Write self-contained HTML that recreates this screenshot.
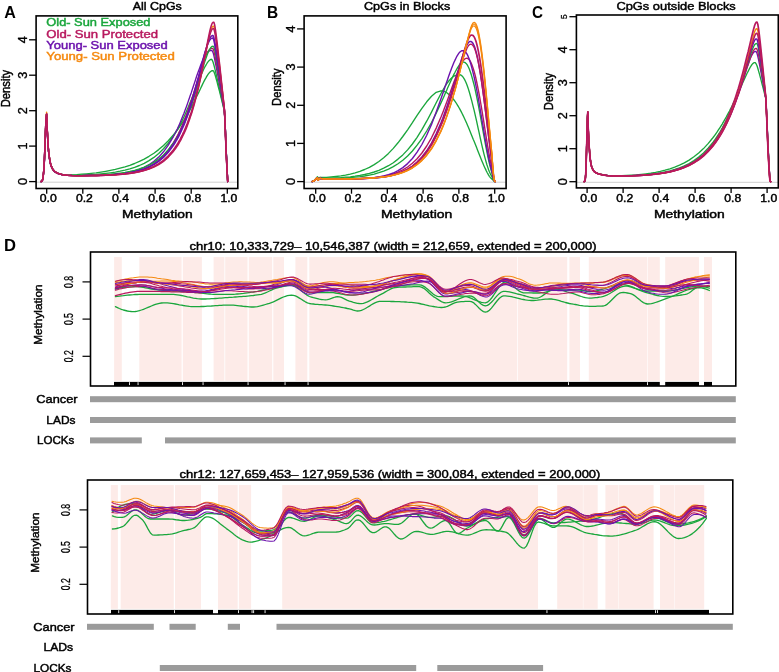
<!DOCTYPE html>
<html><head><meta charset="utf-8"><style>
html,body{margin:0;padding:0;background:#fff;width:779px;height:672px;overflow:hidden;}
svg{display:block;will-change:transform;font-family:"Liberation Sans", sans-serif;}
</style></head><body>
<svg width="779" height="672" viewBox="0 0 779 672" font-family='"Liberation Sans", sans-serif'>
<rect width="779" height="672" fill="#fff"/>
<line x1="36.1" y1="182.2" x2="237.8" y2="182.2" stroke="#cfcfcf" stroke-width="1"/>
<g stroke-linejoin="round" stroke-linecap="round">
<path d="M41.1 181.5 L41.6 181.4 L42 181 L42.4 180.3 L42.8 178.9 L43.2 176.4 L43.6 172.3 L44.1 166.2 L44.5 158 L44.9 147.8 L45.3 136.8 L45.7 126.4 L46.1 118.4 L46.6 114.4 L47 125.2 L47.4 132.8 L47.8 140.5 L48.2 146.7 L48.6 151.6 L49.1 155.4 L49.5 158.5 L49.9 161 L50.3 162.9 L50.7 164.6 L51.1 165.9 L51.6 167 L52 167.9 L52.4 168.7 L52.8 169.4 L53.2 169.9 L53.6 170.4 L54.1 170.9 L54.5 171.3 L54.9 171.6 L55.3 171.9 L55.7 172.2 L57.5 173.1 L62.4 174.4 L67.2 174.8 L72 174.8 L76.8 174.6 L81.6 174.2 L86.4 173.8 L91.2 173.3 L96.1 172.8 L100.9 172.1 L105.7 171.3 L110.5 170.4 L115.3 169.4 L120.1 168.2 L125 166.9 L129.8 165.3 L134.6 163.5 L139.4 161.4 L144.2 159.1 L149 156.3 L153.9 153.2 L158.7 149.6 L163.5 145.5 L168.3 140.7 L173.1 135.3 L174.9 133.1 L175.7 132 L176.5 131 L177.4 129.9 L178.2 128.8 L179 127.7 L179.8 126.5 L180.6 125.3 L181.4 124.1 L182.2 122.9 L183 121.6 L183.9 120.4 L184.7 119 L185.5 117.7 L186.3 116.3 L187.1 115 L187.9 113.5 L188.7 112.1 L189.5 110.6 L190.3 109.1 L191.2 107.6 L192 106.1 L192.8 104.5 L193.6 102.9 L194.4 101.3 L195.2 99.6 L196 98 L196.8 96.3 L197.6 94.6 L198.5 92.9 L199.3 91.2 L200.1 89.5 L200.9 87.8 L201.7 86.1 L202.5 84.4 L203.3 82.7 L204.1 81.1 L204.9 79.6 L205.8 78.1 L206.6 76.6 L207.4 75.3 L208.2 74.1 L209 73.1 L209.8 72.2 L210.6 71.5 L211.4 71 L212.2 70.7 L213.1 70.7 L213.9 71.7 L214.7 73.8 L215.5 76.3 L216.3 79.2 L217.1 82.2 L217.9 85.3 L218.7 88.4 L219.6 91.6 L220.4 94.8 L221.2 98 L222 101.3 L222.8 104.5 L223.6 107.8 L224.4 111.1 L225.2 125.1 L226 145.8 L226.9 164.7 L227.7 181.6" stroke="#1aa63c" stroke-width="1.35" fill="none"/>
<path d="M41.1 181.5 L41.6 181.4 L42 181 L42.4 180.3 L42.8 178.9 L43.2 176.4 L43.6 172.3 L44.1 166.2 L44.5 158 L44.9 147.9 L45.3 136.9 L45.7 126.5 L46.1 118.5 L46.6 114.5 L47 125.6 L47.4 132.9 L47.8 140.6 L48.2 146.8 L48.6 151.7 L49.1 155.6 L49.5 158.6 L49.9 161.1 L50.3 163.1 L50.7 164.7 L51.1 166.1 L51.6 167.2 L52 168.1 L52.4 168.9 L52.8 169.6 L53.2 170.1 L53.6 170.7 L54.1 171.1 L54.5 171.5 L54.9 171.9 L55.3 172.2 L55.7 172.5 L57.5 173.4 L62.4 174.8 L67.2 175.3 L72 175.4 L76.8 175.4 L81.6 175.2 L86.4 175 L91.2 174.7 L96.1 174.4 L100.9 173.9 L105.7 173.4 L110.5 172.8 L115.3 172.1 L120.1 171.2 L125 170.1 L129.8 168.9 L134.6 167.3 L139.4 165.5 L144.2 163.3 L149 160.6 L153.9 157.4 L158.7 153.5 L163.5 148.8 L168.3 143.2 L173.1 136.5 L174.9 133.7 L175.7 132.3 L176.5 131 L177.4 129.6 L178.2 128.1 L179 126.7 L179.8 125.1 L180.6 123.6 L181.4 122 L182.2 120.4 L183 118.7 L183.9 117 L184.7 115.3 L185.5 113.5 L186.3 111.7 L187.1 109.8 L187.9 107.9 L188.7 106 L189.5 104.1 L190.3 102.1 L191.2 100.1 L192 98.1 L192.8 96 L193.6 94 L194.4 91.9 L195.2 89.8 L196 87.7 L196.8 85.7 L197.6 83.6 L198.5 81.6 L199.3 79.5 L200.1 77.6 L200.9 75.6 L201.7 73.7 L202.5 71.9 L203.3 70.1 L204.1 68.4 L204.9 66.8 L205.8 65.3 L206.6 64 L207.4 62.7 L208.2 61.7 L209 60.7 L209.8 60 L210.6 59.5 L211.4 59.3 L212.2 60.1 L213.1 62.2 L213.9 65 L214.7 68.1 L215.5 71.4 L216.3 74.8 L217.1 78.3 L217.9 81.9 L218.7 85.5 L219.6 89.1 L220.4 92.7 L221.2 96.3 L222 99.9 L222.8 103.6 L223.6 107.2 L224.4 110.9 L225.2 125.2 L226 146.1 L226.9 164.9 L227.7 181.6" stroke="#1aa63c" stroke-width="1.35" fill="none"/>
<path d="M41.1 181.5 L41.6 181.4 L42 181 L42.4 180.3 L42.8 178.9 L43.2 176.4 L43.6 172.3 L44.1 166.2 L44.5 157.9 L44.9 147.7 L45.3 136.6 L45.7 126.2 L46.1 118.2 L46.6 114.2 L47 125.7 L47.4 132.6 L47.8 140.3 L48.2 146.5 L48.6 151.4 L49.1 155.3 L49.5 158.4 L49.9 160.8 L50.3 162.8 L50.7 164.5 L51.1 165.8 L51.6 166.9 L52 167.8 L52.4 168.6 L52.8 169.3 L53.2 169.9 L53.6 170.4 L54.1 170.9 L54.5 171.3 L54.9 171.6 L55.3 172 L55.7 172.3 L57.5 173.3 L62.4 174.7 L67.2 175.3 L72 175.6 L76.8 175.7 L81.6 175.7 L86.4 175.7 L91.2 175.6 L96.1 175.5 L100.9 175.3 L105.7 175.1 L110.5 174.8 L115.3 174.4 L120.1 173.8 L125 173.1 L129.8 172.2 L134.6 171 L139.4 169.4 L144.2 167.3 L149 164.7 L153.9 161.3 L158.7 157.1 L163.5 151.8 L168.3 145.2 L173.1 137.2 L174.9 133.8 L175.7 132.2 L176.5 130.5 L177.4 128.8 L178.2 127.1 L179 125.3 L179.8 123.4 L180.6 121.5 L181.4 119.6 L182.2 117.6 L183 115.5 L183.9 113.4 L184.7 111.3 L185.5 109.1 L186.3 106.9 L187.1 104.7 L187.9 102.4 L188.7 100 L189.5 97.7 L190.3 95.3 L191.2 92.9 L192 90.4 L192.8 88 L193.6 85.5 L194.4 83.1 L195.2 80.7 L196 78.2 L196.8 75.8 L197.6 73.5 L198.5 71.1 L199.3 68.9 L200.1 66.7 L200.9 64.6 L201.7 62.5 L202.5 60.6 L203.3 58.9 L204.1 57.2 L204.9 55.8 L205.8 54.4 L206.6 53.3 L207.4 52.4 L208.2 51.6 L209 51.1 L209.8 50.7 L210.6 50.5 L211.4 50.4 L212.2 50.8 L213.1 52.7 L213.9 55.7 L214.7 59.3 L215.5 63.2 L216.3 67.3 L217.1 71.5 L217.9 75.7 L218.7 80 L219.6 84.3 L220.4 88.7 L221.2 93 L222 97.4 L222.8 101.8 L223.6 106.2 L224.4 110.6 L225.2 125.6 L226 146.8 L226.9 165.5 L227.7 181.6" stroke="#6c12ad" stroke-width="1.35" fill="none"/>
<path d="M41.1 181.5 L41.6 181.4 L42 181 L42.4 180.3 L42.8 178.9 L43.2 176.4 L43.6 172.3 L44.1 166.2 L44.5 157.9 L44.9 147.7 L45.3 136.6 L45.7 126.2 L46.1 118.2 L46.6 114.1 L47 125.7 L47.4 132.6 L47.8 140.3 L48.2 146.5 L48.6 151.4 L49.1 155.3 L49.5 158.4 L49.9 160.8 L50.3 162.8 L50.7 164.4 L51.1 165.8 L51.6 166.9 L52 167.8 L52.4 168.6 L52.8 169.3 L53.2 169.9 L53.6 170.4 L54.1 170.9 L54.5 171.3 L54.9 171.6 L55.3 172 L55.7 172.3 L57.5 173.3 L62.4 174.7 L67.2 175.3 L72 175.6 L76.8 175.7 L81.6 175.7 L86.4 175.7 L91.2 175.6 L96.1 175.5 L100.9 175.4 L105.7 175.2 L110.5 174.9 L115.3 174.6 L120.1 174.1 L125 173.6 L129.8 172.8 L134.6 171.8 L139.4 170.5 L144.2 168.8 L149 166.7 L153.9 163.9 L158.7 160.3 L163.5 155.8 L168.3 150.2 L173.1 143.2 L174.9 140.1 L175.7 138.7 L176.5 137.2 L177.4 135.6 L178.2 134.1 L179 132.4 L179.8 130.7 L180.6 128.9 L181.4 127.1 L182.2 125.3 L183 123.3 L183.9 121.4 L184.7 119.3 L185.5 117.2 L186.3 115.1 L187.1 112.9 L187.9 110.6 L188.7 108.3 L189.5 106 L190.3 103.6 L191.2 101.1 L192 98.6 L192.8 96 L193.6 93.5 L194.4 90.8 L195.2 88.2 L196 85.5 L196.8 82.8 L197.6 80.1 L198.5 77.5 L199.3 74.8 L200.1 72.2 L200.9 69.6 L201.7 67 L202.5 64.6 L203.3 62.2 L204.1 59.9 L204.9 57.8 L205.8 55.9 L206.6 54.1 L207.4 52.6 L208.2 51.2 L209 50.2 L209.8 49.3 L210.6 48.8 L211.4 48.4 L212.2 48.3 L213.1 48.8 L213.9 51.1 L214.7 54.6 L215.5 58.6 L216.3 62.9 L217.1 67.4 L217.9 72.1 L218.7 76.7 L219.6 81.5 L220.4 86.2 L221.2 91 L222 95.9 L222.8 100.7 L223.6 105.5 L224.4 110.4 L225.2 125.8 L226 147.2 L226.9 165.8 L227.7 181.6" stroke="#b8185e" stroke-width="1.35" fill="none"/>
<path d="M41.1 181.5 L41.6 181.4 L42 181 L42.4 180.3 L42.8 178.9 L43.2 176.4 L43.6 172.3 L44.1 166.1 L44.5 157.8 L44.9 147.7 L45.3 136.6 L45.7 126.1 L46.1 118.1 L46.6 114.1 L47 125.7 L47.4 132.6 L47.8 140.3 L48.2 146.5 L48.6 151.3 L49.1 155.2 L49.5 158.3 L49.9 160.8 L50.3 162.7 L50.7 164.4 L51.1 165.7 L51.6 166.8 L52 167.8 L52.4 168.6 L52.8 169.2 L53.2 169.8 L53.6 170.3 L54.1 170.8 L54.5 171.2 L54.9 171.6 L55.3 171.9 L55.7 172.2 L57.5 173.2 L62.4 174.6 L67.2 175.2 L72 175.4 L76.8 175.5 L81.6 175.4 L86.4 175.4 L91.2 175.2 L96.1 175 L100.9 174.8 L105.7 174.5 L110.5 174.2 L115.3 173.7 L120.1 173.1 L125 172.4 L129.8 171.5 L134.6 170.4 L139.4 169 L144.2 167.2 L149 165.1 L153.9 162.4 L158.7 159 L163.5 154.9 L168.3 149.8 L173.1 143.5 L174.9 140.8 L175.7 139.6 L176.5 138.2 L177.4 136.9 L178.2 135.5 L179 134 L179.8 132.5 L180.6 131 L181.4 129.3 L182.2 127.7 L183 126 L183.9 124.2 L184.7 122.4 L185.5 120.5 L186.3 118.6 L187.1 116.6 L187.9 114.6 L188.7 112.5 L189.5 110.4 L190.3 108.1 L191.2 105.9 L192 103.5 L192.8 101.2 L193.6 98.7 L194.4 96.2 L195.2 93.7 L196 91.1 L196.8 88.4 L197.6 85.8 L198.5 83.1 L199.3 80.3 L200.1 77.6 L200.9 74.8 L201.7 72 L202.5 69.3 L203.3 66.5 L204.1 63.9 L204.9 61.3 L205.8 58.8 L206.6 56.5 L207.4 54.3 L208.2 52.3 L209 50.5 L209.8 49 L210.6 47.8 L211.4 46.9 L212.2 46.4 L213.1 46.2 L213.9 47 L214.7 49.7 L215.5 53.6 L216.3 58.1 L217.1 62.9 L217.9 67.9 L218.7 73 L219.6 78.2 L220.4 83.5 L221.2 88.8 L222 94.1 L222.8 99.4 L223.6 104.8 L224.4 110.2 L225.2 126.1 L226 147.6 L226.9 166.2 L227.7 181.6" stroke="#1aa63c" stroke-width="1.35" fill="none"/>
<path d="M41.1 181.5 L41.6 181.4 L42 181 L42.4 180.3 L42.8 178.9 L43.2 176.4 L43.6 172.3 L44.1 166.2 L44.5 157.9 L44.9 147.7 L45.3 136.6 L45.7 126.2 L46.1 118.2 L46.6 114.1 L47 125.7 L47.4 132.6 L47.8 140.3 L48.2 146.5 L48.6 151.4 L49.1 155.3 L49.5 158.3 L49.9 160.8 L50.3 162.8 L50.7 164.4 L51.1 165.8 L51.6 166.9 L52 167.8 L52.4 168.6 L52.8 169.3 L53.2 169.9 L53.6 170.4 L54.1 170.9 L54.5 171.3 L54.9 171.6 L55.3 172 L55.7 172.2 L57.5 173.2 L62.4 174.7 L67.2 175.3 L72 175.6 L76.8 175.7 L81.6 175.7 L86.4 175.6 L91.2 175.5 L96.1 175.4 L100.9 175.3 L105.7 175.1 L110.5 174.8 L115.3 174.5 L120.1 174 L125 173.5 L129.8 172.7 L134.6 171.7 L139.4 170.5 L144.2 168.9 L149 166.8 L153.9 164.2 L158.7 160.8 L163.5 156.6 L168.3 151.3 L173.1 144.6 L174.9 141.6 L175.7 140.2 L176.5 138.8 L177.4 137.3 L178.2 135.8 L179 134.2 L179.8 132.5 L180.6 130.8 L181.4 129 L182.2 127.2 L183 125.3 L183.9 123.3 L184.7 121.3 L185.5 119.2 L186.3 117 L187.1 114.8 L187.9 112.5 L188.7 110.1 L189.5 107.7 L190.3 105.2 L191.2 102.6 L192 100 L192.8 97.3 L193.6 94.5 L194.4 91.7 L195.2 88.8 L196 85.9 L196.8 82.9 L197.6 79.9 L198.5 76.8 L199.3 73.7 L200.1 70.6 L200.9 67.5 L201.7 64.4 L202.5 61.4 L203.3 58.4 L204.1 55.5 L204.9 52.6 L205.8 50 L206.6 47.5 L207.4 45.2 L208.2 43.2 L209 41.4 L209.8 40 L210.6 39 L211.4 38.4 L212.2 38.1 L213.1 38.3 L213.9 40.6 L214.7 44.4 L215.5 49.1 L216.3 54.1 L217.1 59.4 L217.9 64.8 L218.7 70.3 L219.6 75.9 L220.4 81.5 L221.2 87.2 L222 92.9 L222.8 98.6 L223.6 104.3 L224.4 110 L225.2 126.2 L226 147.9 L226.9 166.4 L227.7 181.6" stroke="#6c12ad" stroke-width="1.5" fill="none"/>
<path d="M41.1 181.5 L41.6 181.4 L42 181 L42.4 180.3 L42.8 178.9 L43.2 176.4 L43.6 172.3 L44.1 166.2 L44.5 157.9 L44.9 147.7 L45.3 136.6 L45.7 126.2 L46.1 118.2 L46.6 114.1 L47 125.7 L47.4 132.6 L47.8 140.3 L48.2 146.5 L48.6 151.4 L49.1 155.3 L49.5 158.3 L49.9 160.8 L50.3 162.8 L50.7 164.4 L51.1 165.8 L51.6 166.9 L52 167.8 L52.4 168.6 L52.8 169.3 L53.2 169.9 L53.6 170.4 L54.1 170.9 L54.5 171.3 L54.9 171.6 L55.3 171.9 L55.7 172.2 L57.5 173.2 L62.4 174.7 L67.2 175.3 L72 175.6 L76.8 175.7 L81.6 175.7 L86.4 175.6 L91.2 175.5 L96.1 175.4 L100.9 175.3 L105.7 175.1 L110.5 174.8 L115.3 174.5 L120.1 174.1 L125 173.5 L129.8 172.8 L134.6 171.9 L139.4 170.7 L144.2 169.1 L149 167.2 L153.9 164.7 L158.7 161.5 L163.5 157.4 L168.3 152.3 L173.1 145.8 L174.9 143 L175.7 141.7 L176.5 140.3 L177.4 138.8 L178.2 137.3 L179 135.8 L179.8 134.2 L180.6 132.5 L181.4 130.8 L182.2 129 L183 127.1 L183.9 125.2 L184.7 123.2 L185.5 121.1 L186.3 119 L187.1 116.8 L187.9 114.6 L188.7 112.2 L189.5 109.8 L190.3 107.3 L191.2 104.8 L192 102.1 L192.8 99.4 L193.6 96.6 L194.4 93.8 L195.2 90.9 L196 87.9 L196.8 84.8 L197.6 81.7 L198.5 78.6 L199.3 75.4 L200.1 72.1 L200.9 68.9 L201.7 65.6 L202.5 62.4 L203.3 59.1 L204.1 56 L204.9 52.9 L205.8 49.9 L206.6 47.1 L207.4 44.5 L208.2 42.1 L209 40 L209.8 38.3 L210.6 37 L211.4 36.1 L212.2 35.6 L213.1 35.6 L213.9 37.6 L214.7 41.3 L215.5 46 L216.3 51.3 L217.1 56.8 L217.9 62.4 L218.7 68.2 L219.6 74.1 L220.4 80 L221.2 85.9 L222 91.9 L222.8 97.9 L223.6 103.9 L224.4 109.9 L225.2 126.4 L226 148.2 L226.9 166.6 L227.7 181.6" stroke="#6c12ad" stroke-width="1.5" fill="none"/>
<path d="M41.1 181.5 L41.6 181.3 L42 181 L42.4 180.2 L42.8 178.8 L43.2 176.2 L43.6 172 L44.1 165.7 L44.5 157.2 L44.9 146.8 L45.3 135.4 L45.7 124.7 L46.1 116.4 L46.6 112.3 L47 124.1 L47.4 131.3 L47.8 139.2 L48.2 145.6 L48.6 150.7 L49.1 154.6 L49.5 157.8 L49.9 160.4 L50.3 162.4 L50.7 164.1 L51.1 165.5 L51.6 166.6 L52 167.6 L52.4 168.4 L52.8 169.1 L53.2 169.7 L53.6 170.2 L54.1 170.7 L54.5 171.1 L54.9 171.5 L55.3 171.8 L55.7 172.1 L57.5 173.2 L62.4 174.7 L67.2 175.3 L72 175.6 L76.8 175.7 L81.6 175.7 L86.4 175.6 L91.2 175.6 L96.1 175.5 L100.9 175.4 L105.7 175.2 L110.5 175 L115.3 174.7 L120.1 174.4 L125 173.9 L129.8 173.3 L134.6 172.6 L139.4 171.6 L144.2 170.4 L149 168.8 L153.9 166.7 L158.7 164.1 L163.5 160.8 L168.3 156.5 L173.1 151 L174.9 148.6 L175.7 147.4 L176.5 146.2 L177.4 144.9 L178.2 143.6 L179 142.3 L179.8 140.8 L180.6 139.4 L181.4 137.8 L182.2 136.2 L183 134.5 L183.9 132.8 L184.7 131 L185.5 129.1 L186.3 127.1 L187.1 125.1 L187.9 123 L188.7 120.8 L189.5 118.5 L190.3 116.1 L191.2 113.7 L192 111.1 L192.8 108.5 L193.6 105.7 L194.4 102.9 L195.2 99.9 L196 96.9 L196.8 93.7 L197.6 90.4 L198.5 87 L199.3 83.6 L200.1 80 L200.9 76.3 L201.7 72.5 L202.5 68.7 L203.3 64.7 L204.1 60.7 L204.9 56.7 L205.8 52.6 L206.6 48.6 L207.4 44.7 L208.2 40.8 L209 37.2 L209.8 33.9 L210.6 31 L211.4 28.7 L212.2 27 L213.1 26.1 L213.9 26.2 L214.7 28.8 L215.5 33.5 L216.3 39.3 L217.1 45.7 L217.9 52.4 L218.7 59.2 L219.6 66.2 L220.4 73.3 L221.2 80.5 L222 87.6 L222.8 94.8 L223.6 102.1 L224.4 109.3 L225.2 127 L226 149.3 L226.9 167.5 L227.7 181.6" stroke="#f5890f" stroke-width="1.4" fill="none"/>
<path d="M41.1 181.5 L41.6 181.4 L42 181 L42.4 180.3 L42.8 178.9 L43.2 176.4 L43.6 172.3 L44.1 166.2 L44.5 157.9 L44.9 147.7 L45.3 136.6 L45.7 126.2 L46.1 118.2 L46.6 114.1 L47 125.7 L47.4 132.6 L47.8 140.3 L48.2 146.5 L48.6 151.4 L49.1 155.3 L49.5 158.3 L49.9 160.8 L50.3 162.8 L50.7 164.4 L51.1 165.8 L51.6 166.9 L52 167.8 L52.4 168.6 L52.8 169.3 L53.2 169.9 L53.6 170.4 L54.1 170.9 L54.5 171.3 L54.9 171.6 L55.3 171.9 L55.7 172.2 L57.5 173.2 L62.4 174.7 L67.2 175.3 L72 175.6 L76.8 175.7 L81.6 175.7 L86.4 175.6 L91.2 175.6 L96.1 175.5 L100.9 175.4 L105.7 175.2 L110.5 175 L115.3 174.7 L120.1 174.3 L125 173.9 L129.8 173.3 L134.6 172.5 L139.4 171.5 L144.2 170.2 L149 168.5 L153.9 166.4 L158.7 163.7 L163.5 160.3 L168.3 155.8 L173.1 150.2 L174.9 147.7 L175.7 146.5 L176.5 145.3 L177.4 144 L178.2 142.6 L179 141.2 L179.8 139.8 L180.6 138.3 L181.4 136.7 L182.2 135.1 L183 133.4 L183.9 131.6 L184.7 129.7 L185.5 127.8 L186.3 125.8 L187.1 123.8 L187.9 121.6 L188.7 119.4 L189.5 117.1 L190.3 114.7 L191.2 112.2 L192 109.6 L192.8 107 L193.6 104.2 L194.4 101.4 L195.2 98.4 L196 95.3 L196.8 92.2 L197.6 88.9 L198.5 85.6 L199.3 82.2 L200.1 78.6 L200.9 75 L201.7 71.3 L202.5 67.5 L203.3 63.7 L204.1 59.9 L204.9 56 L205.8 52.1 L206.6 48.3 L207.4 44.7 L208.2 41.1 L209 37.9 L209.8 34.9 L210.6 32.4 L211.4 30.5 L212.2 29.1 L213.1 28.5 L213.9 29 L214.7 32 L215.5 36.8 L216.3 42.5 L217.1 48.6 L217.9 55.1 L218.7 61.7 L219.6 68.3 L220.4 75.1 L221.2 81.9 L222 88.8 L222.8 95.7 L223.6 102.6 L224.4 109.5 L225.2 126.8 L226 149 L226.9 167.3 L227.7 181.6" stroke="#b8185e" stroke-width="1.5" fill="none"/>
<path d="M41.1 181.5 L41.6 181.4 L42 181 L42.4 180.3 L42.8 178.9 L43.2 176.4 L43.6 172.3 L44.1 166.2 L44.5 157.9 L44.9 147.7 L45.3 136.6 L45.7 126.2 L46.1 118.2 L46.6 114.1 L47 125.7 L47.4 132.6 L47.8 140.3 L48.2 146.5 L48.6 151.4 L49.1 155.3 L49.5 158.3 L49.9 160.8 L50.3 162.8 L50.7 164.4 L51.1 165.8 L51.6 166.9 L52 167.8 L52.4 168.6 L52.8 169.3 L53.2 169.9 L53.6 170.4 L54.1 170.9 L54.5 171.3 L54.9 171.6 L55.3 172 L55.7 172.2 L57.5 173.2 L62.4 174.7 L67.2 175.3 L72 175.6 L76.8 175.7 L81.6 175.7 L86.4 175.7 L91.2 175.6 L96.1 175.5 L100.9 175.4 L105.7 175.2 L110.5 175 L115.3 174.8 L120.1 174.4 L125 174 L129.8 173.5 L134.6 172.7 L139.4 171.8 L144.2 170.6 L149 169.1 L153.9 167.1 L158.7 164.6 L163.5 161.3 L168.3 157.1 L173.1 151.8 L174.9 149.4 L175.7 148.2 L176.5 147 L177.4 145.8 L178.2 144.5 L179 143.1 L179.8 141.7 L180.6 140.3 L181.4 138.7 L182.2 137.1 L183 135.5 L183.9 133.7 L184.7 131.9 L185.5 130.1 L186.3 128.1 L187.1 126.1 L187.9 124 L188.7 121.8 L189.5 119.5 L190.3 117.1 L191.2 114.6 L192 112 L192.8 109.3 L193.6 106.5 L194.4 103.7 L195.2 100.6 L196 97.5 L196.8 94.3 L197.6 91 L198.5 87.5 L199.3 83.9 L200.1 80.2 L200.9 76.4 L201.7 72.5 L202.5 68.4 L203.3 64.3 L204.1 60.1 L204.9 55.8 L205.8 51.5 L206.6 47.2 L207.4 43 L208.2 38.8 L209 34.8 L209.8 31.2 L210.6 27.9 L211.4 25.3 L212.2 23.3 L213.1 22.3 L213.9 22.3 L214.7 25 L215.5 30 L216.3 36 L217.1 42.7 L217.9 49.7 L218.7 56.8 L219.6 64.2 L220.4 71.6 L221.2 79 L222 86.5 L222.8 94.1 L223.6 101.6 L224.4 109.2 L225.2 127.1 L226 149.6 L226.9 167.8 L227.7 181.6" stroke="#b8185e" stroke-width="1.55" fill="none"/>
</g>
<rect x="36.1" y="15.9" width="201.7" height="172.6" fill="none" stroke="#000" stroke-width="1.6"/>
<line x1="29.1" y1="181.6" x2="36.1" y2="181.6" stroke="#000" stroke-width="1.3"/>
<text x="27" y="181.6" font-size="12.6" font-weight="normal" fill="#000" text-anchor="middle" transform="rotate(-90 27 181.6)" stroke="#000" stroke-width="0.35">0</text>
<line x1="29.1" y1="146.1" x2="36.1" y2="146.1" stroke="#000" stroke-width="1.3"/>
<text x="27" y="146.1" font-size="12.6" font-weight="normal" fill="#000" text-anchor="middle" transform="rotate(-90 27 146.1)" stroke="#000" stroke-width="0.35">1</text>
<line x1="29.1" y1="110.7" x2="36.1" y2="110.7" stroke="#000" stroke-width="1.3"/>
<text x="27" y="110.7" font-size="12.6" font-weight="normal" fill="#000" text-anchor="middle" transform="rotate(-90 27 110.7)" stroke="#000" stroke-width="0.35">2</text>
<line x1="29.1" y1="75.2" x2="36.1" y2="75.2" stroke="#000" stroke-width="1.3"/>
<text x="27" y="75.2" font-size="12.6" font-weight="normal" fill="#000" text-anchor="middle" transform="rotate(-90 27 75.2)" stroke="#000" stroke-width="0.35">3</text>
<line x1="29.1" y1="39.8" x2="36.1" y2="39.8" stroke="#000" stroke-width="1.3"/>
<text x="27" y="39.8" font-size="12.6" font-weight="normal" fill="#000" text-anchor="middle" transform="rotate(-90 27 39.8)" stroke="#000" stroke-width="0.35">4</text>
<line x1="46.7" y1="188.5" x2="46.7" y2="193.7" stroke="#000" stroke-width="1.3"/>
<text x="48.3" y="202" font-size="11.6" font-weight="normal" fill="#000" text-anchor="middle" textLength="17" lengthAdjust="spacingAndGlyphs" stroke="#000" stroke-width="0.45">0.0</text>
<line x1="82.8" y1="188.5" x2="82.8" y2="193.7" stroke="#000" stroke-width="1.3"/>
<text x="84.4" y="202" font-size="11.6" font-weight="normal" fill="#000" text-anchor="middle" textLength="17" lengthAdjust="spacingAndGlyphs" stroke="#000" stroke-width="0.45">0.2</text>
<line x1="118.9" y1="188.5" x2="118.9" y2="193.7" stroke="#000" stroke-width="1.3"/>
<text x="120.5" y="202" font-size="11.6" font-weight="normal" fill="#000" text-anchor="middle" textLength="17" lengthAdjust="spacingAndGlyphs" stroke="#000" stroke-width="0.45">0.4</text>
<line x1="155.1" y1="188.5" x2="155.1" y2="193.7" stroke="#000" stroke-width="1.3"/>
<text x="156.7" y="202" font-size="11.6" font-weight="normal" fill="#000" text-anchor="middle" textLength="17" lengthAdjust="spacingAndGlyphs" stroke="#000" stroke-width="0.45">0.6</text>
<line x1="191.2" y1="188.5" x2="191.2" y2="193.7" stroke="#000" stroke-width="1.3"/>
<text x="192.8" y="202" font-size="11.6" font-weight="normal" fill="#000" text-anchor="middle" textLength="17" lengthAdjust="spacingAndGlyphs" stroke="#000" stroke-width="0.45">0.8</text>
<line x1="227.3" y1="188.5" x2="227.3" y2="193.7" stroke="#000" stroke-width="1.3"/>
<text x="228.9" y="202" font-size="11.6" font-weight="normal" fill="#000" text-anchor="middle" textLength="17" lengthAdjust="spacingAndGlyphs" stroke="#000" stroke-width="0.45">1.0</text>
<text x="122.1" y="218" font-size="11.4" font-weight="normal" fill="#000" text-anchor="start" textLength="70.6" lengthAdjust="spacingAndGlyphs" stroke="#000" stroke-width="0.45">Methylation</text>
<text x="9.8" y="88.6" font-size="13.0" font-weight="normal" fill="#000" text-anchor="middle" textLength="37.4" lengthAdjust="spacingAndGlyphs" transform="rotate(-90 9.8 88.6)" stroke="#000" stroke-width="0.45">Density</text>
<text x="132.7" y="9.5" font-size="11.6" font-weight="normal" fill="#000" text-anchor="start" textLength="49.1" lengthAdjust="spacingAndGlyphs" stroke="#000" stroke-width="0.45">All CpGs</text>
<text x="4.2" y="17.9" font-size="17" font-weight="bold" fill="#000" text-anchor="start" textLength="11.6" lengthAdjust="spacingAndGlyphs">A</text>
<text x="46.3" y="26.3" font-size="11.4" font-weight="normal" fill="#1aa63c" text-anchor="start" textLength="104.2" lengthAdjust="spacingAndGlyphs" stroke="#1aa63c" stroke-width="0.45">Old- Sun Exposed</text>
<text x="46.3" y="37.8" font-size="11.4" font-weight="normal" fill="#b8185e" text-anchor="start" textLength="111.7" lengthAdjust="spacingAndGlyphs" stroke="#b8185e" stroke-width="0.45">Old- Sun Protected</text>
<text x="46.3" y="48.9" font-size="11.4" font-weight="normal" fill="#6c12ad" text-anchor="start" textLength="121.5" lengthAdjust="spacingAndGlyphs" stroke="#6c12ad" stroke-width="0.45">Young- Sun Exposed</text>
<text x="46.3" y="59.9" font-size="11.4" font-weight="normal" fill="#f5890f" text-anchor="start" textLength="128.5" lengthAdjust="spacingAndGlyphs" stroke="#f5890f" stroke-width="0.45">Young- Sun Protected</text>
<line x1="304.1" y1="182.2" x2="506.1" y2="182.2" stroke="#cfcfcf" stroke-width="1"/>
<g stroke-linejoin="round" stroke-linecap="round">
<path d="M311.8 181.5 L312.3 181.4 L312.7 181.3 L313.1 181.2 L313.5 181 L313.9 180.7 L314.3 180.4 L314.7 179.9 L315.1 179.4 L315.6 178.9 L316 178.3 L316.4 177.8 L316.8 177.3 L317.2 177 L317.6 176.8 L318 179 L318.5 178.7 L318.9 178.3 L319.3 177.9 L319.7 177.5 L320.1 177.2 L320.5 177.3 L320.9 177.3 L321.3 177.4 L321.8 177.4 L322.2 177.4 L322.6 177.4 L323 177.4 L323.4 177.4 L323.8 177.4 L324.2 177.4 L324.6 177.4 L326.4 177.4 L331.2 177 L336 176.5 L340.8 175.9 L345.5 175.1 L350.3 174.1 L355.1 172.9 L359.9 171.4 L364.6 169.5 L369.4 167.3 L374.2 164.6 L378.9 161.5 L383.7 157.7 L388.5 153.4 L393.3 148.4 L398 142.8 L402.8 136.5 L407.6 129.8 L412.4 122.7 L417.1 115.4 L421.9 108.3 L426.7 101.8 L431.5 96.3 L436.2 92.3 L441 90.8 L442.8 91 L443.6 91.3 L444.4 91.5 L445.2 91.9 L446 92.3 L446.8 92.8 L447.6 93.4 L448.4 94 L449.2 94.7 L450 95.4 L450.8 96.2 L451.6 97.1 L452.4 98 L453.2 99 L454 100 L454.9 101.1 L455.7 102.3 L456.5 103.5 L457.3 104.8 L458.1 106.1 L458.9 107.5 L459.7 108.9 L460.5 110.4 L461.3 111.9 L462.1 113.5 L462.9 115.1 L463.7 116.8 L464.5 118.5 L465.3 120.2 L466.1 122 L466.9 123.8 L467.7 125.7 L468.5 127.6 L469.3 129.5 L470.1 131.5 L470.9 133.4 L471.7 135.4 L472.5 137.4 L473.3 139.4 L474.2 141.5 L475 143.5 L475.8 145.6 L476.6 147.6 L477.4 149.7 L478.2 151.7 L479 153.7 L479.8 155.8 L480.6 157.8 L481.4 159.7 L482.2 161.7 L483 163.6 L483.8 165.4 L484.6 167.2 L485.4 168.9 L486.2 170.6 L487 172.2 L487.8 173.7 L488.6 175.1 L489.4 176.3 L490.2 177.4 L491 178.3 L491.8 178.9 L492.7 179.7 L493.5 180.4 L494.3 181.2 L495.1 181.6" stroke="#1aa63c" stroke-width="1.35" fill="none"/>
<path d="M312.3 181.5 L312.7 181.4 L313.1 181.2 L313.5 181.1 L313.9 180.8 L314.3 180.5 L314.7 180.1 L315.1 179.7 L315.6 179.2 L316 178.7 L316.4 178.2 L316.8 177.8 L317.2 177.5 L317.6 177.3 L318 179.6 L318.5 179.3 L318.9 178.9 L319.3 178.5 L319.7 178.1 L320.1 177.9 L320.5 177.9 L320.9 178 L321.3 178 L321.8 178.1 L322.2 178.1 L322.6 178.1 L323 178.2 L323.4 178.2 L323.8 178.2 L324.2 178.2 L324.6 178.2 L326.4 178.3 L331.2 178.1 L336 177.9 L340.8 177.6 L345.5 177.2 L350.3 176.8 L355.1 176.2 L359.9 175.4 L364.6 174.5 L369.4 173.4 L374.2 172 L378.9 170.3 L383.7 168.2 L388.5 165.7 L393.3 162.7 L398 159.1 L402.8 154.9 L407.6 149.9 L412.4 144 L417.1 137.3 L421.9 129.7 L426.7 121.2 L431.5 112.1 L436.2 102.7 L441 93.5 L442.8 90.2 L443.6 88.8 L444.4 87.5 L445.2 86.2 L446 84.9 L446.8 83.7 L447.6 82.6 L448.4 81.5 L449.2 80.5 L450 79.6 L450.8 78.7 L451.6 78 L452.4 77.3 L453.2 76.7 L454 76.1 L454.9 75.7 L455.7 75.4 L456.5 75.1 L457.3 74.9 L458.1 74.8 L458.9 74.7 L459.7 74.7 L460.5 74.9 L461.3 75.4 L462.1 76 L462.9 76.9 L463.7 78.1 L464.5 79.4 L465.3 81 L466.1 82.8 L466.9 84.8 L467.7 87 L468.5 89.4 L469.3 92 L470.1 94.8 L470.9 97.7 L471.7 100.7 L472.5 103.9 L473.3 107.2 L474.2 110.6 L475 114.1 L475.8 117.6 L476.6 121.2 L477.4 124.9 L478.2 128.6 L479 132.2 L479.8 135.9 L480.6 139.5 L481.4 143.1 L482.2 146.6 L483 150 L483.8 153.3 L484.6 156.4 L485.4 159.4 L486.2 162.3 L487 165 L487.8 167.4 L488.6 169.7 L489.4 171.7 L490.2 173.5 L491 175.1 L491.8 176.4 L492.7 178.4 L493.5 180 L494.3 181.1 L495.1 181.6" stroke="#1aa63c" stroke-width="1.35" fill="none"/>
<path d="M312.3 181.5 L312.7 181.4 L313.1 181.3 L313.5 181.1 L313.9 180.9 L314.3 180.6 L314.7 180.2 L315.1 179.8 L315.6 179.3 L316 178.8 L316.4 178.4 L316.8 178 L317.2 177.7 L317.6 177.6 L318 179.9 L318.5 179.5 L318.9 179.2 L319.3 178.8 L319.7 178.4 L320.1 178.1 L320.5 178.2 L320.9 178.3 L321.3 178.3 L321.8 178.4 L322.2 178.4 L322.6 178.5 L323 178.5 L323.4 178.5 L323.8 178.5 L324.2 178.6 L324.6 178.6 L326.4 178.6 L331.2 178.6 L336 178.4 L340.8 178.2 L345.5 178 L350.3 177.6 L355.1 177.2 L359.9 176.7 L364.6 176 L369.4 175.1 L374.2 174.1 L378.9 172.7 L383.7 171.1 L388.5 169.1 L393.3 166.6 L398 163.7 L402.8 160.2 L407.6 156 L412.4 151 L417.1 145.2 L421.9 138.6 L426.7 131 L431.5 122.5 L436.2 113.1 L441 102.9 L442.8 99 L443.6 97.2 L444.4 95.4 L445.2 93.5 L446 91.7 L446.8 89.9 L447.6 88.1 L448.4 86.3 L449.2 84.5 L450 82.7 L450.8 80.9 L451.6 79.2 L452.4 77.5 L453.2 75.8 L454 74.1 L454.9 72.5 L455.7 71 L456.5 69.5 L457.3 68.1 L458.1 66.8 L458.9 65.6 L459.7 64.5 L460.5 63.6 L461.3 62.9 L462.1 62.4 L462.9 62.2 L463.7 62.1 L464.5 62.3 L465.3 62.7 L466.1 63.4 L466.9 64.4 L467.7 65.7 L468.5 67.2 L469.3 69.1 L470.1 71.2 L470.9 73.5 L471.7 76.1 L472.5 79 L473.3 82 L474.2 85.3 L475 88.8 L475.8 92.5 L476.6 96.3 L477.4 100.3 L478.2 104.4 L479 108.7 L479.8 113 L480.6 117.4 L481.4 121.9 L482.2 126.3 L483 130.8 L483.8 135.3 L484.6 139.7 L485.4 144.1 L486.2 148.3 L487 152.4 L487.8 156.4 L488.6 160.1 L489.4 163.6 L490.2 166.9 L491 169.8 L491.8 172.5 L492.7 176.3 L493.5 179.2 L494.3 181 L495.1 181.6" stroke="#1aa63c" stroke-width="1.35" fill="none"/>
<path d="M312.3 181.5 L312.7 181.4 L313.1 181.3 L313.5 181.1 L313.9 180.9 L314.3 180.6 L314.7 180.3 L315.1 179.9 L315.6 179.4 L316 179 L316.4 178.6 L316.8 178.2 L317.2 177.9 L317.6 177.8 L318 180.1 L318.5 179.8 L318.9 179.4 L319.3 179 L319.7 178.6 L320.1 178.4 L320.5 178.5 L320.9 178.5 L321.3 178.6 L321.8 178.6 L322.2 178.7 L322.6 178.7 L323 178.8 L323.4 178.8 L323.8 178.8 L324.2 178.9 L324.6 178.9 L326.4 179 L331.2 179 L336 179 L340.8 179 L345.5 178.9 L350.3 178.8 L355.1 178.7 L359.9 178.6 L364.6 178.3 L369.4 178 L374.2 177.6 L378.9 177.1 L383.7 176.3 L388.5 175.3 L393.3 173.9 L398 172.2 L402.8 169.9 L407.6 167 L412.4 163.3 L417.1 158.7 L421.9 153 L426.7 146 L431.5 137.8 L436.2 128.1 L441 117 L442.8 112.5 L443.6 110.4 L444.4 108.3 L445.2 106.2 L446 104.1 L446.8 101.9 L447.6 99.7 L448.4 97.5 L449.2 95.3 L450 93 L450.8 90.8 L451.6 88.5 L452.4 86.3 L453.2 84 L454 81.8 L454.9 79.6 L455.7 77.5 L456.5 75.3 L457.3 73.2 L458.1 71.2 L458.9 69.3 L459.7 67.4 L460.5 65.6 L461.3 64 L462.1 62.5 L462.9 61.2 L463.7 60.1 L464.5 59.2 L465.3 58.6 L466.1 58.4 L466.9 58.3 L467.7 58.5 L468.5 59 L469.3 59.8 L470.1 61 L470.9 62.4 L471.7 64.3 L472.5 66.4 L473.3 68.8 L474.2 71.6 L475 74.6 L475.8 77.9 L476.6 81.5 L477.4 85.3 L478.2 89.3 L479 93.5 L479.8 97.9 L480.6 102.5 L481.4 107.2 L482.2 112 L483 117 L483.8 121.9 L484.6 127 L485.4 132 L486.2 137 L487 141.9 L487.8 146.7 L488.6 151.3 L489.4 155.8 L490.2 160 L491 164 L491.8 167.6 L492.7 173.4 L493.5 177.9 L494.3 180.7 L495.1 181.6" stroke="#b8185e" stroke-width="1.4" fill="none"/>
<path d="M312.3 181.5 L312.7 181.4 L313.1 181.3 L313.5 181.1 L313.9 180.9 L314.3 180.6 L314.7 180.3 L315.1 179.9 L315.6 179.4 L316 179 L316.4 178.6 L316.8 178.2 L317.2 177.9 L317.6 177.8 L318 180.1 L318.5 179.8 L318.9 179.4 L319.3 179 L319.7 178.7 L320.1 178.4 L320.5 178.5 L320.9 178.5 L321.3 178.6 L321.8 178.7 L322.2 178.7 L322.6 178.7 L323 178.8 L323.4 178.8 L323.8 178.9 L324.2 178.9 L324.6 178.9 L326.4 179 L331.2 179.1 L336 179.1 L340.8 179 L345.5 179 L350.3 178.9 L355.1 178.8 L359.9 178.6 L364.6 178.4 L369.4 178.1 L374.2 177.6 L378.9 176.9 L383.7 176 L388.5 174.7 L393.3 173 L398 170.6 L402.8 167.6 L407.6 163.6 L412.4 158.5 L417.1 152.2 L421.9 144.5 L426.7 135.2 L431.5 124.4 L436.2 112.1 L441 98.7 L442.8 93.5 L443.6 91.2 L444.4 88.8 L445.2 86.4 L446 84.1 L446.8 81.7 L447.6 79.4 L448.4 77.1 L449.2 74.8 L450 72.6 L450.8 70.4 L451.6 68.2 L452.4 66.2 L453.2 64.2 L454 62.2 L454.9 60.4 L455.7 58.7 L456.5 57 L457.3 55.6 L458.1 54.3 L458.9 53.1 L459.7 52.2 L460.5 51.5 L461.3 51 L462.1 50.7 L462.9 50.7 L463.7 50.7 L464.5 51.1 L465.3 51.7 L466.1 52.7 L466.9 53.9 L467.7 55.4 L468.5 57.2 L469.3 59.3 L470.1 61.7 L470.9 64.3 L471.7 67.2 L472.5 70.3 L473.3 73.7 L474.2 77.3 L475 81 L475.8 85 L476.6 89.1 L477.4 93.4 L478.2 97.9 L479 102.4 L479.8 107 L480.6 111.8 L481.4 116.5 L482.2 121.3 L483 126.1 L483.8 130.9 L484.6 135.6 L485.4 140.3 L486.2 144.8 L487 149.2 L487.8 153.5 L488.6 157.5 L489.4 161.3 L490.2 164.9 L491 168.1 L491.8 171 L492.7 175.4 L493.5 178.8 L494.3 180.9 L495.1 181.6" stroke="#6c12ad" stroke-width="1.4" fill="none"/>
<path d="M312.3 181.5 L312.7 181.4 L313.1 181.3 L313.5 181.1 L313.9 180.9 L314.3 180.6 L314.7 180.3 L315.1 179.9 L315.6 179.4 L316 179 L316.4 178.6 L316.8 178.2 L317.2 177.9 L317.6 177.8 L318 180.1 L318.5 179.8 L318.9 179.4 L319.3 179 L319.7 178.7 L320.1 178.4 L320.5 178.5 L320.9 178.5 L321.3 178.6 L321.8 178.6 L322.2 178.7 L322.6 178.7 L323 178.8 L323.4 178.8 L323.8 178.8 L324.2 178.9 L324.6 178.9 L326.4 179 L331.2 179 L336 179 L340.8 179 L345.5 179 L350.3 178.9 L355.1 178.8 L359.9 178.7 L364.6 178.5 L369.4 178.3 L374.2 177.9 L378.9 177.5 L383.7 176.9 L388.5 176.1 L393.3 175 L398 173.6 L402.8 171.7 L407.6 169.2 L412.4 166.1 L417.1 162.1 L421.9 157 L426.7 150.8 L431.5 143.1 L436.2 133.8 L441 122.8 L442.8 118.2 L443.6 116 L444.4 113.8 L445.2 111.6 L446 109.3 L446.8 107 L447.6 104.6 L448.4 102.2 L449.2 99.7 L450 97.2 L450.8 94.7 L451.6 92.1 L452.4 89.5 L453.2 86.9 L454 84.3 L454.9 81.6 L455.7 78.9 L456.5 76.2 L457.3 73.5 L458.1 70.8 L458.9 68.1 L459.7 65.5 L460.5 62.8 L461.3 60.3 L462.1 57.7 L462.9 55.3 L463.7 52.9 L464.5 50.7 L465.3 48.6 L466.1 46.7 L466.9 45 L467.7 43.6 L468.5 42.5 L469.3 41.8 L470.1 41.5 L470.9 41.5 L471.7 41.9 L472.5 42.7 L473.3 44 L474.2 45.8 L475 48 L475.8 50.6 L476.6 53.7 L477.4 57.2 L478.2 61.1 L479 65.3 L479.8 70 L480.6 74.9 L481.4 80.2 L482.2 85.8 L483 91.6 L483.8 97.6 L484.6 103.9 L485.4 110.2 L486.2 116.7 L487 123.3 L487.8 129.8 L488.6 136.3 L489.4 142.7 L490.2 148.9 L491 154.8 L491.8 160.5 L492.7 169.4 L493.5 176.3 L494.3 180.4 L495.1 181.6" stroke="#6c12ad" stroke-width="1.5" fill="none"/>
<path d="M312.3 181.5 L312.7 181.4 L313.1 181.3 L313.5 181.1 L313.9 180.9 L314.3 180.6 L314.7 180.3 L315.1 179.9 L315.6 179.4 L316 179 L316.4 178.6 L316.8 178.2 L317.2 177.9 L317.6 177.8 L318 180.1 L318.5 179.7 L318.9 179.4 L319.3 179 L319.7 178.6 L320.1 178.4 L320.5 178.5 L320.9 178.5 L321.3 178.6 L321.8 178.6 L322.2 178.7 L322.6 178.7 L323 178.8 L323.4 178.8 L323.8 178.8 L324.2 178.9 L324.6 178.9 L326.4 179 L331.2 179 L336 179 L340.8 179 L345.5 178.9 L350.3 178.9 L355.1 178.8 L359.9 178.6 L364.6 178.5 L369.4 178.2 L374.2 177.9 L378.9 177.4 L383.7 176.8 L388.5 176 L393.3 174.9 L398 173.5 L402.8 171.6 L407.6 169.3 L412.4 166.2 L417.1 162.3 L421.9 157.5 L426.7 151.5 L431.5 144.2 L436.2 135.3 L441 124.8 L442.8 120.4 L443.6 118.4 L444.4 116.3 L445.2 114.1 L446 111.9 L446.8 109.7 L447.6 107.4 L448.4 105.1 L449.2 102.7 L450 100.3 L450.8 97.9 L451.6 95.4 L452.4 92.9 L453.2 90.3 L454 87.8 L454.9 85.2 L455.7 82.5 L456.5 79.9 L457.3 77.3 L458.1 74.6 L458.9 72 L459.7 69.4 L460.5 66.8 L461.3 64.2 L462.1 61.7 L462.9 59.2 L463.7 56.8 L464.5 54.5 L465.3 52.4 L466.1 50.4 L466.9 48.5 L467.7 47 L468.5 45.7 L469.3 44.8 L470.1 44.3 L470.9 44.2 L471.7 44.4 L472.5 45 L473.3 46.1 L474.2 47.6 L475 49.7 L475.8 52.1 L476.6 55 L477.4 58.4 L478.2 62.1 L479 66.2 L479.8 70.7 L480.6 75.6 L481.4 80.7 L482.2 86.2 L483 91.9 L483.8 97.9 L484.6 104.1 L485.4 110.4 L486.2 116.8 L487 123.3 L487.8 129.8 L488.6 136.3 L489.4 142.7 L490.2 148.9 L491 154.8 L491.8 160.4 L492.7 169.4 L493.5 176.3 L494.3 180.4 L495.1 181.6" stroke="#b8185e" stroke-width="1.3" fill="none"/>
<path d="M312.3 181.5 L312.7 181.4 L313.1 181.3 L313.5 181.1 L313.9 180.9 L314.3 180.6 L314.7 180.3 L315.1 179.9 L315.6 179.4 L316 179 L316.4 178.6 L316.8 178.2 L317.2 177.9 L317.6 177.8 L318 180.1 L318.5 179.7 L318.9 179.4 L319.3 179 L319.7 178.6 L320.1 178.4 L320.5 178.5 L320.9 178.5 L321.3 178.6 L321.8 178.6 L322.2 178.7 L322.6 178.7 L323 178.8 L323.4 178.8 L323.8 178.8 L324.2 178.9 L324.6 178.9 L326.4 179 L331.2 179 L336 179 L340.8 179 L345.5 178.9 L350.3 178.9 L355.1 178.8 L359.9 178.6 L364.6 178.5 L369.4 178.2 L374.2 177.9 L378.9 177.4 L383.7 176.9 L388.5 176.1 L393.3 175 L398 173.7 L402.8 171.9 L407.6 169.6 L412.4 166.6 L417.1 162.9 L421.9 158.2 L426.7 152.3 L431.5 145 L436.2 136.1 L441 125.5 L442.8 121.1 L443.6 119 L444.4 116.8 L445.2 114.6 L446 112.4 L446.8 110.1 L447.6 107.7 L448.4 105.3 L449.2 102.8 L450 100.3 L450.8 97.7 L451.6 95.1 L452.4 92.5 L453.2 89.8 L454 87 L454.9 84.2 L455.7 81.4 L456.5 78.6 L457.3 75.7 L458.1 72.8 L458.9 69.9 L459.7 67 L460.5 64.1 L461.3 61.2 L462.1 58.4 L462.9 55.5 L463.7 52.8 L464.5 50 L465.3 47.4 L466.1 44.9 L466.9 42.6 L467.7 40.5 L468.5 38.6 L469.3 37 L470.1 35.9 L470.9 35.2 L471.7 35 L472.5 35.2 L473.3 35.8 L474.2 37 L475 38.7 L475.8 40.8 L476.6 43.5 L477.4 46.7 L478.2 50.4 L479 54.5 L479.8 59 L480.6 64 L481.4 69.4 L482.2 75.1 L483 81.1 L483.8 87.5 L484.6 94.1 L485.4 100.9 L486.2 107.9 L487 115 L487.8 122.2 L488.6 129.4 L489.4 136.6 L490.2 143.6 L491 150.3 L491.8 156.8 L492.7 167.2 L493.5 175.4 L494.3 180.2 L495.1 181.6" stroke="#b8185e" stroke-width="1.7" fill="none"/>
<path d="M312.3 181.5 L312.7 181.4 L313.1 181.3 L313.5 181.1 L313.9 180.9 L314.3 180.6 L314.7 180.3 L315.1 179.9 L315.6 179.4 L316 179 L316.4 178.5 L316.8 178.2 L317.2 177.9 L317.6 177.8 L318 180.1 L318.5 179.7 L318.9 179.4 L319.3 179 L319.7 178.6 L320.1 178.4 L320.5 178.4 L320.9 178.5 L321.3 178.6 L321.8 178.6 L322.2 178.7 L322.6 178.7 L323 178.8 L323.4 178.8 L323.8 178.8 L324.2 178.8 L324.6 178.9 L326.4 178.9 L331.2 179 L336 179 L340.8 179 L345.5 178.9 L350.3 178.8 L355.1 178.7 L359.9 178.6 L364.6 178.4 L369.4 178.2 L374.2 177.8 L378.9 177.4 L383.7 176.8 L388.5 176.1 L393.3 175.2 L398 173.9 L402.8 172.3 L407.6 170.2 L412.4 167.6 L417.1 164.3 L421.9 160 L426.7 154.8 L431.5 148.2 L436.2 140.1 L441 130.3 L442.8 126.1 L443.6 124.2 L444.4 122.1 L445.2 120.1 L446 117.9 L446.8 115.7 L447.6 113.4 L448.4 111.1 L449.2 108.7 L450 106.2 L450.8 103.7 L451.6 101.1 L452.4 98.5 L453.2 95.8 L454 93 L454.9 90.2 L455.7 87.3 L456.5 84.3 L457.3 81.3 L458.1 78.3 L458.9 75.2 L459.7 72.1 L460.5 68.9 L461.3 65.7 L462.1 62.4 L462.9 59.2 L463.7 55.9 L464.5 52.7 L465.3 49.4 L466.1 46.2 L466.9 43.1 L467.7 40 L468.5 37.1 L469.3 34.3 L470.1 31.8 L470.9 29.6 L471.7 27.8 L472.5 26.6 L473.3 26 L474.2 25.9 L475 26.4 L475.8 27.6 L476.6 29.4 L477.4 31.9 L478.2 35 L479 38.7 L479.8 43.1 L480.6 48 L481.4 53.4 L482.2 59.4 L483 65.9 L483.8 72.8 L484.6 80.1 L485.4 87.8 L486.2 95.7 L487 103.9 L487.8 112.3 L488.6 120.7 L489.4 129.2 L490.2 137.5 L491 145.6 L491.8 153.4 L492.7 165.7 L493.5 175 L494.3 180.2 L495.1 181.6" stroke="#f5890f" stroke-width="1.2" fill="none"/>
<path d="M312.3 181.5 L312.7 181.4 L313.1 181.3 L313.5 181.1 L313.9 180.9 L314.3 180.6 L314.7 180.3 L315.1 179.9 L315.6 179.4 L316 179 L316.4 178.5 L316.8 178.2 L317.2 177.9 L317.6 177.8 L318 180.1 L318.5 179.7 L318.9 179.4 L319.3 179 L319.7 178.6 L320.1 178.4 L320.5 178.4 L320.9 178.5 L321.3 178.6 L321.8 178.6 L322.2 178.7 L322.6 178.7 L323 178.8 L323.4 178.8 L323.8 178.8 L324.2 178.8 L324.6 178.9 L326.4 178.9 L331.2 179 L336 179 L340.8 179 L345.5 178.9 L350.3 178.8 L355.1 178.7 L359.9 178.6 L364.6 178.4 L369.4 178.2 L374.2 177.9 L378.9 177.4 L383.7 176.9 L388.5 176.2 L393.3 175.2 L398 174 L402.8 172.4 L407.6 170.4 L412.4 167.8 L417.1 164.5 L421.9 160.4 L426.7 155.2 L431.5 148.7 L436.2 140.7 L441 131 L442.8 126.8 L443.6 124.8 L444.4 122.8 L445.2 120.7 L446 118.6 L446.8 116.4 L447.6 114.1 L448.4 111.8 L449.2 109.4 L450 106.9 L450.8 104.4 L451.6 101.8 L452.4 99.1 L453.2 96.4 L454 93.6 L454.9 90.7 L455.7 87.8 L456.5 84.9 L457.3 81.8 L458.1 78.7 L458.9 75.6 L459.7 72.4 L460.5 69.2 L461.3 65.9 L462.1 62.6 L462.9 59.3 L463.7 55.9 L464.5 52.6 L465.3 49.3 L466.1 45.9 L466.9 42.7 L467.7 39.5 L468.5 36.4 L469.3 33.5 L470.1 30.8 L470.9 28.4 L471.7 26.4 L472.5 24.9 L473.3 24.1 L474.2 24 L475 24.3 L475.8 25.4 L476.6 27.1 L477.4 29.5 L478.2 32.6 L479 36.3 L479.8 40.6 L480.6 45.5 L481.4 51 L482.2 57 L483 63.6 L483.8 70.6 L484.6 78 L485.4 85.8 L486.2 93.9 L487 102.2 L487.8 110.7 L488.6 119.3 L489.4 128 L490.2 136.5 L491 144.8 L491.8 152.8 L492.7 165.3 L493.5 174.9 L494.3 180.2 L495.1 181.6" stroke="#f5890f" stroke-width="1.2" fill="none"/>
<path d="M312.3 181.5 L312.7 181.4 L313.1 181.3 L313.5 181.1 L313.9 180.9 L314.3 180.6 L314.7 180.3 L315.1 179.9 L315.6 179.4 L316 179 L316.4 178.5 L316.8 178.2 L317.2 177.9 L317.6 177.8 L318 180.1 L318.5 179.7 L318.9 179.4 L319.3 179 L319.7 178.6 L320.1 178.4 L320.5 178.4 L320.9 178.5 L321.3 178.6 L321.8 178.6 L322.2 178.7 L322.6 178.7 L323 178.8 L323.4 178.8 L323.8 178.8 L324.2 178.8 L324.6 178.9 L326.4 178.9 L331.2 179 L336 179 L340.8 179 L345.5 178.9 L350.3 178.8 L355.1 178.7 L359.9 178.6 L364.6 178.4 L369.4 178.2 L374.2 177.9 L378.9 177.5 L383.7 177 L388.5 176.3 L393.3 175.3 L398 174.1 L402.8 172.6 L407.6 170.6 L412.4 168.1 L417.1 164.8 L421.9 160.7 L426.7 155.5 L431.5 149.1 L436.2 141.1 L441 131.4 L442.8 127.2 L443.6 125.2 L444.4 123.2 L445.2 121.1 L446 118.9 L446.8 116.7 L447.6 114.4 L448.4 112.1 L449.2 109.7 L450 107.2 L450.8 104.7 L451.6 102 L452.4 99.4 L453.2 96.6 L454 93.8 L454.9 90.9 L455.7 88 L456.5 85 L457.3 81.9 L458.1 78.8 L458.9 75.6 L459.7 72.4 L460.5 69.1 L461.3 65.8 L462.1 62.5 L462.9 59.1 L463.7 55.7 L464.5 52.3 L465.3 48.9 L466.1 45.5 L466.9 42.2 L467.7 39 L468.5 35.8 L469.3 32.8 L470.1 30 L470.9 27.5 L471.7 25.3 L472.5 23.7 L473.3 22.7 L474.2 22.4 L475 22.7 L475.8 23.6 L476.6 25.2 L477.4 27.5 L478.2 30.5 L479 34.2 L479.8 38.5 L480.6 43.4 L481.4 48.9 L482.2 55 L483 61.5 L483.8 68.6 L484.6 76.1 L485.4 84 L486.2 92.2 L487 100.7 L487.8 109.3 L488.6 118.1 L489.4 126.9 L490.2 135.6 L491 144.1 L491.8 152.2 L492.7 165 L493.5 174.7 L494.3 180.1 L495.1 181.6" stroke="#f5890f" stroke-width="1.2" fill="none"/>
</g>
<rect x="304.1" y="15.9" width="202" height="172.6" fill="none" stroke="#000" stroke-width="1.6"/>
<line x1="297.1" y1="181.6" x2="304.1" y2="181.6" stroke="#000" stroke-width="1.3"/>
<text x="294.6" y="181.6" font-size="12.6" font-weight="normal" fill="#000" text-anchor="middle" transform="rotate(-90 294.6 181.6)" stroke="#000" stroke-width="0.35">0</text>
<line x1="297.1" y1="143.4" x2="304.1" y2="143.4" stroke="#000" stroke-width="1.3"/>
<text x="294.6" y="143.4" font-size="12.6" font-weight="normal" fill="#000" text-anchor="middle" transform="rotate(-90 294.6 143.4)" stroke="#000" stroke-width="0.35">1</text>
<line x1="297.1" y1="105.3" x2="304.1" y2="105.3" stroke="#000" stroke-width="1.3"/>
<text x="294.6" y="105.3" font-size="12.6" font-weight="normal" fill="#000" text-anchor="middle" transform="rotate(-90 294.6 105.3)" stroke="#000" stroke-width="0.35">2</text>
<line x1="297.1" y1="67.1" x2="304.1" y2="67.1" stroke="#000" stroke-width="1.3"/>
<text x="294.6" y="67.1" font-size="12.6" font-weight="normal" fill="#000" text-anchor="middle" transform="rotate(-90 294.6 67.1)" stroke="#000" stroke-width="0.35">3</text>
<line x1="297.1" y1="28.9" x2="304.1" y2="28.9" stroke="#000" stroke-width="1.3"/>
<text x="294.6" y="28.9" font-size="12.6" font-weight="normal" fill="#000" text-anchor="middle" transform="rotate(-90 294.6 28.9)" stroke="#000" stroke-width="0.35">4</text>
<line x1="315.7" y1="188.5" x2="315.7" y2="193.7" stroke="#000" stroke-width="1.3"/>
<text x="317.3" y="202" font-size="11.6" font-weight="normal" fill="#000" text-anchor="middle" textLength="17" lengthAdjust="spacingAndGlyphs" stroke="#000" stroke-width="0.45">0.0</text>
<line x1="351.5" y1="188.5" x2="351.5" y2="193.7" stroke="#000" stroke-width="1.3"/>
<text x="353.1" y="202" font-size="11.6" font-weight="normal" fill="#000" text-anchor="middle" textLength="17" lengthAdjust="spacingAndGlyphs" stroke="#000" stroke-width="0.45">0.2</text>
<line x1="387.3" y1="188.5" x2="387.3" y2="193.7" stroke="#000" stroke-width="1.3"/>
<text x="388.9" y="202" font-size="11.6" font-weight="normal" fill="#000" text-anchor="middle" textLength="17" lengthAdjust="spacingAndGlyphs" stroke="#000" stroke-width="0.45">0.4</text>
<line x1="423.1" y1="188.5" x2="423.1" y2="193.7" stroke="#000" stroke-width="1.3"/>
<text x="424.7" y="202" font-size="11.6" font-weight="normal" fill="#000" text-anchor="middle" textLength="17" lengthAdjust="spacingAndGlyphs" stroke="#000" stroke-width="0.45">0.6</text>
<line x1="458.9" y1="188.5" x2="458.9" y2="193.7" stroke="#000" stroke-width="1.3"/>
<text x="460.5" y="202" font-size="11.6" font-weight="normal" fill="#000" text-anchor="middle" textLength="17" lengthAdjust="spacingAndGlyphs" stroke="#000" stroke-width="0.45">0.8</text>
<line x1="494.7" y1="188.5" x2="494.7" y2="193.7" stroke="#000" stroke-width="1.3"/>
<text x="496.3" y="202" font-size="11.6" font-weight="normal" fill="#000" text-anchor="middle" textLength="17" lengthAdjust="spacingAndGlyphs" stroke="#000" stroke-width="0.45">1.0</text>
<text x="380.9" y="218" font-size="11.4" font-weight="normal" fill="#000" text-anchor="start" textLength="71.4" lengthAdjust="spacingAndGlyphs" stroke="#000" stroke-width="0.45">Methylation</text>
<text x="281" y="87.2" font-size="13.0" font-weight="normal" fill="#000" text-anchor="middle" textLength="37.4" lengthAdjust="spacingAndGlyphs" transform="rotate(-90 281 87.2)" stroke="#000" stroke-width="0.45">Density</text>
<text x="364" y="9.5" font-size="11.6" font-weight="normal" fill="#000" text-anchor="start" textLength="86.2" lengthAdjust="spacingAndGlyphs" stroke="#000" stroke-width="0.45">CpGs in Blocks</text>
<text x="266.9" y="17.9" font-size="17" font-weight="bold" fill="#000" text-anchor="start" textLength="11.2" lengthAdjust="spacingAndGlyphs">B</text>
<line x1="576.4" y1="182.3" x2="778.3" y2="182.3" stroke="#cfcfcf" stroke-width="1"/>
<g stroke-linejoin="round" stroke-linecap="round">
<path d="M584.1 181.6 L584.5 181.5 L584.9 180.8 L585.3 179 L585.7 174.4 L586.1 165.4 L586.5 151.2 L587 133.7 L587.4 118.5 L587.8 111.9 L588.2 127.5 L588.6 136.2 L589 144.5 L589.5 150.8 L589.9 155.6 L590.3 159.3 L590.7 162.2 L591.1 164.4 L591.5 166.1 L591.9 167.4 L592.4 168.5 L592.8 169.4 L593.2 170.1 L593.6 170.6 L594 171.1 L594.4 171.5 L594.9 171.9 L595.3 172.2 L595.7 172.5 L596.1 172.7 L597.9 173.5 L602.7 174.7 L607.5 175.3 L612.3 175.6 L617.1 175.7 L621.9 175.6 L626.7 175.4 L631.5 175.1 L636.3 174.8 L641.1 174.3 L645.9 173.8 L650.7 173.2 L655.5 172.4 L660.3 171.4 L665.1 170.2 L669.9 168.8 L674.7 167.2 L679.5 165.2 L684.3 162.9 L689.1 160.1 L693.9 156.8 L698.7 153 L703.5 148.6 L708.3 143.4 L713.1 137.5 L714.9 135.1 L715.7 134 L716.5 132.8 L717.3 131.7 L718.1 130.4 L718.9 129.2 L719.8 128 L720.6 126.7 L721.4 125.4 L722.2 124.1 L723 122.7 L723.8 121.3 L724.6 119.9 L725.4 118.5 L726.2 117.1 L727 115.6 L727.8 114.1 L728.6 112.6 L729.5 111 L730.3 109.4 L731.1 107.8 L731.9 106.2 L732.7 104.6 L733.5 102.9 L734.3 101.2 L735.1 99.5 L735.9 97.8 L736.7 96.1 L737.5 94.3 L738.4 92.6 L739.2 90.8 L740 89 L740.8 87.2 L741.6 85.4 L742.4 83.6 L743.2 81.8 L744 80 L744.8 78.2 L745.6 76.5 L746.4 74.7 L747.2 73 L748.1 71.4 L748.9 69.8 L749.7 68.3 L750.5 66.8 L751.3 65.5 L752.1 64.4 L752.9 63.5 L753.7 62.9 L754.5 62.6 L755.3 62.7 L756.1 63.8 L757 65.8 L757.8 68.3 L758.6 71.1 L759.4 73.9 L760.2 76.9 L761 79.9 L761.8 83 L762.6 86.1 L763.4 89.2 L764.2 92.3 L765 95.4 L765.8 98.5 L766.7 114.5 L767.5 132.9 L768.3 149.9 L769.1 165.7 L769.9 180.2 L770.7 181.7" stroke="#1aa63c" stroke-width="1.35" fill="none"/>
<path d="M584.1 181.6 L584.5 181.5 L584.9 180.8 L585.3 179 L585.7 174.4 L586.1 165.4 L586.5 151.2 L587 133.8 L587.4 118.6 L587.8 112 L588.2 127.6 L588.6 136.3 L589 144.6 L589.5 150.9 L589.9 155.7 L590.3 159.4 L590.7 162.3 L591.1 164.5 L591.5 166.2 L591.9 167.5 L592.4 168.6 L592.8 169.5 L593.2 170.2 L593.6 170.8 L594 171.2 L594.4 171.7 L594.9 172 L595.3 172.3 L595.7 172.6 L596.1 172.8 L597.9 173.7 L602.7 174.9 L607.5 175.6 L612.3 175.9 L617.1 176 L621.9 176 L626.7 175.9 L631.5 175.8 L636.3 175.6 L641.1 175.3 L645.9 174.9 L650.7 174.5 L655.5 174 L660.3 173.3 L665.1 172.5 L669.9 171.5 L674.7 170.2 L679.5 168.7 L684.3 166.9 L689.1 164.6 L693.9 161.9 L698.7 158.6 L703.5 154.7 L708.3 149.9 L713.1 144.2 L714.9 141.8 L715.7 140.6 L716.5 139.5 L717.3 138.3 L718.1 137 L718.9 135.7 L719.8 134.4 L720.6 133.1 L721.4 131.7 L722.2 130.3 L723 128.8 L723.8 127.3 L724.6 125.8 L725.4 124.2 L726.2 122.6 L727 120.9 L727.8 119.2 L728.6 117.4 L729.5 115.6 L730.3 113.8 L731.1 111.9 L731.9 110 L732.7 108 L733.5 106 L734.3 104 L735.1 101.9 L735.9 99.7 L736.7 97.5 L737.5 95.3 L738.4 93 L739.2 90.7 L740 88.4 L740.8 86 L741.6 83.7 L742.4 81.2 L743.2 78.8 L744 76.4 L744.8 73.9 L745.6 71.5 L746.4 69.1 L747.2 66.7 L748.1 64.4 L748.9 62.2 L749.7 60 L750.5 58 L751.3 56.2 L752.1 54.6 L752.9 53.3 L753.7 52.3 L754.5 51.7 L755.3 51.4 L756.1 51.6 L757 53.3 L757.8 56.3 L758.6 59.9 L759.4 63.8 L760.2 67.9 L761 72.1 L761.8 76.4 L762.6 80.7 L763.4 85.1 L764.2 89.4 L765 93.8 L765.8 98.3 L766.7 115.4 L767.5 134.3 L768.3 151.5 L769.1 166.8 L769.9 180.3 L770.7 181.7" stroke="#6c12ad" stroke-width="1.35" fill="none"/>
<path d="M584.1 181.6 L584.5 181.5 L584.9 180.8 L585.3 179 L585.7 174.4 L586.1 165.4 L586.5 151.2 L587 133.8 L587.4 118.6 L587.8 112 L588.2 127.6 L588.6 136.3 L589 144.6 L589.5 150.9 L589.9 155.7 L590.3 159.4 L590.7 162.3 L591.1 164.5 L591.5 166.2 L591.9 167.6 L592.4 168.6 L592.8 169.5 L593.2 170.2 L593.6 170.8 L594 171.3 L594.4 171.7 L594.9 172 L595.3 172.3 L595.7 172.6 L596.1 172.9 L597.9 173.7 L602.7 175 L607.5 175.6 L612.3 175.9 L617.1 176.1 L621.9 176.1 L626.7 176 L631.5 175.9 L636.3 175.7 L641.1 175.4 L645.9 175.1 L650.7 174.7 L655.5 174.2 L660.3 173.6 L665.1 172.8 L669.9 171.9 L674.7 170.7 L679.5 169.3 L684.3 167.5 L689.1 165.4 L693.9 162.8 L698.7 159.6 L703.5 155.8 L708.3 151.1 L713.1 145.6 L714.9 143.2 L715.7 142.1 L716.5 140.9 L717.3 139.8 L718.1 138.6 L718.9 137.3 L719.8 136 L720.6 134.7 L721.4 133.3 L722.2 131.9 L723 130.5 L723.8 129 L724.6 127.5 L725.4 125.9 L726.2 124.3 L727 122.6 L727.8 121 L728.6 119.2 L729.5 117.4 L730.3 115.6 L731.1 113.7 L731.9 111.8 L732.7 109.8 L733.5 107.8 L734.3 105.7 L735.1 103.6 L735.9 101.4 L736.7 99.2 L737.5 97 L738.4 94.7 L739.2 92.3 L740 90 L740.8 87.5 L741.6 85.1 L742.4 82.6 L743.2 80.1 L744 77.5 L744.8 75 L745.6 72.4 L746.4 69.8 L747.2 67.3 L748.1 64.7 L748.9 62.3 L749.7 59.9 L750.5 57.6 L751.3 55.4 L752.1 53.4 L752.9 51.7 L753.7 50.3 L754.5 49.2 L755.3 48.6 L756.1 48.4 L757 49.1 L757.8 51.6 L758.6 55.3 L759.4 59.5 L760.2 64 L761 68.7 L761.8 73.5 L762.6 78.3 L763.4 83.2 L764.2 88.2 L765 93.1 L765.8 98.1 L766.7 115.8 L767.5 135 L768.3 152.2 L769.1 167.3 L769.9 180.4 L770.7 181.7" stroke="#b8185e" stroke-width="1.35" fill="none"/>
<path d="M584.1 181.6 L584.5 181.5 L584.9 180.8 L585.3 179 L585.7 174.4 L586.1 165.4 L586.5 151.2 L587 133.8 L587.4 118.6 L587.8 112 L588.2 127.6 L588.6 136.3 L589 144.6 L589.5 150.9 L589.9 155.7 L590.3 159.4 L590.7 162.2 L591.1 164.4 L591.5 166.2 L591.9 167.5 L592.4 168.6 L592.8 169.5 L593.2 170.2 L593.6 170.7 L594 171.2 L594.4 171.6 L594.9 172 L595.3 172.3 L595.7 172.6 L596.1 172.8 L597.9 173.6 L602.7 174.9 L607.5 175.5 L612.3 175.8 L617.1 175.9 L621.9 175.9 L626.7 175.8 L631.5 175.6 L636.3 175.4 L641.1 175.1 L645.9 174.7 L650.7 174.2 L655.5 173.6 L660.3 172.9 L665.1 171.9 L669.9 170.8 L674.7 169.5 L679.5 167.9 L684.3 165.9 L689.1 163.5 L693.9 160.6 L698.7 157.1 L703.5 153 L708.3 148 L713.1 142.2 L714.9 139.7 L715.7 138.5 L716.5 137.4 L717.3 136.1 L718.1 134.9 L718.9 133.6 L719.8 132.3 L720.6 130.9 L721.4 129.5 L722.2 128.1 L723 126.6 L723.8 125.1 L724.6 123.6 L725.4 122 L726.2 120.4 L727 118.7 L727.8 117.1 L728.6 115.3 L729.5 113.5 L730.3 111.7 L731.1 109.9 L731.9 108 L732.7 106 L733.5 104 L734.3 102 L735.1 99.9 L735.9 97.8 L736.7 95.7 L737.5 93.5 L738.4 91.3 L739.2 89 L740 86.7 L740.8 84.3 L741.6 82 L742.4 79.6 L743.2 77.1 L744 74.7 L744.8 72.2 L745.6 69.7 L746.4 67.2 L747.2 64.7 L748.1 62.2 L748.9 59.7 L749.7 57.2 L750.5 54.9 L751.3 52.5 L752.1 50.3 L752.9 48.3 L753.7 46.5 L754.5 45 L755.3 44 L756.1 43.5 L757 43.6 L757.8 45.7 L758.6 49.4 L759.4 54 L760.2 59 L761 64.3 L761.8 69.8 L762.6 75.3 L763.4 80.9 L764.2 86.6 L765 92.3 L765.8 98 L766.7 116.2 L767.5 135.8 L768.3 153.1 L769.1 167.9 L769.9 180.5 L770.7 181.7" stroke="#1aa63c" stroke-width="1.35" fill="none"/>
<path d="M584.1 181.6 L584.5 181.5 L584.9 180.8 L585.3 179 L585.7 174.4 L586.1 165.4 L586.5 151.2 L587 133.8 L587.4 118.6 L587.8 112 L588.2 127.6 L588.6 136.3 L589 144.6 L589.5 150.9 L589.9 155.7 L590.3 159.4 L590.7 162.2 L591.1 164.4 L591.5 166.2 L591.9 167.5 L592.4 168.6 L592.8 169.5 L593.2 170.2 L593.6 170.7 L594 171.2 L594.4 171.6 L594.9 172 L595.3 172.3 L595.7 172.6 L596.1 172.8 L597.9 173.6 L602.7 174.9 L607.5 175.5 L612.3 175.9 L617.1 176 L621.9 176 L626.7 175.9 L631.5 175.7 L636.3 175.5 L641.1 175.2 L645.9 174.9 L650.7 174.5 L655.5 173.9 L660.3 173.3 L665.1 172.5 L669.9 171.5 L674.7 170.3 L679.5 168.8 L684.3 167 L689.1 164.8 L693.9 162.2 L698.7 159 L703.5 155.1 L708.3 150.5 L713.1 144.9 L714.9 142.5 L715.7 141.4 L716.5 140.3 L717.3 139.1 L718.1 137.9 L718.9 136.6 L719.8 135.3 L720.6 134 L721.4 132.6 L722.2 131.2 L723 129.7 L723.8 128.2 L724.6 126.7 L725.4 125.1 L726.2 123.5 L727 121.8 L727.8 120.1 L728.6 118.3 L729.5 116.5 L730.3 114.7 L731.1 112.8 L731.9 110.8 L732.7 108.8 L733.5 106.7 L734.3 104.6 L735.1 102.4 L735.9 100.2 L736.7 97.9 L737.5 95.6 L738.4 93.2 L739.2 90.7 L740 88.2 L740.8 85.7 L741.6 83.1 L742.4 80.4 L743.2 77.7 L744 75 L744.8 72.2 L745.6 69.4 L746.4 66.5 L747.2 63.7 L748.1 60.8 L748.9 57.9 L749.7 55 L750.5 52.2 L751.3 49.5 L752.1 46.9 L752.9 44.4 L753.7 42.3 L754.5 40.6 L755.3 39.4 L756.1 38.9 L757 39.3 L757.8 41.9 L758.6 46.1 L759.4 51.1 L760.2 56.5 L761 62.2 L761.8 68 L762.6 73.9 L763.4 79.8 L764.2 85.8 L765 91.9 L765.8 97.9 L766.7 116.5 L767.5 136.2 L768.3 153.5 L769.1 168.2 L769.9 180.5 L770.7 181.7" stroke="#6c12ad" stroke-width="1.5" fill="none"/>
<path d="M584.1 181.6 L584.5 181.5 L584.9 180.8 L585.3 179 L585.7 174.4 L586.1 165.4 L586.5 151.2 L587 133.8 L587.4 118.6 L587.8 112 L588.2 127.6 L588.6 136.3 L589 144.6 L589.5 150.9 L589.9 155.7 L590.3 159.4 L590.7 162.3 L591.1 164.5 L591.5 166.2 L591.9 167.5 L592.4 168.6 L592.8 169.5 L593.2 170.2 L593.6 170.8 L594 171.3 L594.4 171.7 L594.9 172 L595.3 172.3 L595.7 172.6 L596.1 172.8 L597.9 173.7 L602.7 174.9 L607.5 175.6 L612.3 175.9 L617.1 176 L621.9 176 L626.7 176 L631.5 175.8 L636.3 175.6 L641.1 175.4 L645.9 175 L650.7 174.6 L655.5 174.1 L660.3 173.5 L665.1 172.7 L669.9 171.8 L674.7 170.6 L679.5 169.1 L684.3 167.4 L689.1 165.2 L693.9 162.6 L698.7 159.4 L703.5 155.5 L708.3 150.8 L713.1 145.2 L714.9 142.8 L715.7 141.6 L716.5 140.5 L717.3 139.2 L718.1 138 L718.9 136.7 L719.8 135.4 L720.6 134 L721.4 132.6 L722.2 131.2 L723 129.7 L723.8 128.1 L724.6 126.5 L725.4 124.9 L726.2 123.2 L727 121.5 L727.8 119.7 L728.6 117.9 L729.5 116 L730.3 114.1 L731.1 112.1 L731.9 110 L732.7 107.9 L733.5 105.8 L734.3 103.6 L735.1 101.3 L735.9 98.9 L736.7 96.5 L737.5 94.1 L738.4 91.6 L739.2 89 L740 86.3 L740.8 83.6 L741.6 80.8 L742.4 78 L743.2 75.1 L744 72.2 L744.8 69.2 L745.6 66.1 L746.4 63 L747.2 59.8 L748.1 56.6 L748.9 53.4 L749.7 50.2 L750.5 46.9 L751.3 43.7 L752.1 40.6 L752.9 37.5 L753.7 34.7 L754.5 32.1 L755.3 30.1 L756.1 28.9 L757 28.6 L757.8 30.7 L758.6 35.1 L759.4 40.8 L760.2 47.3 L761 54.1 L761.8 61.1 L762.6 68.3 L763.4 75.5 L764.2 82.9 L765 90.2 L765.8 97.6 L766.7 117.4 L767.5 137.7 L768.3 155.1 L769.1 169.4 L769.9 180.7 L770.7 181.7" stroke="#f5890f" stroke-width="1.4" fill="none"/>
<path d="M584.1 181.6 L584.5 181.5 L584.9 180.8 L585.3 179 L585.7 174.4 L586.1 165.4 L586.5 151.2 L587 133.8 L587.4 118.6 L587.8 112 L588.2 127.6 L588.6 136.3 L589 144.6 L589.5 150.9 L589.9 155.7 L590.3 159.4 L590.7 162.3 L591.1 164.5 L591.5 166.2 L591.9 167.5 L592.4 168.6 L592.8 169.5 L593.2 170.2 L593.6 170.8 L594 171.3 L594.4 171.7 L594.9 172 L595.3 172.3 L595.7 172.6 L596.1 172.8 L597.9 173.7 L602.7 174.9 L607.5 175.6 L612.3 175.9 L617.1 176 L621.9 176 L626.7 176 L631.5 175.8 L636.3 175.6 L641.1 175.4 L645.9 175.1 L650.7 174.7 L655.5 174.2 L660.3 173.6 L665.1 172.8 L669.9 171.9 L674.7 170.7 L679.5 169.3 L684.3 167.6 L689.1 165.5 L693.9 162.9 L698.7 159.8 L703.5 156.1 L708.3 151.5 L713.1 146 L714.9 143.6 L715.7 142.5 L716.5 141.3 L717.3 140.2 L718.1 139 L718.9 137.7 L719.8 136.4 L720.6 135.1 L721.4 133.7 L722.2 132.3 L723 130.8 L723.8 129.3 L724.6 127.8 L725.4 126.2 L726.2 124.6 L727 122.9 L727.8 121.1 L728.6 119.4 L729.5 117.5 L730.3 115.6 L731.1 113.7 L731.9 111.7 L732.7 109.7 L733.5 107.6 L734.3 105.4 L735.1 103.2 L735.9 100.9 L736.7 98.6 L737.5 96.2 L738.4 93.7 L739.2 91.2 L740 88.6 L740.8 86 L741.6 83.3 L742.4 80.6 L743.2 77.8 L744 74.9 L744.8 72 L745.6 69 L746.4 66 L747.2 62.9 L748.1 59.9 L748.9 56.7 L749.7 53.6 L750.5 50.5 L751.3 47.4 L752.1 44.4 L752.9 41.5 L753.7 38.8 L754.5 36.5 L755.3 34.6 L756.1 33.5 L757 33.2 L757.8 35.1 L758.6 39.3 L759.4 44.7 L760.2 50.7 L761 57 L761.8 63.6 L762.6 70.3 L763.4 77.1 L764.2 83.9 L765 90.8 L765.8 97.7 L766.7 117 L767.5 137.2 L768.3 154.5 L769.1 169 L769.9 180.6 L770.7 181.7" stroke="#b8185e" stroke-width="1.5" fill="none"/>
<path d="M584.1 181.6 L584.5 181.5 L584.9 180.8 L585.3 179 L585.7 174.4 L586.1 165.4 L586.5 151.2 L587 133.8 L587.4 118.6 L587.8 112 L588.2 127.6 L588.6 136.3 L589 144.6 L589.5 150.9 L589.9 155.7 L590.3 159.4 L590.7 162.3 L591.1 164.5 L591.5 166.2 L591.9 167.5 L592.4 168.6 L592.8 169.5 L593.2 170.2 L593.6 170.8 L594 171.2 L594.4 171.7 L594.9 172 L595.3 172.3 L595.7 172.6 L596.1 172.8 L597.9 173.7 L602.7 174.9 L607.5 175.6 L612.3 175.9 L617.1 176 L621.9 176 L626.7 175.9 L631.5 175.8 L636.3 175.6 L641.1 175.3 L645.9 175 L650.7 174.5 L655.5 174 L660.3 173.4 L665.1 172.6 L669.9 171.6 L674.7 170.4 L679.5 168.9 L684.3 167 L689.1 164.8 L693.9 162.1 L698.7 158.8 L703.5 154.8 L708.3 149.9 L713.1 144 L714.9 141.5 L715.7 140.3 L716.5 139.1 L717.3 137.8 L718.1 136.6 L718.9 135.2 L719.8 133.8 L720.6 132.4 L721.4 131 L722.2 129.5 L723 127.9 L723.8 126.3 L724.6 124.7 L725.4 123 L726.2 121.2 L727 119.4 L727.8 117.6 L728.6 115.7 L729.5 113.7 L730.3 111.7 L731.1 109.6 L731.9 107.5 L732.7 105.3 L733.5 103.1 L734.3 100.8 L735.1 98.4 L735.9 96 L736.7 93.5 L737.5 90.9 L738.4 88.3 L739.2 85.6 L740 82.8 L740.8 80 L741.6 77.1 L742.4 74.2 L743.2 71.2 L744 68.1 L744.8 65 L745.6 61.8 L746.4 58.5 L747.2 55.2 L748.1 51.9 L748.9 48.5 L749.7 45.1 L750.5 41.7 L751.3 38.3 L752.1 35 L752.9 31.7 L753.7 28.7 L754.5 25.9 L755.3 23.7 L756.1 22.3 L757 22 L757.8 24.2 L758.6 29.1 L759.4 35.4 L760.2 42.4 L761 49.9 L761.8 57.6 L762.6 65.4 L763.4 73.3 L764.2 81.3 L765 89.4 L765.8 97.5 L766.7 117.8 L767.5 138.5 L768.3 155.9 L769.1 170 L769.9 180.7 L770.7 181.7" stroke="#b8185e" stroke-width="1.7" fill="none"/>
</g>
<rect x="576.4" y="15" width="201.9" height="172.9" fill="none" stroke="#000" stroke-width="1.6"/>
<line x1="569.4" y1="181.7" x2="576.4" y2="181.7" stroke="#000" stroke-width="1.3"/>
<text x="567.2" y="181.7" font-size="12.6" font-weight="normal" fill="#000" text-anchor="middle" transform="rotate(-90 567.2 181.7)" stroke="#000" stroke-width="0.35">0</text>
<line x1="569.4" y1="148.7" x2="576.4" y2="148.7" stroke="#000" stroke-width="1.3"/>
<text x="567.2" y="148.7" font-size="12.6" font-weight="normal" fill="#000" text-anchor="middle" transform="rotate(-90 567.2 148.7)" stroke="#000" stroke-width="0.35">1</text>
<line x1="569.4" y1="115.7" x2="576.4" y2="115.7" stroke="#000" stroke-width="1.3"/>
<text x="567.2" y="115.7" font-size="12.6" font-weight="normal" fill="#000" text-anchor="middle" transform="rotate(-90 567.2 115.7)" stroke="#000" stroke-width="0.35">2</text>
<line x1="569.4" y1="82.7" x2="576.4" y2="82.7" stroke="#000" stroke-width="1.3"/>
<text x="567.2" y="82.7" font-size="12.6" font-weight="normal" fill="#000" text-anchor="middle" transform="rotate(-90 567.2 82.7)" stroke="#000" stroke-width="0.35">3</text>
<line x1="569.4" y1="49.7" x2="576.4" y2="49.7" stroke="#000" stroke-width="1.3"/>
<text x="567.2" y="49.7" font-size="12.6" font-weight="normal" fill="#000" text-anchor="middle" transform="rotate(-90 567.2 49.7)" stroke="#000" stroke-width="0.35">4</text>
<line x1="569.4" y1="16.7" x2="576.4" y2="16.7" stroke="#000" stroke-width="1.3"/>
<text x="567.2" y="16.7" font-size="9.6" font-weight="normal" fill="#000" text-anchor="middle" textLength="4.6" lengthAdjust="spacingAndGlyphs" transform="rotate(-90 567.2 16.7)" stroke="#000" stroke-width="0.3">5</text>
<line x1="587.1" y1="187.9" x2="587.1" y2="193.1" stroke="#000" stroke-width="1.3"/>
<text x="588.7" y="202" font-size="11.6" font-weight="normal" fill="#000" text-anchor="middle" textLength="17" lengthAdjust="spacingAndGlyphs" stroke="#000" stroke-width="0.45">0.0</text>
<line x1="623.1" y1="187.9" x2="623.1" y2="193.1" stroke="#000" stroke-width="1.3"/>
<text x="624.7" y="202" font-size="11.6" font-weight="normal" fill="#000" text-anchor="middle" textLength="17" lengthAdjust="spacingAndGlyphs" stroke="#000" stroke-width="0.45">0.2</text>
<line x1="659.1" y1="187.9" x2="659.1" y2="193.1" stroke="#000" stroke-width="1.3"/>
<text x="660.7" y="202" font-size="11.6" font-weight="normal" fill="#000" text-anchor="middle" textLength="17" lengthAdjust="spacingAndGlyphs" stroke="#000" stroke-width="0.45">0.4</text>
<line x1="695.1" y1="187.9" x2="695.1" y2="193.1" stroke="#000" stroke-width="1.3"/>
<text x="696.7" y="202" font-size="11.6" font-weight="normal" fill="#000" text-anchor="middle" textLength="17" lengthAdjust="spacingAndGlyphs" stroke="#000" stroke-width="0.45">0.6</text>
<line x1="731.1" y1="187.9" x2="731.1" y2="193.1" stroke="#000" stroke-width="1.3"/>
<text x="732.7" y="202" font-size="11.6" font-weight="normal" fill="#000" text-anchor="middle" textLength="17" lengthAdjust="spacingAndGlyphs" stroke="#000" stroke-width="0.45">0.8</text>
<line x1="767.1" y1="187.9" x2="767.1" y2="193.1" stroke="#000" stroke-width="1.3"/>
<text x="768.7" y="202" font-size="11.6" font-weight="normal" fill="#000" text-anchor="middle" textLength="17" lengthAdjust="spacingAndGlyphs" stroke="#000" stroke-width="0.45">1.0</text>
<text x="653.9" y="218" font-size="11.4" font-weight="normal" fill="#000" text-anchor="start" textLength="70.9" lengthAdjust="spacingAndGlyphs" stroke="#000" stroke-width="0.45">Methylation</text>
<text x="552.6" y="91.5" font-size="13.0" font-weight="normal" fill="#000" text-anchor="middle" textLength="37.4" lengthAdjust="spacingAndGlyphs" transform="rotate(-90 552.6 91.5)" stroke="#000" stroke-width="0.45">Density</text>
<text x="616.4" y="9.5" font-size="11.6" font-weight="normal" fill="#000" text-anchor="start" textLength="119.4" lengthAdjust="spacingAndGlyphs" stroke="#000" stroke-width="0.45">CpGs outside Blocks</text>
<text x="532.1" y="17.9" font-size="17" font-weight="bold" fill="#000" text-anchor="start" textLength="11" lengthAdjust="spacingAndGlyphs">C</text>
<text x="3.9" y="251.2" font-size="17" font-weight="bold" fill="#000" text-anchor="start" textLength="12" lengthAdjust="spacingAndGlyphs">D</text>
<rect x="114.1" y="257" width="7.7" height="123.8" fill="#fdebe8"/>
<rect x="139.3" y="257" width="42.3" height="123.8" fill="#fdebe8"/>
<rect x="182.8" y="257" width="19.1" height="123.8" fill="#fdebe8"/>
<rect x="213.6" y="257" width="10.8" height="123.8" fill="#fdebe8"/>
<rect x="225.2" y="257" width="22.3" height="123.8" fill="#fdebe8"/>
<rect x="248.8" y="257" width="23.4" height="123.8" fill="#fdebe8"/>
<rect x="273.3" y="257" width="10.7" height="123.8" fill="#fdebe8"/>
<rect x="295.4" y="257" width="11.9" height="123.8" fill="#fdebe8"/>
<rect x="309.3" y="257" width="207.9" height="123.8" fill="#fdebe8"/>
<rect x="517.9" y="257" width="49.3" height="123.8" fill="#fdebe8"/>
<rect x="569.4" y="257" width="10.6" height="123.8" fill="#fdebe8"/>
<rect x="588.8" y="257" width="58.5" height="123.8" fill="#fdebe8"/>
<rect x="647.9" y="257" width="11.9" height="123.8" fill="#fdebe8"/>
<rect x="665.2" y="257" width="33.8" height="123.8" fill="#fdebe8"/>
<rect x="704" y="257" width="8" height="123.8" fill="#fdebe8"/>
<rect x="114" y="381.9" width="545.8" height="4.1" fill="#000"/>
<rect x="665.2" y="381.9" width="33.8" height="4.1" fill="#000"/>
<rect x="704" y="381.9" width="8" height="4.1" fill="#000"/>
<rect x="129.1" y="382.2" width="0.9" height="3.2" fill="#fff"/>
<rect x="137.6" y="382.2" width="0.9" height="3.2" fill="#fff"/>
<rect x="182.1" y="382.2" width="0.9" height="3.2" fill="#fff"/>
<rect x="202.6" y="382.2" width="0.9" height="3.2" fill="#fff"/>
<rect x="247.6" y="382.2" width="0.9" height="3.2" fill="#fff"/>
<rect x="284.6" y="382.2" width="0.9" height="3.2" fill="#fff"/>
<rect x="307.6" y="382.2" width="0.9" height="3.2" fill="#fff"/>
<rect x="568" y="382.2" width="0.9" height="3.2" fill="#fff"/>
<rect x="647" y="382.2" width="0.9" height="3.2" fill="#fff"/>
<g fill="none" stroke-linejoin="round" stroke-linecap="round">
<path d="M115.4 306.7 L117.4 307.6 L119.4 308.5 L121.4 309.3 L123.4 310 L125.4 310.5 L127.4 311 L129.4 311.3 L131.4 311.5 L133.4 311.6 L135.4 311.5 L137.4 311.1 L139.4 310.6 L141.4 310 L143.4 309.3 L145.4 308.5 L147.4 307.7 L149.4 306.8 L151.4 306 L153.4 305.2 L155.4 304.4 L157.4 303.8 L159.4 303.3 L161.4 303 L163.4 302.8 L165.4 302.8 L167.4 302.9 L169.4 303.1 L171.4 303.4 L173.4 303.7 L175.4 304 L177.4 304.4 L179.4 304.8 L181.4 305.1 L183.4 305.5 L185.4 305.8 L187.4 306.1 L189.4 306.4 L191.4 306.6 L193.4 306.7 L195.4 306.7 L197.4 306.7 L199.4 306.6 L201.4 306.5 L203.4 306.5 L205.4 306.3 L207.4 306.2 L209.4 306.1 L211.4 306 L213.4 305.8 L215.4 305.7 L217.4 305.6 L219.4 305.4 L221.4 305.3 L223.4 305.2 L225.4 305.2 L227.4 305.1 L229.4 305.1 L231.4 305.1 L233.4 305.2 L235.4 305.4 L237.4 305.6 L239.4 305.8 L241.4 306 L243.4 306.3 L245.4 306.5 L247.4 306.7 L249.4 306.9 L251.4 307 L253.4 307 L255.4 306.9 L257.4 306.6 L259.4 306.2 L261.4 305.7 L263.4 305.1 L265.4 304.5 L267.4 303.9 L269.4 303.3 L271.4 302.6 L273.4 301.8 L275.4 300.9 L277.4 299.9 L279.4 298.9 L281.4 297.9 L283.4 297 L285.4 296.3 L287.4 295.7 L289.4 295.3 L291.4 295.1 L293.4 295.3 L295.4 295.9 L297.4 296.9 L299.4 298.1 L301.4 299.3 L303.4 300.6 L305.4 301.8 L307.4 302.8 L309.4 303.5 L311.4 303.8 L313.4 304 L315.4 304.3 L317.4 304.4 L319.4 304.6 L321.4 304.7 L323.4 304.9 L325.4 305 L327.4 305.2 L329.4 305.4 L331.4 305.7 L333.4 306 L335.4 306.3 L337.4 306.6 L339.4 306.9 L341.4 307.3 L343.4 307.7 L345.4 308 L347.4 308.5 L349.4 308.9 L351.4 309.4 L353.4 310.1 L355.4 310.7 L357.4 311 L359.4 310.9 L361.4 310.3 L363.4 309.5 L365.4 308.5 L367.4 307.3 L369.4 306.1 L371.4 304.8 L373.4 303.6 L375.4 302.6 L377.4 301.9 L379.4 301.4 L381.4 301.3 L383.4 301.3 L385.4 301.3 L387.4 301.4 L389.4 301.4 L391.4 301.5 L393.4 301.5 L395.4 301.6 L397.4 301.7 L399.4 301.7 L401.4 301.8 L403.4 301.9 L405.4 302 L407.4 302.2 L409.4 302.3 L411.4 302.4 L413.4 302.6 L415.4 302.8 L417.4 303.1 L419.4 303.5 L421.4 304 L423.4 304.4 L425.4 304.9 L427.4 305.3 L429.4 305.8 L431.4 306.2 L433.4 306.5 L435.4 306.8 L437.4 307.1 L439.4 307.3 L441.4 307.5 L443.4 307.4 L445.4 307 L447.4 306.3 L449.4 305.4 L451.4 304.4 L453.4 303.4 L455.4 302.7 L457.4 302.2 L459.4 301.9 L461.4 301.7 L463.4 301.6 L465.4 301.4 L467.4 301.3 L469.4 301.3 L471.4 301.6 L473.4 302.6 L475.4 304.4 L477.4 306.4 L479.4 308.5 L481.4 310.3 L483.4 311.6 L485.4 312.1 L487.4 311.6 L489.4 310.2 L491.4 308.1 L493.4 305.6 L495.4 303 L497.4 300.5 L499.4 298.3 L501.4 296.7 L503.4 295.9 L505.4 295.9 L507.4 296.1 L509.4 296.4 L511.4 296.7 L513.4 297.2 L515.4 297.6 L517.4 298.1 L519.4 298.6 L521.4 299.1 L523.4 299.5 L525.4 299.9 L527.4 300.2 L529.4 300.4 L531.4 300.5 L533.4 300.5 L535.4 300.3 L537.4 300.2 L539.4 299.9 L541.4 299.7 L543.4 299.4 L545.4 299.2 L547.4 299.1 L549.4 299 L551.4 299 L553.4 299.3 L555.4 299.6 L557.4 300.1 L559.4 300.6 L561.4 301.3 L563.4 301.9 L565.4 302.5 L567.4 303 L569.4 303.5 L571.4 303.8 L573.4 304.2 L575.4 304.5 L577.4 304.9 L579.4 305.3 L581.4 305.6 L583.4 305.9 L585.4 306.1 L587.4 306.2 L589.4 306.3 L591.4 306.3 L593.4 306.3 L595.4 306.3 L597.4 306.2 L599.4 306.2 L601.4 306.1 L603.4 306 L605.4 305.4 L607.4 304.1 L609.4 302.3 L611.4 300.3 L613.4 298.2 L615.4 296.2 L617.4 294.5 L619.4 293.2 L621.4 292.6 L623.4 292.5 L625.4 292.7 L627.4 293 L629.4 293.4 L631.4 293.9 L633.4 294.9 L635.4 296.3 L637.4 297.9 L639.4 299.6 L641.4 301.2 L643.4 302.6 L645.4 303.5 L647.4 304 L649.4 303.9 L651.4 303.6 L653.4 303.2 L655.4 302.5 L657.4 301.8 L659.4 301.1 L661.4 300.3 L663.4 299.6 L665.4 298.9 L667.4 298.2 L669.4 297.5 L671.4 296.7 L673.4 295.9 L675.4 295 L677.4 294.1 L679.4 293.2 L681.4 292.4 L683.4 291.5 L685.4 290.7 L687.4 290 L689.4 289.3 L691.4 288.8 L693.4 288.3 L695.4 288 L697.4 287.8 L699.4 287.7 L701.4 287.9 L703.4 288.3 L705.4 288.9 L707.4 289.7 L709.4 290.5" stroke="#1aa63c" stroke-width="1.3"/>
<path d="M115.4 296.7 L117.4 296.4 L119.4 296.2 L121.4 295.9 L123.4 295.7 L125.4 295.4 L127.4 295.2 L129.4 295 L131.4 294.8 L133.4 294.7 L135.4 294.5 L137.4 294.5 L139.4 294.4 L141.4 294.4 L143.4 294.4 L145.4 294.4 L147.4 294.4 L149.4 294.4 L151.4 294.4 L153.4 294.4 L155.4 294.4 L157.4 294.4 L159.4 294.4 L161.4 294.4 L163.4 294.4 L165.4 294.4 L167.4 294.4 L169.4 294.4 L171.4 294.4 L173.4 294.4 L175.4 294.6 L177.4 294.8 L179.4 295.1 L181.4 295.5 L183.4 295.9 L185.4 296.3 L187.4 296.8 L189.4 297.2 L191.4 297.7 L193.4 298.1 L195.4 298.4 L197.4 298.7 L199.4 298.9 L201.4 299 L203.4 299 L205.4 299 L207.4 298.9 L209.4 298.8 L211.4 298.7 L213.4 298.6 L215.4 298.5 L217.4 298.4 L219.4 298.2 L221.4 298.1 L223.4 297.9 L225.4 297.7 L227.4 297.6 L229.4 297.4 L231.4 297.3 L233.4 297.2 L235.4 297 L237.4 296.9 L239.4 296.7 L241.4 296.6 L243.4 296.4 L245.4 296.3 L247.4 296.1 L249.4 295.9 L251.4 295.7 L253.4 295.5 L255.4 295.2 L257.4 294.9 L259.4 294.6 L261.4 294.3 L263.4 293.7 L265.4 292.9 L267.4 292 L269.4 291 L271.4 290.1 L273.4 289.2 L275.4 288.4 L277.4 287.9 L279.4 287.3 L281.4 286.8 L283.4 286.3 L285.4 285.8 L287.4 285.4 L289.4 285.2 L291.4 285.1 L293.4 285.4 L295.4 286.2 L297.4 287.4 L299.4 289 L301.4 290.7 L303.4 292.4 L305.4 294 L307.4 295.4 L309.4 296.5 L311.4 297.1 L313.4 297.7 L315.4 298.2 L317.4 298.7 L319.4 299.2 L321.4 299.5 L323.4 299.7 L325.4 299.8 L327.4 299.6 L329.4 299.1 L331.4 298.4 L333.4 297.6 L335.4 297 L337.4 296.7 L339.4 296.9 L341.4 297.4 L343.4 298.3 L345.4 299.3 L347.4 300.3 L349.4 301.1 L351.4 301.7 L353.4 302.3 L355.4 302.8 L357.4 303.3 L359.4 303.5 L361.4 303.6 L363.4 303.3 L365.4 302.7 L367.4 301.9 L369.4 300.9 L371.4 299.8 L373.4 298.6 L375.4 297.4 L377.4 296.2 L379.4 295.1 L381.4 294.1 L383.4 293.1 L385.4 291.9 L387.4 290.8 L389.4 289.7 L391.4 288.7 L393.4 287.9 L395.4 287.5 L397.4 287.3 L399.4 287.2 L401.4 287.1 L403.4 287 L405.4 287 L407.4 286.9 L409.4 286.8 L411.4 286.8 L413.4 286.7 L415.4 286.7 L417.4 286.7 L419.4 286.7 L421.4 287.1 L423.4 288.1 L425.4 289.6 L427.4 291.3 L429.4 293.2 L431.4 295 L433.4 296.6 L435.4 297.8 L437.4 299.1 L439.4 300.4 L441.4 301.6 L443.4 302.5 L445.4 302.8 L447.4 302.7 L449.4 302.3 L451.4 301.8 L453.4 301.1 L455.4 300.3 L457.4 299.5 L459.4 298.7 L461.4 297.9 L463.4 297.1 L465.4 296.5 L467.4 296.1 L469.4 295.9 L471.4 296.1 L473.4 297.1 L475.4 298.7 L477.4 300.6 L479.4 302.5 L481.4 304.2 L483.4 305.4 L485.4 305.9 L487.4 305.4 L489.4 304.1 L491.4 302.3 L493.4 300.1 L495.4 297.7 L497.4 295.4 L499.4 293.5 L501.4 292 L503.4 291.3 L505.4 291.4 L507.4 291.6 L509.4 291.9 L511.4 292.4 L513.4 292.9 L515.4 293.4 L517.4 294 L519.4 294.4 L521.4 294.9 L523.4 295.5 L525.4 296 L527.4 296.6 L529.4 297.2 L531.4 297.6 L533.4 298 L535.4 298.2 L537.4 298.1 L539.4 297.5 L541.4 296.5 L543.4 295.1 L545.4 293.7 L547.4 292.2 L549.4 290.9 L551.4 289.8 L553.4 289.1 L555.4 289 L557.4 289.2 L559.4 289.6 L561.4 290.1 L563.4 290.7 L565.4 291.3 L567.4 292 L569.4 292.6 L571.4 293.1 L573.4 293.7 L575.4 294.4 L577.4 295.1 L579.4 295.8 L581.4 296.5 L583.4 297.1 L585.4 297.6 L587.4 297.9 L589.4 298.1 L591.4 298.1 L593.4 297.9 L595.4 297.7 L597.4 297.5 L599.4 297.1 L601.4 296.8 L603.4 296.4 L605.4 295.7 L607.4 294.8 L609.4 293.7 L611.4 292.5 L613.4 291.2 L615.4 289.9 L617.4 288.7 L619.4 287.7 L621.4 286.8 L623.4 286.3 L625.4 286.1 L627.4 286.2 L629.4 286.6 L631.4 287.1 L633.4 287.8 L635.4 288.5 L637.4 289.3 L639.4 290.1 L641.4 290.9 L643.4 291.7 L645.4 292.3 L647.4 292.8 L649.4 293.3 L651.4 293.9 L653.4 294.5 L655.4 295 L657.4 295.5 L659.4 295.9 L661.4 296.2 L663.4 296.4 L665.4 296.5 L667.4 296.5 L669.4 296.4 L671.4 296.3 L673.4 296.1 L675.4 295.9 L677.4 295.6 L679.4 295.3 L681.4 295 L683.4 294.7 L685.4 294.3 L687.4 293.8 L689.4 292.7 L691.4 291.2 L693.4 289.6 L695.4 288.2 L697.4 287.2 L699.4 286.9 L701.4 286.9 L703.4 287 L705.4 287.2 L707.4 287.6 L709.4 288.1" stroke="#1aa63c" stroke-width="1.3"/>
<path d="M115.4 289 L117.4 288.5 L119.4 288.1 L121.4 287.8 L123.4 287.5 L125.4 287.3 L127.4 287.1 L129.4 286.9 L131.4 286.8 L133.4 286.7 L135.4 286.7 L137.4 286.7 L139.4 286.9 L141.4 287.1 L143.4 287.4 L145.4 287.8 L147.4 288.2 L149.4 288.6 L151.4 289 L153.4 289.3 L155.4 289.6 L157.4 289.8 L159.4 290 L161.4 290.2 L163.4 290.3 L165.4 290.5 L167.4 290.6 L169.4 290.7 L171.4 290.8 L173.4 291 L175.4 291.1 L177.4 291.2 L179.4 291.3 L181.4 291.4 L183.4 291.5 L185.4 291.7 L187.4 291.8 L189.4 292 L191.4 292.1 L193.4 292.3 L195.4 292.5 L197.4 292.7 L199.4 292.9 L201.4 293.2 L203.4 293.4 L205.4 293.6 L207.4 293.8 L209.4 294 L211.4 294.2 L213.4 294.3 L215.4 294.4 L217.4 294.4 L219.4 294.4 L221.4 294.4 L223.4 294.4 L225.4 294.4 L227.4 294.4 L229.4 294.4 L231.4 294.4 L233.4 294.3 L235.4 294.2 L237.4 294 L239.4 293.8 L241.4 293.6 L243.4 293.4 L245.4 293.1 L247.4 292.8 L249.4 292.5 L251.4 292.2 L253.4 292 L255.4 291.6 L257.4 291.3 L259.4 290.9 L261.4 290.5 L263.4 290 L265.4 289.6 L267.4 289.1 L269.4 288.7 L271.4 288.3 L273.4 287.9 L275.4 287.5 L277.4 287.2 L279.4 286.9 L281.4 286.5 L283.4 286.2 L285.4 285.9 L287.4 285.6 L289.4 285.4 L291.4 285.2 L293.4 285.1 L295.4 285.1 L297.4 285.7 L299.4 286.8 L301.4 288.2 L303.4 289.7 L305.4 291.1 L307.4 292.2 L309.4 292.8 L311.4 292.8 L313.4 292.8 L315.4 292.7 L317.4 292.7 L319.4 292.7 L321.4 292.6 L323.4 292.6 L325.4 292.5 L327.4 292.5 L329.4 292.5 L331.4 292.5 L333.4 292.7 L335.4 293 L337.4 293.3 L339.4 293.7 L341.4 294.1 L343.4 294.4 L345.4 294.8 L347.4 295 L349.4 295.1 L351.4 295.1 L353.4 295 L355.4 294.8 L357.4 294.6 L359.4 294.3 L361.4 294 L363.4 293.6 L365.4 293.2 L367.4 292.8 L369.4 292.3 L371.4 291.8 L373.4 291.4 L375.4 290.9 L377.4 290.4 L379.4 290 L381.4 289.6 L383.4 289.1 L385.4 288.5 L387.4 287.9 L389.4 287.3 L391.4 286.8 L393.4 286.3 L395.4 286 L397.4 285.8 L399.4 285.6 L401.4 285.5 L403.4 285.4 L405.4 285.2 L407.4 285.1 L409.4 285 L411.4 284.9 L413.4 284.9 L415.4 284.8 L417.4 284.8 L419.4 284.8 L421.4 285.2 L423.4 286.1 L425.4 287.4 L427.4 289 L429.4 290.8 L431.4 292.5 L433.4 294.2 L435.4 295.5 L437.4 296.4 L439.4 296.7 L441.4 296.7 L443.4 296.6 L445.4 296.6 L447.4 296.5 L449.4 296.4 L451.4 296.3 L453.4 296.2 L455.4 296.1 L457.4 296.1 L459.4 296 L461.4 296 L463.4 296.1 L465.4 296.4 L467.4 296.9 L469.4 297.6 L471.4 298.4 L473.4 299.3 L475.4 300.1 L477.4 301 L479.4 301.7 L481.4 302.3 L483.4 302.7 L485.4 302.8 L487.4 302.2 L489.4 300.6 L491.4 298.3 L493.4 295.5 L495.4 292.4 L497.4 289.3 L499.4 286.5 L501.4 284.2 L503.4 282.6 L505.4 282 L507.4 282.3 L509.4 283.3 L511.4 284.6 L513.4 286.3 L515.4 288 L517.4 289.7 L519.4 291.1 L521.4 292.2 L523.4 292.8 L525.4 292.8 L527.4 292.9 L529.4 292.9 L531.4 292.9 L533.4 293 L535.4 293 L537.4 293 L539.4 293 L541.4 292.9 L543.4 292.6 L545.4 292.1 L547.4 291.5 L549.4 290.9 L551.4 290.4 L553.4 290.1 L555.4 290 L557.4 290 L559.4 290 L561.4 290 L563.4 290 L565.4 290 L567.4 290 L569.4 290 L571.4 290 L573.4 290 L575.4 290 L577.4 290 L579.4 290.1 L581.4 290.3 L583.4 290.7 L585.4 291.1 L587.4 291.5 L589.4 291.7 L591.4 291.7 L593.4 291.5 L595.4 291.2 L597.4 290.7 L599.4 290.2 L601.4 289.6 L603.4 289 L605.4 288.3 L607.4 287.6 L609.4 287 L611.4 286.4 L613.4 285.8 L615.4 285.3 L617.4 284.9 L619.4 284.6 L621.4 284.5 L623.4 284.6 L625.4 284.8 L627.4 285.3 L629.4 285.9 L631.4 286.7 L633.4 287.4 L635.4 288.3 L637.4 289 L639.4 289.7 L641.4 290.3 L643.4 290.8 L645.4 291 L647.4 291 L649.4 291 L651.4 291 L653.4 291 L655.4 291 L657.4 291 L659.4 291 L661.4 291 L663.4 291 L665.4 291 L667.4 291 L669.4 290.8 L671.4 290.6 L673.4 290.3 L675.4 290 L677.4 289.6 L679.4 289.2 L681.4 288.7 L683.4 288.3 L685.4 287.9 L687.4 287.5 L689.4 287.1 L691.4 286.8 L693.4 286.5 L695.4 286.3 L697.4 286.1 L699.4 286.1 L701.4 286.1 L703.4 286.1 L705.4 286.2 L707.4 286.3 L709.4 286.4" stroke="#1aa63c" stroke-width="1.3"/>
<path d="M115.4 295.6 L117.4 295.1 L119.4 294.6 L121.4 294.1 L123.4 293.7 L125.4 293.2 L127.4 292.8 L129.4 292.4 L131.4 292.1 L133.4 291.8 L135.4 291.6 L137.4 291.4 L139.4 291.3 L141.4 291.3 L143.4 291.3 L145.4 291.3 L147.4 291.3 L149.4 291.3 L151.4 291.4 L153.4 291.4 L155.4 291.4 L157.4 291.5 L159.4 291.5 L161.4 291.6 L163.4 291.6 L165.4 291.6 L167.4 291.7 L169.4 291.7 L171.4 291.8 L173.4 291.8 L175.4 291.9 L177.4 291.9 L179.4 292 L181.4 292.1 L183.4 292.1 L185.4 292.2 L187.4 292.3 L189.4 292.4 L191.4 292.4 L193.4 292.5 L195.4 292.6 L197.4 292.7 L199.4 292.8 L201.4 292.9" stroke="#b8185e" stroke-width="1.2"/>
<path d="M115.4 290.3 L117.4 289.7 L119.4 289.1 L121.4 288.7 L123.4 288.3 L125.4 287.9 L127.4 287.6 L129.4 287.3 L131.4 287.1 L133.4 286.9 L135.4 286.8 L137.4 286.6 L139.4 286.6 L141.4 286.5 L143.4 286.6 L145.4 286.8 L147.4 287.1 L149.4 287.5 L151.4 287.9 L153.4 288.3 L155.4 288.7 L157.4 289.1 L159.4 289.3 L161.4 289.5 L163.4 289.6 L165.4 289.6 L167.4 289.7 L169.4 289.8 L171.4 289.8 L173.4 289.9 L175.4 289.9 L177.4 290 L179.4 290.1 L181.4 290.3 L183.4 290.4 L185.4 290.6 L187.4 290.8 L189.4 291.1 L191.4 291.3 L193.4 291.6 L195.4 291.9 L197.4 292.1 L199.4 292.3 L201.4 292.5 L203.4 292.6 L205.4 292.7 L207.4 292.6 L209.4 292.5 L211.4 292.3 L213.4 292 L215.4 291.8 L217.4 291.5 L219.4 291.2 L221.4 291 L223.4 290.8 L225.4 290.7 L227.4 290.6 L229.4 290.7 L231.4 290.8 L233.4 290.9 L235.4 291.1 L237.4 291.2 L239.4 291.4 L241.4 291.5 L243.4 291.6 L245.4 291.7 L247.4 291.8 L249.4 291.9 L251.4 291.9 L253.4 291.9 L255.4 291.7 L257.4 291.5 L259.4 291.2 L261.4 290.9 L263.4 290.5 L265.4 290.1 L267.4 289.7 L269.4 289.2 L271.4 288.7 L273.4 288.2 L275.4 287.7 L277.4 287.2 L279.4 286.6 L281.4 285.9 L283.4 285.1 L285.4 284.4 L287.4 283.8 L289.4 283.3 L291.4 283 L293.4 283.1 L295.4 283.7 L297.4 284.6 L299.4 285.8 L301.4 287.1 L303.4 288.4 L305.4 289.5 L307.4 290.4 L309.4 290.9 L311.4 290.9 L313.4 290.9 L315.4 290.8 L317.4 290.7 L319.4 290.6 L321.4 290.5 L323.4 290.5 L325.4 290.4 L327.4 290.4 L329.4 290.5 L331.4 290.7 L333.4 291.1 L335.4 291.5 L337.4 292 L339.4 292.6 L341.4 293.1 L343.4 293.7 L345.4 294.2 L347.4 294.5 L349.4 294.8 L351.4 294.9 L353.4 294.9 L355.4 294.9 L357.4 294.7 L359.4 294.5 L361.4 294.3 L363.4 294 L365.4 293.6 L367.4 293.2 L369.4 292.8 L371.4 292.4 L373.4 292 L375.4 291.6 L377.4 291 L379.4 290.4 L381.4 289.7 L383.4 289 L385.4 288.3 L387.4 287.6 L389.4 286.9 L391.4 286.3 L393.4 285.7 L395.4 285.2 L397.4 284.7 L399.4 284.3 L401.4 283.9 L403.4 283.4 L405.4 283 L407.4 282.7 L409.4 282.3 L411.4 282 L413.4 281.8 L415.4 281.7 L417.4 281.6 L419.4 281.6 L421.4 281.7 L423.4 281.9 L425.4 282.3 L427.4 282.7 L429.4 283.6 L431.4 285.1 L433.4 286.9 L435.4 289 L437.4 291.1 L439.4 293.1 L441.4 294.7 L443.4 295.9 L445.4 296.4 L447.4 296.4 L449.4 296.2 L451.4 296 L453.4 295.8 L455.4 295.5 L457.4 295.1 L459.4 294.7 L461.4 294.3 L463.4 294 L465.4 293.6 L467.4 293.4 L469.4 293.2 L471.4 293.1 L473.4 293.1 L475.4 293.3 L477.4 293.6 L479.4 293.9 L481.4 294.1 L483.4 294.2 L485.4 294.1 L487.4 293.5 L489.4 292.3 L491.4 290.6 L493.4 288.5 L495.4 286.4 L497.4 284.4 L499.4 282.6 L501.4 281.3 L503.4 280.6 L505.4 280.7 L507.4 281.1 L509.4 281.7 L511.4 282.6 L513.4 283.6 L515.4 284.6 L517.4 285.5 L519.4 286.2 L521.4 286.9 L523.4 287.6 L525.4 288.3 L527.4 289 L529.4 289.7 L531.4 290.3 L533.4 290.8 L535.4 291.3 L537.4 291.7 L539.4 292.1 L541.4 292.5 L543.4 292.9 L545.4 293.3 L547.4 293.7 L549.4 294.1 L551.4 294.3 L553.4 294.3 L555.4 294.3 L557.4 294.2 L559.4 294.1 L561.4 293.8 L563.4 293.6 L565.4 293.3 L567.4 293 L569.4 292.7 L571.4 292.4 L573.4 292.2 L575.4 292.1 L577.4 292 L579.4 292.1 L581.4 292.4 L583.4 292.9 L585.4 293.5 L587.4 294 L589.4 294.4 L591.4 294.7 L593.4 294.8 L595.4 294.7 L597.4 294.6 L599.4 294.4 L601.4 294.1 L603.4 293.8 L605.4 293.1 L607.4 292.1 L609.4 290.8 L611.4 289.4 L613.4 287.9 L615.4 286.3 L617.4 284.8 L619.4 283.3 L621.4 282.1 L623.4 281.1 L625.4 280.5 L627.4 280.2 L629.4 280.4 L631.4 280.9 L633.4 281.8 L635.4 282.8 L637.4 284 L639.4 285.1 L641.4 286.3 L643.4 287.3 L645.4 288.1 L647.4 288.6 L649.4 289.2 L651.4 289.7 L653.4 290.2 L655.4 290.7 L657.4 291.2 L659.4 291.7 L661.4 292.1 L663.4 292.5 L665.4 292.8 L667.4 292.9 L669.4 292.9 L671.4 292.7 L673.4 292.4 L675.4 292 L677.4 291.5 L679.4 291 L681.4 290.4 L683.4 289.9 L685.4 289.4 L687.4 288.9 L689.4 288.5 L691.4 288.2 L693.4 287.9 L695.4 287.6 L697.4 287.2 L699.4 286.9 L701.4 286.5 L703.4 286.2 L705.4 285.9 L707.4 285.6 L709.4 285.3" stroke="#b8185e" stroke-width="1.05"/>
<path d="M115.4 288.1 L117.4 287.6 L119.4 287.1 L121.4 286.7 L123.4 286.3 L125.4 286 L127.4 285.8 L129.4 285.5 L131.4 285.3 L133.4 285.2 L135.4 285 L137.4 284.9 L139.4 284.8 L141.4 284.8 L143.4 284.9 L145.4 285.1 L147.4 285.4 L149.4 285.8 L151.4 286.3 L153.4 286.8 L155.4 287.2 L157.4 287.7 L159.4 288.1 L161.4 288.3 L163.4 288.6 L165.4 288.9 L167.4 289.2 L169.4 289.4 L171.4 289.7 L173.4 290 L175.4 290.2 L177.4 290.5 L179.4 290.7 L181.4 291 L183.4 291.2 L185.4 291.5 L187.4 291.7 L189.4 291.9 L191.4 292.1 L193.4 292.3 L195.4 292.4 L197.4 292.5 L199.4 292.5 L201.4 292.4 L203.4 292.2 L205.4 292 L207.4 291.6 L209.4 291.1 L211.4 290.5 L213.4 289.9 L215.4 289.3 L217.4 288.7 L219.4 288.1 L221.4 287.5 L223.4 287 L225.4 286.6 L227.4 286.4 L229.4 286.2 L231.4 286.2 L233.4 286.2 L235.4 286.3 L237.4 286.5 L239.4 286.7 L241.4 287 L243.4 287.2 L245.4 287.5 L247.4 287.8 L249.4 288 L251.4 288.3 L253.4 288.5 L255.4 288.6 L257.4 288.7 L259.4 288.7 L261.4 288.7 L263.4 288.6 L265.4 288.5 L267.4 288.3 L269.4 288.1 L271.4 287.9 L273.4 287.6 L275.4 287.4 L277.4 287 L279.4 286.6 L281.4 286 L283.4 285.4 L285.4 284.9 L287.4 284.4 L289.4 284 L291.4 283.8 L293.4 284 L295.4 284.6 L297.4 285.6 L299.4 286.9 L301.4 288.2 L303.4 289.6 L305.4 290.7 L307.4 291.6 L309.4 292.1 L311.4 292.2 L313.4 292.2 L315.4 292 L317.4 291.9 L319.4 291.7 L321.4 291.5 L323.4 291.3 L325.4 291 L327.4 290.9 L329.4 290.7 L331.4 290.6 L333.4 290.6 L335.4 290.7 L337.4 290.9 L339.4 291 L341.4 291.1 L343.4 291.2 L345.4 291.3 L347.4 291.2 L349.4 291.1 L351.4 290.8 L353.4 290.5 L355.4 290.2 L357.4 289.8 L359.4 289.4 L361.4 289.1 L363.4 288.7 L365.4 288.4 L367.4 288.1 L369.4 287.9 L371.4 287.7 L373.4 287.6 L375.4 287.5 L377.4 287.3 L379.4 287.2 L381.4 287 L383.4 286.9 L385.4 286.7 L387.4 286.6 L389.4 286.5 L391.4 286.4 L393.4 286.3 L395.4 286.3 L397.4 286.2 L399.4 286 L401.4 285.6 L403.4 285.3 L405.4 284.9 L407.4 284.6 L409.4 284.3 L411.4 284 L413.4 283.7 L415.4 283.3 L417.4 282.8 L419.4 282.3 L421.4 281.9 L423.4 281.6 L425.4 281.3 L427.4 281.1 L429.4 281.4 L431.4 282.3 L433.4 283.6 L435.4 285.1 L437.4 286.7 L439.4 288.2 L441.4 289.4 L443.4 290.2 L445.4 290.4 L447.4 290.2 L449.4 290 L451.4 289.7 L453.4 289.5 L455.4 289.3 L457.4 289.1 L459.4 289.1 L461.4 289.1 L463.4 289.2 L465.4 289.4 L467.4 289.8 L469.4 290.2 L471.4 290.9 L473.4 291.7 L475.4 292.8 L477.4 293.8 L479.4 294.9 L481.4 295.8 L483.4 296.6 L485.4 297 L487.4 296.9 L489.4 295.9 L491.4 294.4 L493.4 292.5 L495.4 290.5 L497.4 288.6 L499.4 286.9 L501.4 285.7 L503.4 285 L505.4 284.8 L507.4 284.8 L509.4 285 L511.4 285.4 L513.4 285.8 L515.4 286.3 L517.4 286.7 L519.4 286.9 L521.4 287.1 L523.4 287.3 L525.4 287.6 L527.4 287.9 L529.4 288.2 L531.4 288.5 L533.4 288.6 L535.4 288.7 L537.4 288.8 L539.4 288.9 L541.4 289 L543.4 289.1 L545.4 289.2 L547.4 289.4 L549.4 289.5 L551.4 289.7 L553.4 289.8 L555.4 290 L557.4 290.1 L559.4 290.1 L561.4 290.1 L563.4 290 L565.4 289.9 L567.4 289.8 L569.4 289.6 L571.4 289.5 L573.4 289.4 L575.4 289.3 L577.4 289.3 L579.4 289.4 L581.4 289.6 L583.4 290 L585.4 290.5 L587.4 290.9 L589.4 291.2 L591.4 291.4 L593.4 291.6 L595.4 291.8 L597.4 291.9 L599.4 292 L601.4 292.1 L603.4 292.1 L605.4 291.8 L607.4 291.2 L609.4 290.3 L611.4 289.3 L613.4 288.1 L615.4 286.9 L617.4 285.7 L619.4 284.6 L621.4 283.6 L623.4 282.9 L625.4 282.4 L627.4 282.2 L629.4 282.4 L631.4 283 L633.4 283.8 L635.4 284.8 L637.4 285.8 L639.4 286.9 L641.4 287.8 L643.4 288.6 L645.4 289.2 L647.4 289.4 L649.4 289.7 L651.4 289.9 L653.4 290.2 L655.4 290.4 L657.4 290.6 L659.4 290.8 L661.4 291 L663.4 291.2 L665.4 291.3 L667.4 291.3 L669.4 291.1 L671.4 290.8 L673.4 290.4 L675.4 289.9 L677.4 289.4 L679.4 288.8 L681.4 288.2 L683.4 287.6 L685.4 287.1 L687.4 286.6 L689.4 286.3 L691.4 286 L693.4 285.6 L695.4 285.3 L697.4 285 L699.4 284.6 L701.4 284.3 L703.4 283.9 L705.4 283.5 L707.4 283.2 L709.4 282.9" stroke="#6c12ad" stroke-width="1.05"/>
<path d="M115.4 288 L117.4 287.3 L119.4 286.7 L121.4 286.1 L123.4 285.5 L125.4 284.9 L127.4 284.4 L129.4 284 L131.4 283.6 L133.4 283.2 L135.4 282.9 L137.4 282.6 L139.4 282.4 L141.4 282.2 L143.4 282.2 L145.4 282.4 L147.4 282.7 L149.4 283.1 L151.4 283.6 L153.4 284.2 L155.4 284.8 L157.4 285.3 L159.4 285.9 L161.4 286.3 L163.4 286.8 L165.4 287.2 L167.4 287.7 L169.4 288.1 L171.4 288.5 L173.4 289 L175.4 289.4 L177.4 289.7 L179.4 290.1 L181.4 290.4 L183.4 290.7 L185.4 291 L187.4 291.2 L189.4 291.4 L191.4 291.6 L193.4 291.8 L195.4 291.9 L197.4 291.9 L199.4 291.9 L201.4 291.9 L203.4 291.7 L205.4 291.5 L207.4 291.2 L209.4 290.8 L211.4 290.3 L213.4 289.8 L215.4 289.4 L217.4 288.9 L219.4 288.4 L221.4 288.1 L223.4 287.7 L225.4 287.5 L227.4 287.4 L229.4 287.4 L231.4 287.5 L233.4 287.6 L235.4 287.8 L237.4 288 L239.4 288.2 L241.4 288.5 L243.4 288.6 L245.4 288.8 L247.4 288.9 L249.4 289 L251.4 289 L253.4 288.9 L255.4 288.8 L257.4 288.6 L259.4 288.2 L261.4 287.8 L263.4 287.4 L265.4 286.9 L267.4 286.4 L269.4 285.8 L271.4 285.2 L273.4 284.6 L275.4 284 L277.4 283.4 L279.4 282.7 L281.4 282 L283.4 281.2 L285.4 280.5 L287.4 280 L289.4 279.5 L291.4 279.4 L293.4 279.6 L295.4 280.3 L297.4 281.4 L299.4 282.7 L301.4 284.2 L303.4 285.7 L305.4 287 L307.4 288.1 L309.4 288.8 L311.4 289.1 L313.4 289.3 L315.4 289.4 L317.4 289.5 L319.4 289.5 L321.4 289.5 L323.4 289.5 L325.4 289.4 L327.4 289.4 L329.4 289.5 L331.4 289.6 L333.4 289.8 L335.4 290 L337.4 290.3 L339.4 290.5 L341.4 290.8 L343.4 291.1 L345.4 291.2 L347.4 291.4 L349.4 291.4 L351.4 291.3 L353.4 291.2 L355.4 291 L357.4 290.8 L359.4 290.5 L361.4 290.3 L363.4 290 L365.4 289.8 L367.4 289.5 L369.4 289.3 L371.4 289.1 L373.4 288.9 L375.4 288.6 L377.4 288.3 L379.4 288 L381.4 287.6 L383.4 287.2 L385.4 286.7 L387.4 286.2 L389.4 285.8 L391.4 285.3 L393.4 284.8 L395.4 284.3 L397.4 283.9 L399.4 283.4 L401.4 282.9 L403.4 282.3 L405.4 281.8 L407.4 281.2 L409.4 280.6 L411.4 280.1 L413.4 279.6 L415.4 279.1 L417.4 278.8 L419.4 278.5 L421.4 278.4 L423.4 278.4 L425.4 278.6 L427.4 278.9 L429.4 279.8 L431.4 281.2 L433.4 283.1 L435.4 285.2 L437.4 287.4 L439.4 289.5 L441.4 291.2 L443.4 292.5 L445.4 293.2 L447.4 293.3 L449.4 293.3 L451.4 293.2 L453.4 293.1 L455.4 292.8 L457.4 292.5 L459.4 292.2 L461.4 291.9 L463.4 291.6 L465.4 291.4 L467.4 291.2 L469.4 291.1 L471.4 291.1 L473.4 291.4 L475.4 291.8 L477.4 292.3 L479.4 292.8 L481.4 293.2 L483.4 293.3 L485.4 293.3 L487.4 292.7 L489.4 291.4 L491.4 289.7 L493.4 287.8 L495.4 285.7 L497.4 283.8 L499.4 282 L501.4 280.8 L503.4 280.1 L505.4 280 L507.4 280.4 L509.4 280.9 L511.4 281.7 L513.4 282.5 L515.4 283.4 L517.4 284.3 L519.4 285 L521.4 285.7 L523.4 286.4 L525.4 287.2 L527.4 287.9 L529.4 288.6 L531.4 289.1 L533.4 289.5 L535.4 289.7 L537.4 289.7 L539.4 289.8 L541.4 289.7 L543.4 289.6 L545.4 289.5 L547.4 289.3 L549.4 289.1 L551.4 288.9 L553.4 288.7 L555.4 288.5 L557.4 288.3 L559.4 288 L561.4 287.7 L563.4 287.4 L565.4 287.1 L567.4 286.8 L569.4 286.6 L571.4 286.4 L573.4 286.3 L575.4 286.3 L577.4 286.4 L579.4 286.6 L581.4 287.1 L583.4 287.6 L585.4 288.3 L587.4 289 L589.4 289.6 L591.4 290.1 L593.4 290.6 L595.4 291.1 L597.4 291.6 L599.4 292 L601.4 292.4 L603.4 292.6 L605.4 292.5 L607.4 292.1 L609.4 291.5 L611.4 290.6 L613.4 289.5 L615.4 288.3 L617.4 287.2 L619.4 286 L621.4 285 L623.4 284.1 L625.4 283.4 L627.4 283.1 L629.4 283.1 L631.4 283.5 L633.4 284.2 L635.4 285 L637.4 285.9 L639.4 286.8 L641.4 287.6 L643.4 288.3 L645.4 288.7 L647.4 288.9 L649.4 289 L651.4 289.2 L653.4 289.4 L655.4 289.6 L657.4 289.7 L659.4 289.9 L661.4 290 L663.4 290.1 L665.4 290.2 L667.4 290.1 L669.4 289.9 L671.4 289.5 L673.4 289 L675.4 288.4 L677.4 287.6 L679.4 286.9 L681.4 286.1 L683.4 285.4 L685.4 284.7 L687.4 284 L689.4 283.5 L691.4 283 L693.4 282.5 L695.4 282.1 L697.4 281.6 L699.4 281.2 L701.4 280.8 L703.4 280.4 L705.4 280.1 L707.4 279.8 L709.4 279.6" stroke="#b8185e" stroke-width="1.05"/>
<path d="M115.4 281.6 L117.4 281 L119.4 280.5 L121.4 279.9 L123.4 279.5 L125.4 279.1 L127.4 278.7 L129.4 278.3 L131.4 278 L133.4 277.8 L135.4 277.5 L137.4 277.3 L139.4 277.1 L141.4 277 L143.4 276.9 L145.4 276.9 L147.4 277 L149.4 277.2 L151.4 277.3 L153.4 277.5 L155.4 277.8 L157.4 278.2 L159.4 278.5 L161.4 278.8 L163.4 279 L165.4 279.3 L167.4 279.6 L169.4 279.9 L171.4 280.2 L173.4 280.4 L175.4 280.7 L177.4 280.9 L179.4 281.1 L181.4 281.2 L183.4 281.4 L185.4 281.5 L187.4 281.6 L189.4 281.7 L191.4 281.8 L193.4 281.9 L195.4 282.3 L197.4 282.6 L199.4 283 L201.4 283.3 L203.4 283.6 L205.4 283.9 L207.4 284 L209.4 284.1 L211.4 284.1 L213.4 284.1 L215.4 284 L217.4 283.9 L219.4 283.7 L221.4 283.6 L223.4 283.5 L225.4 283.4 L227.4 283.4 L229.4 283.4 L231.4 283.4 L233.4 283.5 L235.4 283.6 L237.4 283.7 L239.4 283.7 L241.4 283.8 L243.4 283.8 L245.4 283.7 L247.4 283.7 L249.4 283.6 L251.4 283.5 L253.4 283.3 L255.4 283 L257.4 282.8 L259.4 282.5 L261.4 282.1 L263.4 281.8 L265.4 281.4 L267.4 281.1 L269.4 280.7 L271.4 280.4 L273.4 280.1 L275.4 279.8 L277.4 279.5 L279.4 279.1 L281.4 278.7 L283.4 278.3 L285.4 277.9 L287.4 277.6 L289.4 277.5 L291.4 277.5 L293.4 277.8 L295.4 278.6 L297.4 279.7 L299.4 281 L301.4 282.4 L303.4 283.7 L305.4 284.9 L307.4 285.8 L309.4 286.2 L311.4 286.3 L313.4 286.2 L315.4 286.1 L317.4 285.8 L319.4 285.6 L321.4 285.2 L323.4 284.9 L325.4 284.6 L327.4 284.2 L329.4 284 L331.4 283.8 L333.4 283.6 L335.4 283.5 L337.4 283.4 L339.4 283.3 L341.4 283.2 L343.4 283.1 L345.4 283 L347.4 282.8 L349.4 282.6 L351.4 282.5 L353.4 282.4 L355.4 282.3 L357.4 282.2 L359.4 282.1 L361.4 281.9 L363.4 281.7 L365.4 281.5 L367.4 281.2 L369.4 281 L371.4 280.7 L373.4 280.5 L375.4 280.2 L377.4 279.8 L379.4 279.4 L381.4 278.9 L383.4 278.4 L385.4 277.9 L387.4 277.5 L389.4 277.2 L391.4 276.9 L393.4 276.6 L395.4 276.4 L397.4 276.2 L399.4 276 L401.4 275.7 L403.4 275.4 L405.4 275.1 L407.4 274.8 L409.4 274.5 L411.4 274.2 L413.4 274 L415.4 273.9 L417.4 273.9 L419.4 273.9 L421.4 274.1 L423.4 274.6 L425.4 275.2 L427.4 275.9 L429.4 277 L431.4 278.8 L433.4 280.9 L435.4 283.2 L437.4 285.6 L439.4 287.7 L441.4 289.5 L443.4 290.8 L445.4 291.3 L447.4 291.2 L449.4 290.9 L451.4 290.3 L453.4 289.5 L455.4 288.7 L457.4 287.8 L459.4 286.9 L461.4 286 L463.4 285.2 L465.4 284.6 L467.4 284.1 L469.4 283.9 L471.4 283.9 L473.4 284.4 L475.4 285.1 L477.4 286 L479.4 286.9 L481.4 287.6 L483.4 288.1 L485.4 288.1 L487.4 287.7 L489.4 286.6 L491.4 285.2 L493.4 283.5 L495.4 281.7 L497.4 280 L499.4 278.4 L501.4 277.2 L503.4 276.5 L505.4 276.2 L507.4 276.2 L509.4 276.3 L511.4 276.6 L513.4 277 L515.4 277.7 L517.4 278.4 L519.4 279 L521.4 279.8 L523.4 280.8 L525.4 281.8 L527.4 282.9 L529.4 283.9 L531.4 284.6 L533.4 285.1 L535.4 285.2 L537.4 285.1 L539.4 284.9 L541.4 284.6 L543.4 284.2 L545.4 283.8 L547.4 283.4 L549.4 283.1 L551.4 283 L553.4 283 L555.4 283 L557.4 283.1 L559.4 283.1 L561.4 283.2 L563.4 283.2 L565.4 283.2 L567.4 283.3 L569.4 283.3 L571.4 283.3 L573.4 283.3 L575.4 283.3 L577.4 283.2 L579.4 283.2 L581.4 283.2 L583.4 283.2 L585.4 283.1 L587.4 283 L589.4 282.9 L591.4 282.9 L593.4 282.7 L595.4 282.6 L597.4 282.5 L599.4 282.3 L601.4 282.2 L603.4 282 L605.4 281.6 L607.4 281 L609.4 280.3 L611.4 279.4 L613.4 278.5 L615.4 277.6 L617.4 276.7 L619.4 275.9 L621.4 275.3 L623.4 274.8 L625.4 274.5 L627.4 274.5 L629.4 274.9 L631.4 275.7 L633.4 276.9 L635.4 278.2 L637.4 279.6 L639.4 281 L641.4 282.3 L643.4 283.4 L645.4 284.1 L647.4 284.5 L649.4 284.9 L651.4 285.2 L653.4 285.5 L655.4 285.8 L657.4 286 L659.4 286.2 L661.4 286.4 L663.4 286.5 L665.4 286.5 L667.4 286.4 L669.4 286.1 L671.4 285.6 L673.4 284.9 L675.4 284.2 L677.4 283.3 L679.4 282.4 L681.4 281.5 L683.4 280.6 L685.4 279.8 L687.4 279.1 L689.4 278.5 L691.4 278 L693.4 277.6 L695.4 277.1 L697.4 276.7 L699.4 276.2 L701.4 275.9 L703.4 275.5 L705.4 275.2 L707.4 274.9 L709.4 274.8" stroke="#f5890f" stroke-width="1.05"/>
<path d="M115.4 287.2 L117.4 286.2 L119.4 285.3 L121.4 284.4 L123.4 283.6 L125.4 282.9 L127.4 282.2 L129.4 281.6 L131.4 281 L133.4 280.6 L135.4 280.2 L137.4 279.9 L139.4 279.6 L141.4 279.5 L143.4 279.5 L145.4 279.7 L147.4 280.1 L149.4 280.5 L151.4 281.1 L153.4 281.7 L155.4 282.3 L157.4 283 L159.4 283.6 L161.4 284.1 L163.4 284.7 L165.4 285.2 L167.4 285.7 L169.4 286.3 L171.4 286.8 L173.4 287.3 L175.4 287.8 L177.4 288.3 L179.4 288.7 L181.4 289.1 L183.4 289.5 L185.4 289.8 L187.4 290.1 L189.4 290.4 L191.4 290.7 L193.4 290.9 L195.4 291 L197.4 291.1 L199.4 291.2 L201.4 291.1 L203.4 291 L205.4 290.8 L207.4 290.4 L209.4 290 L211.4 289.5 L213.4 289 L215.4 288.4 L217.4 287.9 L219.4 287.3 L221.4 286.8 L223.4 286.4 L225.4 286 L227.4 285.8 L229.4 285.6 L231.4 285.6 L233.4 285.7 L235.4 285.8 L237.4 285.9 L239.4 286.1 L241.4 286.3 L243.4 286.5 L245.4 286.7 L247.4 286.9 L249.4 287.1 L251.4 287.3 L253.4 287.4 L255.4 287.4 L257.4 287.4 L259.4 287.3 L261.4 287.2 L263.4 287 L265.4 286.7 L267.4 286.4 L269.4 286.1 L271.4 285.7 L273.4 285.3 L275.4 284.9 L277.4 284.4 L279.4 283.8 L281.4 283.1 L283.4 282.3 L285.4 281.6 L287.4 280.9 L289.4 280.4 L291.4 280 L293.4 280 L295.4 280.5 L297.4 281.3 L299.4 282.3 L301.4 283.5 L303.4 284.7 L305.4 285.8 L307.4 286.6 L309.4 287 L311.4 287.1 L313.4 287.1 L315.4 287.1 L317.4 287.1 L319.4 287.1 L321.4 287.1 L323.4 287.2 L325.4 287.3 L327.4 287.5 L329.4 287.8 L331.4 288.2 L333.4 288.7 L335.4 289.3 L337.4 289.9 L339.4 290.5 L341.4 291.1 L343.4 291.7 L345.4 292.2 L347.4 292.6 L349.4 292.9 L351.4 293 L353.4 293 L355.4 292.9 L357.4 292.7 L359.4 292.5 L361.4 292.1 L363.4 291.7 L365.4 291.2 L367.4 290.6 L369.4 290 L371.4 289.4 L373.4 288.7 L375.4 288 L377.4 287.3 L379.4 286.4 L381.4 285.5 L383.4 284.6 L385.4 283.7 L387.4 282.8 L389.4 282 L391.4 281.2 L393.4 280.5 L395.4 279.9 L397.4 279.4 L399.4 278.8 L401.4 278.4 L403.4 277.9 L405.4 277.5 L407.4 277.2 L409.4 276.9 L411.4 276.8 L413.4 276.7 L415.4 276.6 L417.4 276.7 L419.4 276.9 L421.4 277.3 L423.4 277.8 L425.4 278.4 L427.4 279.1 L429.4 280.3 L431.4 282 L433.4 284.1 L435.4 286.4 L437.4 288.6 L439.4 290.7 L441.4 292.4 L443.4 293.6 L445.4 294 L447.4 293.9 L449.4 293.6 L451.4 293.1 L453.4 292.5 L455.4 291.8 L457.4 291.1 L459.4 290.3 L461.4 289.5 L463.4 288.8 L465.4 288.2 L467.4 287.8 L469.4 287.5 L471.4 287.4 L473.4 287.6 L475.4 288 L477.4 288.6 L479.4 289.2 L481.4 289.8 L483.4 290.3 L485.4 290.5 L487.4 290.2 L489.4 289.4 L491.4 288.1 L493.4 286.6 L495.4 285 L497.4 283.5 L499.4 282.3 L501.4 281.4 L503.4 281.2 L505.4 281.5 L507.4 282.1 L509.4 282.9 L511.4 283.8 L513.4 284.8 L515.4 285.8 L517.4 286.7 L519.4 287.4 L521.4 288.1 L523.4 288.8 L525.4 289.5 L527.4 290.1 L529.4 290.7 L531.4 291 L533.4 291.2 L535.4 291.1 L537.4 290.9 L539.4 290.6 L541.4 290.3 L543.4 289.9 L545.4 289.5 L547.4 289.1 L549.4 288.6 L551.4 288.2 L553.4 287.8 L555.4 287.5 L557.4 287.1 L559.4 286.7 L561.4 286.4 L563.4 286 L565.4 285.7 L567.4 285.4 L569.4 285.2 L571.4 285 L573.4 284.9 L575.4 284.9 L577.4 285 L579.4 285.2 L581.4 285.6 L583.4 286.1 L585.4 286.7 L587.4 287.3 L589.4 287.8 L591.4 288.3 L593.4 288.7 L595.4 289.1 L597.4 289.5 L599.4 289.8 L601.4 290.1 L603.4 290.2 L605.4 290.1 L607.4 289.6 L609.4 288.9 L611.4 288 L613.4 286.9 L615.4 285.7 L617.4 284.5 L619.4 283.4 L621.4 282.3 L623.4 281.4 L625.4 280.8 L627.4 280.4 L629.4 280.4 L631.4 280.8 L633.4 281.5 L635.4 282.3 L637.4 283.2 L639.4 284.1 L641.4 285 L643.4 285.6 L645.4 286.1 L647.4 286.3 L649.4 286.4 L651.4 286.6 L653.4 286.9 L655.4 287.1 L657.4 287.4 L659.4 287.7 L661.4 288 L663.4 288.2 L665.4 288.5 L667.4 288.7 L669.4 288.7 L671.4 288.5 L673.4 288.3 L675.4 288 L677.4 287.6 L679.4 287.2 L681.4 286.7 L683.4 286.3 L685.4 285.9 L687.4 285.6 L689.4 285.4 L691.4 285.2 L693.4 285 L695.4 284.7 L697.4 284.4 L699.4 284.1 L701.4 283.8 L703.4 283.4 L705.4 283.1 L707.4 282.7 L709.4 282.3" stroke="#6c12ad" stroke-width="1.05"/>
<path d="M115.4 285.9 L117.4 285.5 L119.4 285.2 L121.4 284.8 L123.4 284.5 L125.4 284.2 L127.4 283.9 L129.4 283.7 L131.4 283.4 L133.4 283.1 L135.4 282.9 L137.4 282.6 L139.4 282.4 L141.4 282.2 L143.4 282 L145.4 282 L147.4 282.1 L149.4 282.3 L151.4 282.5 L153.4 282.7 L155.4 282.9 L157.4 283.2 L159.4 283.4 L161.4 283.5 L163.4 283.7 L165.4 283.9 L167.4 284.1 L169.4 284.4 L171.4 284.7 L173.4 285 L175.4 285.3 L177.4 285.6 L179.4 285.9 L181.4 286.3 L183.4 286.6 L185.4 286.9 L187.4 287.3 L189.4 287.6 L191.4 288 L193.4 288.3 L195.4 288.5 L197.4 288.7 L199.4 288.9 L201.4 289 L203.4 289 L205.4 288.9 L207.4 288.7 L209.4 288.3 L211.4 287.9 L213.4 287.5 L215.4 287 L217.4 286.4 L219.4 285.9 L221.4 285.4 L223.4 285 L225.4 284.6 L227.4 284.4 L229.4 284.2 L231.4 284.1 L233.4 284.2 L235.4 284.3 L237.4 284.4 L239.4 284.6 L241.4 284.8 L243.4 285 L245.4 285.3 L247.4 285.6 L249.4 285.9 L251.4 286.1 L253.4 286.4 L255.4 286.6 L257.4 286.7 L259.4 286.8 L261.4 286.9 L263.4 286.9 L265.4 286.9 L267.4 286.9 L269.4 286.8 L271.4 286.6 L273.4 286.4 L275.4 286.2 L277.4 285.9 L279.4 285.5 L281.4 284.9 L283.4 284.3 L285.4 283.6 L287.4 283 L289.4 282.5 L291.4 282.1 L293.4 282 L295.4 282.4 L297.4 283 L299.4 283.9 L301.4 284.9 L303.4 285.8 L305.4 286.6 L307.4 287.1 L309.4 287.3 L311.4 287 L313.4 286.7 L315.4 286.3 L317.4 285.9 L319.4 285.5 L321.4 285.2 L323.4 284.9 L325.4 284.6 L327.4 284.5 L329.4 284.4 L331.4 284.5 L333.4 284.7 L335.4 285 L337.4 285.4 L339.4 285.8 L341.4 286.3 L343.4 286.7 L345.4 287.2 L347.4 287.6 L349.4 287.9 L351.4 288.1 L353.4 288.2 L355.4 288.3 L357.4 288.3 L359.4 288.3 L361.4 288.2 L363.4 288.1 L365.4 288 L367.4 287.9 L369.4 287.7 L371.4 287.5 L373.4 287.3 L375.4 287 L377.4 286.7 L379.4 286.3 L381.4 285.8 L383.4 285.3 L385.4 284.8 L387.4 284.3 L389.4 283.7 L391.4 283.2 L393.4 282.7 L395.4 282.3 L397.4 281.9 L399.4 281.4 L401.4 281 L403.4 280.5 L405.4 280 L407.4 279.5 L409.4 279.1 L411.4 278.6 L413.4 278.3 L415.4 278 L417.4 277.7 L419.4 277.6 L421.4 277.6 L423.4 277.8 L425.4 278.1 L427.4 278.4 L429.4 279.3 L431.4 280.7 L433.4 282.6 L435.4 284.6 L437.4 286.7 L439.4 288.6 L441.4 290.2 L443.4 291.3 L445.4 291.7 L447.4 291.6 L449.4 291.3 L451.4 290.9 L453.4 290.4 L455.4 289.8 L457.4 289.2 L459.4 288.6 L461.4 288.1 L463.4 287.6 L465.4 287.2 L467.4 287 L469.4 287 L471.4 287.2 L473.4 287.6 L475.4 288.3 L477.4 289.1 L479.4 289.9 L481.4 290.6 L483.4 291.1 L485.4 291.3 L487.4 291 L489.4 290.1 L491.4 288.6 L493.4 287 L495.4 285.1 L497.4 283.4 L499.4 281.8 L501.4 280.6 L503.4 279.9 L505.4 279.8 L507.4 280 L509.4 280.4 L511.4 280.9 L513.4 281.5 L515.4 282.1 L517.4 282.7 L519.4 283.2 L521.4 283.8 L523.4 284.4 L525.4 285.1 L527.4 285.8 L529.4 286.5 L531.4 287 L533.4 287.4 L535.4 287.6 L537.4 287.7 L539.4 287.8 L541.4 287.8 L543.4 287.8 L545.4 287.8 L547.4 287.8 L549.4 287.8 L551.4 287.8 L553.4 287.8 L555.4 287.9 L557.4 287.9 L559.4 287.9 L561.4 287.8 L563.4 287.7 L565.4 287.5 L567.4 287.4 L569.4 287.2 L571.4 287.1 L573.4 286.9 L575.4 286.8 L577.4 286.7 L579.4 286.7 L581.4 286.7 L583.4 286.9 L585.4 287.1 L587.4 287.3 L589.4 287.4 L591.4 287.5 L593.4 287.6 L595.4 287.7 L597.4 287.7 L599.4 287.8 L601.4 287.9 L603.4 287.9 L605.4 287.7 L607.4 287.3 L609.4 286.6 L611.4 285.8 L613.4 284.9 L615.4 284 L617.4 283.1 L619.4 282.3 L621.4 281.6 L623.4 281 L625.4 280.8 L627.4 280.7 L629.4 281.1 L631.4 281.8 L633.4 282.7 L635.4 283.8 L637.4 284.9 L639.4 286 L641.4 286.9 L643.4 287.6 L645.4 288 L647.4 288 L649.4 287.9 L651.4 287.8 L653.4 287.7 L655.4 287.5 L657.4 287.3 L659.4 287.1 L661.4 286.8 L663.4 286.5 L665.4 286.2 L667.4 285.8 L669.4 285.2 L671.4 284.6 L673.4 283.8 L675.4 283 L677.4 282.2 L679.4 281.5 L681.4 280.8 L683.4 280.2 L685.4 279.7 L687.4 279.4 L689.4 279.3 L691.4 279.3 L693.4 279.4 L695.4 279.5 L697.4 279.7 L699.4 279.9 L701.4 280.1 L703.4 280.3 L705.4 280.6 L707.4 280.9 L709.4 281.2" stroke="#b8185e" stroke-width="1.05"/>
<path d="M115.4 284.7 L117.4 284.5 L119.4 284.3 L121.4 284.1 L123.4 284 L125.4 283.8 L127.4 283.6 L129.4 283.4 L131.4 283.2 L133.4 283 L135.4 282.7 L137.4 282.5 L139.4 282.2 L141.4 281.9 L143.4 281.7 L145.4 281.5 L147.4 281.4 L149.4 281.3 L151.4 281.3 L153.4 281.3 L155.4 281.3 L157.4 281.2 L159.4 281.2 L161.4 281.1 L163.4 281 L165.4 281 L167.4 281 L169.4 281.1 L171.4 281.2 L173.4 281.4 L175.4 281.6 L177.4 281.8 L179.4 282.1 L181.4 282.4 L183.4 282.7 L185.4 283 L187.4 283.4 L189.4 283.8 L191.4 284.2 L193.4 284.6 L195.4 285.1 L197.4 285.4 L199.4 285.8 L201.4 286.1 L203.4 286.3 L205.4 286.4 L207.4 286.4 L209.4 286.2 L211.4 286 L213.4 285.7 L215.4 285.3 L217.4 284.9 L219.4 284.4 L221.4 283.9 L223.4 283.5 L225.4 283.1 L227.4 282.7 L229.4 282.4 L231.4 282.2 L233.4 282.1 L235.4 282 L237.4 281.9 L239.4 281.8 L241.4 281.8 L243.4 281.9 L245.4 281.9 L247.4 282 L249.4 282.1 L251.4 282.2 L253.4 282.3 L255.4 282.5 L257.4 282.6 L259.4 282.6 L261.4 282.7 L263.4 282.8 L265.4 282.9 L267.4 283 L269.4 283 L271.4 283.1 L273.4 283.1 L275.4 283.1 L277.4 283.1 L279.4 282.9 L281.4 282.6 L283.4 282.2 L285.4 281.8 L287.4 281.5 L289.4 281.1 L291.4 280.9 L293.4 281 L295.4 281.5 L297.4 282.2 L299.4 283.1 L301.4 284.1 L303.4 285 L305.4 285.7 L307.4 286.1 L309.4 286.1 L311.4 285.7 L313.4 285.2 L315.4 284.7 L317.4 284.2 L319.4 283.6 L321.4 283.1 L323.4 282.6 L325.4 282.2 L327.4 281.9 L329.4 281.7 L331.4 281.7 L333.4 281.8 L335.4 282 L337.4 282.3 L339.4 282.7 L341.4 283.1 L343.4 283.6 L345.4 284.1 L347.4 284.5 L349.4 285 L351.4 285.3 L353.4 285.6 L355.4 285.9 L357.4 286.1 L359.4 286.3 L361.4 286.4 L363.4 286.4 L365.4 286.5 L367.4 286.4 L369.4 286.4 L371.4 286.2 L373.4 286.1 L375.4 285.8 L377.4 285.5 L379.4 285 L381.4 284.5 L383.4 283.8 L385.4 283.2 L387.4 282.5 L389.4 281.8 L391.4 281.1 L393.4 280.4 L395.4 279.7 L397.4 279.1 L399.4 278.4 L401.4 277.8 L403.4 277.1 L405.4 276.4 L407.4 275.8 L409.4 275.3 L411.4 274.8 L413.4 274.4 L415.4 274 L417.4 273.8 L419.4 273.8 L421.4 273.9 L423.4 274.3 L425.4 274.8 L427.4 275.4 L429.4 276.5 L431.4 278.2 L433.4 280.3 L435.4 282.6 L437.4 284.9 L439.4 287 L441.4 288.8 L443.4 290 L445.4 290.5 L447.4 290.3 L449.4 289.9 L451.4 289.4 L453.4 288.6 L455.4 287.8 L457.4 286.9 L459.4 286 L461.4 285.1 L463.4 284.3 L465.4 283.6 L467.4 283.1 L469.4 282.8 L471.4 282.8 L473.4 283.2 L475.4 283.9 L477.4 284.7 L479.4 285.5 L481.4 286.3 L483.4 286.9 L485.4 287.1 L487.4 286.8 L489.4 286.1 L491.4 284.9 L493.4 283.5 L495.4 282 L497.4 280.6 L499.4 279.4 L501.4 278.5 L503.4 278.2 L505.4 278.4 L507.4 278.8 L509.4 279.4 L511.4 280.2 L513.4 281 L515.4 281.8 L517.4 282.6 L519.4 283.4 L521.4 284.1 L523.4 285 L525.4 286 L527.4 286.9 L529.4 287.8 L531.4 288.4 L533.4 288.8 L535.4 288.9 L537.4 288.8 L539.4 288.6 L541.4 288.3 L543.4 288 L545.4 287.6 L547.4 287.3 L549.4 286.9 L551.4 286.6 L553.4 286.3 L555.4 286 L557.4 285.7 L559.4 285.5 L561.4 285.2 L563.4 284.9 L565.4 284.7 L567.4 284.4 L569.4 284.1 L571.4 283.9 L573.4 283.7 L575.4 283.5 L577.4 283.3 L579.4 283.2 L581.4 283.1 L583.4 283.1 L585.4 283.1 L587.4 283 L589.4 283 L591.4 283 L593.4 282.9 L595.4 282.8 L597.4 282.7 L599.4 282.6 L601.4 282.5 L603.4 282.4 L605.4 282.1 L607.4 281.6 L609.4 280.9 L611.4 280 L613.4 279.1 L615.4 278.2 L617.4 277.4 L619.4 276.6 L621.4 276 L623.4 275.6 L625.4 275.4 L627.4 275.5 L629.4 276 L631.4 277 L633.4 278.2 L635.4 279.6 L637.4 281.1 L639.4 282.6 L641.4 284 L643.4 285.1 L645.4 285.9 L647.4 286.4 L649.4 286.8 L651.4 287.2 L653.4 287.5 L655.4 287.8 L657.4 288 L659.4 288.2 L661.4 288.3 L663.4 288.3 L665.4 288.2 L667.4 288 L669.4 287.6 L671.4 286.9 L673.4 286.1 L675.4 285.2 L677.4 284.2 L679.4 283.2 L681.4 282.2 L683.4 281.2 L685.4 280.2 L687.4 279.4 L689.4 278.8 L691.4 278.3 L693.4 277.8 L695.4 277.3 L697.4 276.9 L699.4 276.6 L701.4 276.3 L703.4 276.1 L705.4 275.9 L707.4 275.8 L709.4 275.8" stroke="#f5890f" stroke-width="1.05"/>
<path d="M115.4 284.8 L117.4 284.3 L119.4 283.8 L121.4 283.5 L123.4 283.1 L125.4 282.8 L127.4 282.6 L129.4 282.4 L131.4 282.2 L133.4 282.1 L135.4 281.9 L137.4 281.8 L139.4 281.7 L141.4 281.6 L143.4 281.6 L145.4 281.7 L147.4 281.9 L149.4 282.1 L151.4 282.3 L153.4 282.5 L155.4 282.7 L157.4 282.9 L159.4 283 L161.4 283.1 L163.4 283.1 L165.4 283.1 L167.4 283.1 L169.4 283.2 L171.4 283.2 L173.4 283.3 L175.4 283.4 L177.4 283.5 L179.4 283.6 L181.4 283.8 L183.4 283.9 L185.4 284.1 L187.4 284.4 L189.4 284.7 L191.4 285 L193.4 285.3 L195.4 285.6 L197.4 286 L199.4 286.3 L201.4 286.6 L203.4 286.9 L205.4 287 L207.4 287.1 L209.4 287.1 L211.4 287 L213.4 286.9 L215.4 286.7 L217.4 286.5 L219.4 286.3 L221.4 286.1 L223.4 285.8 L225.4 285.6 L227.4 285.5 L229.4 285.3 L231.4 285.3 L233.4 285.2 L235.4 285.2 L237.4 285.2 L239.4 285.1 L241.4 285 L243.4 285 L245.4 284.9 L247.4 284.8 L249.4 284.6 L251.4 284.5 L253.4 284.3 L255.4 284.1 L257.4 283.8 L259.4 283.6 L261.4 283.3 L263.4 283 L265.4 282.8 L267.4 282.6 L269.4 282.4 L271.4 282.2 L273.4 282 L275.4 281.9 L277.4 281.8 L279.4 281.6 L281.4 281.3 L283.4 281.1 L285.4 280.8 L287.4 280.7 L289.4 280.6 L291.4 280.7 L293.4 281.2 L295.4 282 L297.4 283.2 L299.4 284.6 L301.4 286 L303.4 287.3 L305.4 288.4 L307.4 289.2 L309.4 289.6 L311.4 289.5 L313.4 289.3 L315.4 288.9 L317.4 288.5 L319.4 288 L321.4 287.4 L323.4 286.9 L325.4 286.3 L327.4 285.8 L329.4 285.3 L331.4 285 L333.4 284.7 L335.4 284.5 L337.4 284.4 L339.4 284.3 L341.4 284.3 L343.4 284.3 L345.4 284.3 L347.4 284.3 L349.4 284.3 L351.4 284.2 L353.4 284.2 L355.4 284.2 L357.4 284.2 L359.4 284.2 L361.4 284.2 L363.4 284.2 L365.4 284.3 L367.4 284.4 L369.4 284.5 L371.4 284.7 L373.4 284.8 L375.4 285 L377.4 285 L379.4 285 L381.4 284.9 L383.4 284.8 L385.4 284.7 L387.4 284.5 L389.4 284.2 L391.4 283.9 L393.4 283.6 L395.4 283.3 L397.4 283 L399.4 282.6 L401.4 282.1 L403.4 281.5 L405.4 280.9 L407.4 280.3 L409.4 279.6 L411.4 279 L413.4 278.3 L415.4 277.7 L417.4 277.2 L419.4 276.8 L421.4 276.5 L423.4 276.4 L425.4 276.5 L427.4 276.6 L429.4 277.3 L431.4 278.5 L433.4 280.2 L435.4 282.2 L437.4 284.2 L439.4 286.1 L441.4 287.7 L443.4 288.8 L445.4 289.2 L447.4 289.2 L449.4 288.9 L451.4 288.6 L453.4 288.1 L455.4 287.6 L457.4 287.1 L459.4 286.6 L461.4 286.2 L463.4 285.8 L465.4 285.6 L467.4 285.5 L469.4 285.6 L471.4 285.9 L473.4 286.6 L475.4 287.4 L477.4 288.3 L479.4 289.3 L481.4 290.1 L483.4 290.6 L485.4 290.8 L487.4 290.5 L489.4 289.5 L491.4 288.1 L493.4 286.3 L495.4 284.5 L497.4 282.7 L499.4 281.1 L501.4 279.8 L503.4 279 L505.4 278.8 L507.4 278.9 L509.4 279.2 L511.4 279.6 L513.4 280.1 L515.4 280.7 L517.4 281.2 L519.4 281.7 L521.4 282.3 L523.4 283 L525.4 283.8 L527.4 284.7 L529.4 285.5 L531.4 286.2 L533.4 286.7 L535.4 287 L537.4 287.2 L539.4 287.4 L541.4 287.5 L543.4 287.6 L545.4 287.7 L547.4 287.7 L549.4 287.8 L551.4 287.9 L553.4 288 L555.4 288.1 L557.4 288.2 L559.4 288.3 L561.4 288.3 L563.4 288.2 L565.4 288.1 L567.4 288 L569.4 287.9 L571.4 287.7 L573.4 287.5 L575.4 287.3 L577.4 287.1 L579.4 287 L581.4 286.9 L583.4 286.8 L585.4 286.8 L587.4 286.7 L589.4 286.6 L591.4 286.4 L593.4 286.2 L595.4 286 L597.4 285.8 L599.4 285.6 L601.4 285.4 L603.4 285.2 L605.4 284.7 L607.4 284 L609.4 283.1 L611.4 282.1 L613.4 281.1 L615.4 280 L617.4 279 L619.4 278 L621.4 277.3 L623.4 276.7 L625.4 276.4 L627.4 276.3 L629.4 276.7 L631.4 277.5 L633.4 278.6 L635.4 279.8 L637.4 281.1 L639.4 282.4 L641.4 283.6 L643.4 284.6 L645.4 285.3 L647.4 285.6 L649.4 285.9 L651.4 286.2 L653.4 286.4 L655.4 286.6 L657.4 286.8 L659.4 286.9 L661.4 287 L663.4 287.1 L665.4 287.1 L667.4 287 L669.4 286.6 L671.4 286.2 L673.4 285.6 L675.4 284.9 L677.4 284.2 L679.4 283.5 L681.4 282.8 L683.4 282.1 L685.4 281.5 L687.4 281.1 L689.4 280.8 L691.4 280.6 L693.4 280.4 L695.4 280.3 L697.4 280.2 L699.4 280.1 L701.4 280 L703.4 280 L705.4 280 L707.4 280 L709.4 280" stroke="#b8185e" stroke-width="1.05"/>
<path d="M115.4 289 L117.4 288.3 L119.4 287.6 L121.4 287 L123.4 286.6 L125.4 286.2 L127.4 285.9 L129.4 285.7 L131.4 285.6 L133.4 285.5 L135.4 285.5 L137.4 285.6 L139.4 285.7 L141.4 285.9 L143.4 286.1 L145.4 286.6 L147.4 287.1 L149.4 287.6 L151.4 288.2 L153.4 288.8 L155.4 289.3 L157.4 289.7 L159.4 290 L161.4 290.2 L163.4 290.2 L165.4 290.3 L167.4 290.3 L169.4 290.3 L171.4 290.2 L173.4 290.2 L175.4 290.1 L177.4 290.1 L179.4 290 L181.4 290 L183.4 290.1 L185.4 290.2 L187.4 290.3 L189.4 290.5 L191.4 290.7 L193.4 291 L195.4 291.3 L197.4 291.6 L199.4 291.9 L201.4 292.2 L203.4 292.4 L205.4 292.5 L207.4 292.6 L209.4 292.5 L211.4 292.4 L213.4 292.2 L215.4 292 L217.4 291.8 L219.4 291.5 L221.4 291.2 L223.4 290.9 L225.4 290.6 L227.4 290.4 L229.4 290.2 L231.4 290.1 L233.4 289.9 L235.4 289.8 L237.4 289.6 L239.4 289.5 L241.4 289.3 L243.4 289.1 L245.4 288.9 L247.4 288.7 L249.4 288.5 L251.4 288.3 L253.4 288 L255.4 287.8 L257.4 287.5 L259.4 287.3 L261.4 287.1 L263.4 286.9 L265.4 286.7 L267.4 286.6 L269.4 286.5 L271.4 286.4 L273.4 286.4 L275.4 286.4 L277.4 286.4 L279.4 286.3 L281.4 286.2 L283.4 286 L285.4 285.8 L287.4 285.7 L289.4 285.7 L291.4 285.8 L293.4 286.3 L295.4 287.1 L297.4 288.3 L299.4 289.6 L301.4 291 L303.4 292.2 L305.4 293.3 L307.4 294 L309.4 294.2 L311.4 294 L313.4 293.6 L315.4 293.1 L317.4 292.6 L319.4 292 L321.4 291.5 L323.4 290.9 L325.4 290.4 L327.4 290 L329.4 289.7 L331.4 289.5 L333.4 289.5 L335.4 289.7 L337.4 289.9 L339.4 290.3 L341.4 290.7 L343.4 291.2 L345.4 291.6 L347.4 292.1 L349.4 292.4 L351.4 292.6 L353.4 292.8 L355.4 293 L357.4 293 L359.4 293 L361.4 293 L363.4 292.9 L365.4 292.8 L367.4 292.6 L369.4 292.4 L371.4 292.1 L373.4 291.8 L375.4 291.4 L377.4 290.8 L379.4 290.2 L381.4 289.5 L383.4 288.8 L385.4 288 L387.4 287.2 L389.4 286.4 L391.4 285.6 L393.4 284.9 L395.4 284.2 L397.4 283.6 L399.4 283.1 L401.4 282.5 L403.4 282 L405.4 281.5 L407.4 281.1 L409.4 280.8 L411.4 280.5 L413.4 280.3 L415.4 280.2 L417.4 280.2 L419.4 280.3 L421.4 280.6 L423.4 281 L425.4 281.5 L427.4 282 L429.4 283.1 L431.4 284.7 L433.4 286.6 L435.4 288.8 L437.4 290.9 L439.4 292.9 L441.4 294.6 L443.4 295.7 L445.4 296.1 L447.4 296 L449.4 295.8 L451.4 295.4 L453.4 295 L455.4 294.5 L457.4 293.9 L459.4 293.4 L461.4 292.9 L463.4 292.4 L465.4 292 L467.4 291.6 L469.4 291.4 L471.4 291.4 L473.4 291.6 L475.4 291.9 L477.4 292.4 L479.4 293 L481.4 293.5 L483.4 293.9 L485.4 294.2 L487.4 294 L489.4 293.1 L491.4 291.8 L493.4 290.2 L495.4 288.5 L497.4 286.8 L499.4 285.4 L501.4 284.4 L503.4 284 L505.4 284.3 L507.4 284.8 L509.4 285.5 L511.4 286.4 L513.4 287.3 L515.4 288.1 L517.4 288.8 L519.4 289.3 L521.4 289.6 L523.4 290 L525.4 290.3 L527.4 290.5 L529.4 290.7 L531.4 290.8 L533.4 290.8 L535.4 290.7 L537.4 290.6 L539.4 290.5 L541.4 290.4 L543.4 290.3 L545.4 290.2 L547.4 290.2 L549.4 290.2 L551.4 290.3 L553.4 290.4 L555.4 290.5 L557.4 290.6 L559.4 290.6 L561.4 290.7 L563.4 290.7 L565.4 290.7 L567.4 290.7 L569.4 290.7 L571.4 290.7 L573.4 290.8 L575.4 290.8 L577.4 291 L579.4 291.2 L581.4 291.6 L583.4 292.1 L585.4 292.6 L587.4 293.1 L589.4 293.3 L591.4 293.5 L593.4 293.5 L595.4 293.5 L597.4 293.5 L599.4 293.3 L601.4 293.1 L603.4 292.8 L605.4 292.3 L607.4 291.4 L609.4 290.2 L611.4 288.9 L613.4 287.5 L615.4 286.1 L617.4 284.7 L619.4 283.5 L621.4 282.5 L623.4 281.7 L625.4 281.3 L627.4 281.3 L629.4 281.8 L631.4 282.6 L633.4 283.7 L635.4 285 L637.4 286.4 L639.4 287.8 L641.4 289.1 L643.4 290.3 L645.4 291.2 L647.4 291.8 L649.4 292.4 L651.4 292.9 L653.4 293.3 L655.4 293.7 L657.4 294 L659.4 294.2 L661.4 294.3 L663.4 294.3 L665.4 294.2 L667.4 294 L669.4 293.5 L671.4 292.9 L673.4 292.1 L675.4 291.3 L677.4 290.4 L679.4 289.4 L681.4 288.5 L683.4 287.6 L685.4 286.8 L687.4 286.1 L689.4 285.5 L691.4 285.1 L693.4 284.7 L695.4 284.4 L697.4 284.1 L699.4 283.9 L701.4 283.7 L703.4 283.6 L705.4 283.5 L707.4 283.5 L709.4 283.5" stroke="#6c12ad" stroke-width="1.05"/>
<path d="M115.4 282.8 L117.4 282.3 L119.4 281.9 L121.4 281.5 L123.4 281.2 L125.4 281 L127.4 280.8 L129.4 280.7 L131.4 280.6 L133.4 280.6 L135.4 280.6 L137.4 280.6 L139.4 280.6 L141.4 280.7 L143.4 280.9 L145.4 281.1 L147.4 281.4 L149.4 281.8 L151.4 282.2 L153.4 282.6 L155.4 282.9 L157.4 283.3 L159.4 283.5 L161.4 283.7 L163.4 283.8 L165.4 284 L167.4 284.1 L169.4 284.2 L171.4 284.4 L173.4 284.6 L175.4 284.7 L177.4 284.9 L179.4 285.1 L181.4 285.3 L183.4 285.5 L185.4 285.7 L187.4 286 L189.4 286.3 L191.4 286.6 L193.4 287 L195.4 287.3 L197.4 287.6 L199.4 287.9 L201.4 288.2 L203.4 288.4 L205.4 288.5 L207.4 288.5 L209.4 288.4 L211.4 288.2 L213.4 288 L215.4 287.7 L217.4 287.4 L219.4 287.1 L221.4 286.7 L223.4 286.4 L225.4 286 L227.4 285.8 L229.4 285.6 L231.4 285.4 L233.4 285.3 L235.4 285.2 L237.4 285.1 L239.4 285 L241.4 284.9 L243.4 284.8 L245.4 284.7 L247.4 284.6 L249.4 284.5 L251.4 284.4 L253.4 284.3 L255.4 284.1 L257.4 283.9 L259.4 283.7 L261.4 283.5 L263.4 283.3 L265.4 283.1 L267.4 282.9 L269.4 282.8 L271.4 282.6 L273.4 282.5 L275.4 282.4 L277.4 282.2 L279.4 282 L281.4 281.7 L283.4 281.4 L285.4 281.1 L287.4 280.8 L289.4 280.7 L291.4 280.7 L293.4 281 L295.4 281.7 L297.4 282.8 L299.4 284 L301.4 285.3 L303.4 286.5 L305.4 287.6 L307.4 288.3 L309.4 288.6 L311.4 288.5 L313.4 288.3 L315.4 288 L317.4 287.6 L319.4 287.2 L321.4 286.9 L323.4 286.5 L325.4 286.2 L327.4 285.9 L329.4 285.7 L331.4 285.6 L333.4 285.6 L335.4 285.8 L337.4 286 L339.4 286.2 L341.4 286.5 L343.4 286.9 L345.4 287.1 L347.4 287.4 L349.4 287.6 L351.4 287.7 L353.4 287.8 L355.4 287.8 L357.4 287.8 L359.4 287.8 L361.4 287.7 L363.4 287.5 L365.4 287.4 L367.4 287.2 L369.4 286.9 L371.4 286.7 L373.4 286.4 L375.4 286.1 L377.4 285.6 L379.4 285.1 L381.4 284.5 L383.4 283.8 L385.4 283.1 L387.4 282.4 L389.4 281.7 L391.4 281 L393.4 280.3 L395.4 279.6 L397.4 279 L399.4 278.4 L401.4 277.8 L403.4 277.2 L405.4 276.7 L407.4 276.1 L409.4 275.7 L411.4 275.3 L413.4 275 L415.4 274.8 L417.4 274.7 L419.4 274.8 L421.4 275 L423.4 275.5 L425.4 276.1 L427.4 276.8 L429.4 278.1 L431.4 279.9 L433.4 282.1 L435.4 284.5 L437.4 287 L439.4 289.3 L441.4 291.2 L443.4 292.6 L445.4 293.2 L447.4 293.3 L449.4 293.1 L451.4 292.7 L453.4 292.2 L455.4 291.6 L457.4 290.9 L459.4 290.2 L461.4 289.4 L463.4 288.7 L465.4 288.1 L467.4 287.6 L469.4 287.3 L471.4 287.2 L473.4 287.4 L475.4 287.8 L477.4 288.4 L479.4 289 L481.4 289.5 L483.4 289.8 L485.4 289.8 L487.4 289.4 L489.4 288.3 L491.4 286.9 L493.4 285.3 L495.4 283.5 L497.4 281.9 L499.4 280.5 L501.4 279.5 L503.4 279 L505.4 279.1 L507.4 279.5 L509.4 280.1 L511.4 280.9 L513.4 281.7 L515.4 282.6 L517.4 283.4 L519.4 284.1 L521.4 284.8 L523.4 285.6 L525.4 286.4 L527.4 287.2 L529.4 287.9 L531.4 288.4 L533.4 288.7 L535.4 288.6 L537.4 288.5 L539.4 288.3 L541.4 287.9 L543.4 287.6 L545.4 287.2 L547.4 286.8 L549.4 286.4 L551.4 286 L553.4 285.6 L555.4 285.3 L557.4 285 L559.4 284.7 L561.4 284.4 L563.4 284.1 L565.4 283.8 L567.4 283.6 L569.4 283.5 L571.4 283.4 L573.4 283.3 L575.4 283.3 L577.4 283.4 L579.4 283.6 L581.4 284 L583.4 284.4 L585.4 284.9 L587.4 285.3 L589.4 285.8 L591.4 286.2 L593.4 286.6 L595.4 286.9 L597.4 287.3 L599.4 287.6 L601.4 287.8 L603.4 288 L605.4 287.9 L607.4 287.5 L609.4 286.9 L611.4 286.1 L613.4 285.2 L615.4 284.1 L617.4 283.1 L619.4 282.1 L621.4 281.2 L623.4 280.5 L625.4 280 L627.4 279.8 L629.4 279.9 L631.4 280.5 L633.4 281.3 L635.4 282.2 L637.4 283.3 L639.4 284.4 L641.4 285.3 L643.4 286.1 L645.4 286.6 L647.4 286.8 L649.4 287 L651.4 287.2 L653.4 287.4 L655.4 287.6 L657.4 287.8 L659.4 288 L661.4 288.1 L663.4 288.2 L665.4 288.3 L667.4 288.2 L669.4 288 L671.4 287.6 L673.4 287 L675.4 286.4 L677.4 285.7 L679.4 284.9 L681.4 284.1 L683.4 283.3 L685.4 282.6 L687.4 281.9 L689.4 281.4 L691.4 280.9 L693.4 280.4 L695.4 279.9 L697.4 279.4 L699.4 278.9 L701.4 278.5 L703.4 278.1 L705.4 277.7 L707.4 277.3 L709.4 277" stroke="#f5890f" stroke-width="1.05"/>
<path d="M115.4 281.2 L117.4 280.7 L119.4 280.3 L121.4 280 L123.4 279.7 L125.4 279.6 L127.4 279.5 L129.4 279.5 L131.4 279.6 L133.4 279.7 L135.4 279.8 L137.4 280 L139.4 280.2 L141.4 280.4 L143.4 280.7 L145.4 281 L147.4 281.4 L149.4 281.8 L151.4 282.1 L153.4 282.5 L155.4 282.8 L157.4 283 L159.4 283.1 L161.4 283.1 L163.4 283.1 L165.4 283 L167.4 282.9 L169.4 282.8 L171.4 282.7 L173.4 282.5 L175.4 282.4 L177.4 282.2 L179.4 282 L181.4 281.9 L183.4 281.7 L185.4 281.6 L187.4 281.6 L189.4 281.7 L191.4 281.8 L193.4 281.9 L195.4 282 L197.4 282 L199.4 282.1 L201.4 282.3 L203.4 282.5 L205.4 282.7 L207.4 282.8 L209.4 282.9 L211.4 283 L213.4 283 L215.4 283 L217.4 283 L219.4 283 L221.4 283 L223.4 283 L225.4 283.1 L227.4 283.2 L229.4 283.4 L231.4 283.6 L233.4 283.8 L235.4 284 L237.4 284.2 L239.4 284.4 L241.4 284.6 L243.4 284.7 L245.4 284.8 L247.4 284.8 L249.4 284.8 L251.4 284.8 L253.4 284.6 L255.4 284.5 L257.4 284.2 L259.4 283.9 L261.4 283.6 L263.4 283.3 L265.4 282.9 L267.4 282.5 L269.4 282.1 L271.4 281.7 L273.4 281.3 L275.4 280.9 L277.4 280.5 L279.4 280 L281.4 279.4 L283.4 278.8 L285.4 278.2 L287.4 277.7 L289.4 277.3 L291.4 277.1 L293.4 277.1 L295.4 277.7 L297.4 278.5 L299.4 279.6 L301.4 280.8 L303.4 281.9 L305.4 282.9 L307.4 283.7 L309.4 284.1 L311.4 284.1 L313.4 284 L315.4 283.8 L317.4 283.7 L319.4 283.6 L321.4 283.4 L323.4 283.3 L325.4 283.3 L327.4 283.3 L329.4 283.5 L331.4 283.7 L333.4 284 L335.4 284.3 L337.4 284.7 L339.4 285.2 L341.4 285.6 L343.4 286 L345.4 286.4 L347.4 286.6 L349.4 286.8 L351.4 286.9 L353.4 286.9 L355.4 286.8 L357.4 286.7 L359.4 286.4 L361.4 286.1 L363.4 285.8 L365.4 285.4 L367.4 284.9 L369.4 284.4 L371.4 283.9 L373.4 283.3 L375.4 282.7 L377.4 282.1 L379.4 281.4 L381.4 280.6 L383.4 279.9 L385.4 279.1 L387.4 278.4 L389.4 277.8 L391.4 277.2 L393.4 276.6 L395.4 276.2 L397.4 275.9 L399.4 275.6 L401.4 275.3 L403.4 275 L405.4 274.8 L407.4 274.7 L409.4 274.6 L411.4 274.6 L413.4 274.7 L415.4 274.8 L417.4 275.1 L419.4 275.4 L421.4 275.9 L423.4 276.6 L425.4 277.4 L427.4 278.2 L429.4 279.5 L431.4 281.2 L433.4 283.3 L435.4 285.6 L437.4 287.7 L439.4 289.7 L441.4 291.2 L443.4 292.1 L445.4 292.2 L447.4 291.6 L449.4 290.8 L451.4 289.7 L453.4 288.5 L455.4 287.1 L457.4 285.7 L459.4 284.3 L461.4 283 L463.4 281.7 L465.4 280.7 L467.4 279.9 L469.4 279.4 L471.4 279.4 L473.4 279.9 L475.4 280.7 L477.4 281.7 L479.4 282.7 L481.4 283.5 L483.4 284.2 L485.4 284.4 L487.4 284.1 L489.4 283.6 L491.4 282.8 L493.4 281.7 L495.4 280.5 L497.4 279.5 L499.4 278.6 L501.4 278.1 L503.4 278 L505.4 278.4 L507.4 279.1 L509.4 279.9 L511.4 280.7 L513.4 281.6 L515.4 282.5 L517.4 283.3 L519.4 284 L521.4 284.7 L523.4 285.6 L525.4 286.5 L527.4 287.4 L529.4 288.1 L531.4 288.7 L533.4 288.9 L535.4 288.8 L537.4 288.6 L539.4 288.2 L541.4 287.8 L543.4 287.3 L545.4 286.8 L547.4 286.4 L549.4 285.9 L551.4 285.5 L553.4 285.2 L555.4 285 L557.4 284.7 L559.4 284.5 L561.4 284.3 L563.4 284.1 L565.4 284 L567.4 283.8 L569.4 283.7 L571.4 283.5 L573.4 283.4 L575.4 283.3 L577.4 283.2 L579.4 283.2 L581.4 283.1 L583.4 283.1 L585.4 283.1 L587.4 283 L589.4 283 L591.4 282.9 L593.4 282.8 L595.4 282.6 L597.4 282.5 L599.4 282.4 L601.4 282.2 L603.4 282 L605.4 281.7 L607.4 281.1 L609.4 280.3 L611.4 279.5 L613.4 278.6 L615.4 277.6 L617.4 276.7 L619.4 276 L621.4 275.3 L623.4 274.8 L625.4 274.6 L627.4 274.6 L629.4 275.1 L631.4 276 L633.4 277.1 L635.4 278.5 L637.4 279.9 L639.4 281.3 L641.4 282.6 L643.4 283.6 L645.4 284.3 L647.4 284.7 L649.4 284.9 L651.4 285.2 L653.4 285.4 L655.4 285.6 L657.4 285.7 L659.4 285.8 L661.4 285.8 L663.4 285.8 L665.4 285.8 L667.4 285.6 L669.4 285.2 L671.4 284.7 L673.4 284 L675.4 283.3 L677.4 282.5 L679.4 281.7 L681.4 280.9 L683.4 280.2 L685.4 279.5 L687.4 279.1 L689.4 278.7 L691.4 278.5 L693.4 278.4 L695.4 278.2 L697.4 278.1 L699.4 278 L701.4 277.9 L703.4 277.9 L705.4 277.9 L707.4 277.9 L709.4 277.9" stroke="#b8185e" stroke-width="1.05"/>
<path d="M115.4 283.6 L117.4 283.1 L119.4 282.7 L121.4 282.3 L123.4 281.9 L125.4 281.6 L127.4 281.3 L129.4 281.1 L131.4 280.9 L133.4 280.7 L135.4 280.6 L137.4 280.5 L139.4 280.4 L141.4 280.4 L143.4 280.4 L145.4 280.6 L147.4 280.8 L149.4 281.1 L151.4 281.4 L153.4 281.8 L155.4 282.1 L157.4 282.5 L159.4 282.8 L161.4 283 L163.4 283.2 L165.4 283.4 L167.4 283.6 L169.4 283.8 L171.4 284.1 L173.4 284.3 L175.4 284.5 L177.4 284.8 L179.4 285 L181.4 285.2 L183.4 285.4 L185.4 285.6 L187.4 285.8 L189.4 286 L191.4 286.2 L193.4 286.5 L195.4 286.6 L197.4 286.8 L199.4 287 L201.4 287.1 L203.4 287.1 L205.4 287.1 L207.4 286.9 L209.4 286.7 L211.4 286.4 L213.4 286 L215.4 285.6 L217.4 285.2 L219.4 284.8 L221.4 284.4 L223.4 284 L225.4 283.7 L227.4 283.5 L229.4 283.3 L231.4 283.2 L233.4 283.1 L235.4 283.1 L237.4 283.1 L239.4 283.1 L241.4 283.2 L243.4 283.2 L245.4 283.3 L247.4 283.3 L249.4 283.3 L251.4 283.3 L253.4 283.3 L255.4 283.2 L257.4 283.1 L259.4 283 L261.4 282.8 L263.4 282.7 L265.4 282.5 L267.4 282.3 L269.4 282.2 L271.4 282 L273.4 281.8 L275.4 281.7 L277.4 281.5 L279.4 281.2 L281.4 280.9 L283.4 280.5 L285.4 280.2 L287.4 279.9 L289.4 279.7 L291.4 279.7 L293.4 280 L295.4 280.8 L297.4 281.8 L299.4 283.1 L301.4 284.4 L303.4 285.7 L305.4 286.8 L307.4 287.6 L309.4 288 L311.4 288 L313.4 287.9 L315.4 287.6 L317.4 287.4 L319.4 287 L321.4 286.7 L323.4 286.4 L325.4 286.1 L327.4 285.8 L329.4 285.6 L331.4 285.5 L333.4 285.4 L335.4 285.5 L337.4 285.5 L339.4 285.7 L341.4 285.8 L343.4 285.9 L345.4 286.1 L347.4 286.1 L349.4 286.2 L351.4 286.1 L353.4 286.1 L355.4 285.9 L357.4 285.8 L359.4 285.7 L361.4 285.5 L363.4 285.3 L365.4 285.1 L367.4 285 L369.4 284.8 L371.4 284.6 L373.4 284.4 L375.4 284.2 L377.4 284 L379.4 283.6 L381.4 283.3 L383.4 282.9 L385.4 282.4 L387.4 282 L389.4 281.5 L391.4 281.1 L393.4 280.6 L395.4 280.3 L397.4 279.9 L399.4 279.5 L401.4 279 L403.4 278.5 L405.4 278 L407.4 277.5 L409.4 277 L411.4 276.6 L413.4 276.2 L415.4 275.9 L417.4 275.6 L419.4 275.4 L421.4 275.5 L423.4 275.7 L425.4 276 L427.4 276.4 L429.4 277.4 L431.4 278.8 L433.4 280.7 L435.4 282.9 L437.4 285 L439.4 287 L441.4 288.6 L443.4 289.8 L445.4 290.2 L447.4 290.1 L449.4 289.7 L451.4 289.2 L453.4 288.6 L455.4 287.9 L457.4 287.1 L459.4 286.4 L461.4 285.7 L463.4 285.1 L465.4 284.7 L467.4 284.4 L469.4 284.3 L471.4 284.5 L473.4 285 L475.4 285.8 L477.4 286.7 L479.4 287.6 L481.4 288.4 L483.4 289 L485.4 289.3 L487.4 289.1 L489.4 288.3 L491.4 287 L493.4 285.5 L495.4 283.9 L497.4 282.3 L499.4 281 L501.4 280 L503.4 279.5 L505.4 279.5 L507.4 279.8 L509.4 280.3 L511.4 280.9 L513.4 281.5 L515.4 282.2 L517.4 282.9 L519.4 283.4 L521.4 284.1 L523.4 284.8 L525.4 285.6 L527.4 286.4 L529.4 287.1 L531.4 287.7 L533.4 288 L535.4 288 L537.4 287.9 L539.4 287.8 L541.4 287.5 L543.4 287.3 L545.4 287 L547.4 286.7 L549.4 286.4 L551.4 286.1 L553.4 285.9 L555.4 285.7 L557.4 285.5 L559.4 285.3 L561.4 285.1 L563.4 284.9 L565.4 284.7 L567.4 284.5 L569.4 284.3 L571.4 284.1 L573.4 284 L575.4 283.9 L577.4 283.8 L579.4 283.9 L581.4 284 L583.4 284.1 L585.4 284.3 L587.4 284.5 L589.4 284.6 L591.4 284.8 L593.4 284.9 L595.4 285 L597.4 285.1 L599.4 285.2 L601.4 285.3 L603.4 285.3 L605.4 285.1 L607.4 284.7 L609.4 284 L611.4 283.2 L613.4 282.3 L615.4 281.4 L617.4 280.5 L619.4 279.6 L621.4 278.9 L623.4 278.3 L625.4 277.9 L627.4 277.8 L629.4 278.1 L631.4 278.7 L633.4 279.6 L635.4 280.7 L637.4 281.9 L639.4 283 L641.4 284 L643.4 284.8 L645.4 285.3 L647.4 285.5 L649.4 285.6 L651.4 285.7 L653.4 285.8 L655.4 285.9 L657.4 286 L659.4 286 L661.4 286 L663.4 286 L665.4 286 L667.4 285.9 L669.4 285.6 L671.4 285.1 L673.4 284.5 L675.4 283.9 L677.4 283.2 L679.4 282.5 L681.4 281.8 L683.4 281.2 L685.4 280.6 L687.4 280.2 L689.4 279.9 L691.4 279.8 L693.4 279.6 L695.4 279.5 L697.4 279.4 L699.4 279.3 L701.4 279.2 L703.4 279.1 L705.4 279.1 L707.4 279.1 L709.4 279.1" stroke="#6c12ad" stroke-width="1.05"/>
<path d="M115.4 288.2 L117.4 287.6 L119.4 287.1 L121.4 286.7 L123.4 286.4 L125.4 286.1 L127.4 285.8 L129.4 285.6 L131.4 285.4 L133.4 285.3 L135.4 285.2 L137.4 285.1 L139.4 285.1 L141.4 285 L143.4 285.1 L145.4 285.3 L147.4 285.6 L149.4 285.9 L151.4 286.3 L153.4 286.7 L155.4 287 L157.4 287.3 L159.4 287.5 L161.4 287.6 L163.4 287.7 L165.4 287.8 L167.4 287.9 L169.4 288 L171.4 288 L173.4 288.1 L175.4 288.2 L177.4 288.4 L179.4 288.5 L181.4 288.7 L183.4 288.8 L185.4 289.1 L187.4 289.3 L189.4 289.6 L191.4 289.9 L193.4 290.2 L195.4 290.5 L197.4 290.8 L199.4 291 L201.4 291.2 L203.4 291.4 L205.4 291.4 L207.4 291.3 L209.4 291.2 L211.4 290.9 L213.4 290.6 L215.4 290.3 L217.4 289.9 L219.4 289.5 L221.4 289.1 L223.4 288.7 L225.4 288.4 L227.4 288.2 L229.4 288 L231.4 287.9 L233.4 287.8 L235.4 287.7 L237.4 287.6 L239.4 287.6 L241.4 287.6 L243.4 287.5 L245.4 287.5 L247.4 287.4 L249.4 287.4 L251.4 287.3 L253.4 287.2 L255.4 287.1 L257.4 286.9 L259.4 286.8 L261.4 286.6 L263.4 286.5 L265.4 286.3 L267.4 286.1 L269.4 286 L271.4 285.9 L273.4 285.7 L275.4 285.7 L277.4 285.6 L279.4 285.3 L281.4 285.1 L283.4 284.7 L285.4 284.5 L287.4 284.2 L289.4 284.1 L291.4 284.2 L293.4 284.5 L295.4 285.3 L297.4 286.5 L299.4 287.8 L301.4 289.2 L303.4 290.5 L305.4 291.6 L307.4 292.3 L309.4 292.7 L311.4 292.5 L313.4 292.3 L315.4 291.9 L317.4 291.5 L319.4 291 L321.4 290.5 L323.4 290 L325.4 289.5 L327.4 289.1 L329.4 288.7 L331.4 288.5 L333.4 288.3 L335.4 288.3 L337.4 288.4 L339.4 288.6 L341.4 288.8 L343.4 289.1 L345.4 289.3 L347.4 289.5 L349.4 289.6 L351.4 289.7 L353.4 289.8 L355.4 289.8 L357.4 289.8 L359.4 289.9 L361.4 289.9 L363.4 289.9 L365.4 289.9 L367.4 289.9 L369.4 289.9 L371.4 289.9 L373.4 289.9 L375.4 289.8 L377.4 289.7 L379.4 289.5 L381.4 289.2 L383.4 288.8 L385.4 288.4 L387.4 287.9 L389.4 287.5 L391.4 287 L393.4 286.5 L395.4 286 L397.4 285.5 L399.4 284.9 L401.4 284.3 L403.4 283.7 L405.4 283 L407.4 282.3 L409.4 281.6 L411.4 281 L413.4 280.3 L415.4 279.8 L417.4 279.2 L419.4 278.8 L421.4 278.6 L423.4 278.4 L425.4 278.5 L427.4 278.6 L429.4 279.2 L431.4 280.4 L433.4 282.1 L435.4 284.1 L437.4 286.1 L439.4 288 L441.4 289.6 L443.4 290.8 L445.4 291.4 L447.4 291.4 L449.4 291.4 L451.4 291.4 L453.4 291.2 L455.4 291.1 L457.4 291 L459.4 290.8 L461.4 290.7 L463.4 290.7 L465.4 290.7 L467.4 290.8 L469.4 291 L471.4 291.4 L473.4 292 L475.4 292.7 L477.4 293.6 L479.4 294.3 L481.4 295 L483.4 295.5 L485.4 295.8 L487.4 295.5 L489.4 294.5 L491.4 293 L493.4 291.3 L495.4 289.3 L497.4 287.4 L499.4 285.7 L501.4 284.5 L503.4 283.7 L505.4 283.6 L507.4 283.8 L509.4 284.2 L511.4 284.8 L513.4 285.4 L515.4 286 L517.4 286.6 L519.4 287 L521.4 287.3 L523.4 287.7 L525.4 288.1 L527.4 288.5 L529.4 288.9 L531.4 289.2 L533.4 289.3 L535.4 289.3 L537.4 289.3 L539.4 289.2 L541.4 289.1 L543.4 289 L545.4 288.9 L547.4 288.9 L549.4 288.8 L551.4 288.7 L553.4 288.7 L555.4 288.6 L557.4 288.5 L559.4 288.4 L561.4 288.3 L563.4 288.1 L565.4 287.9 L567.4 287.8 L569.4 287.6 L571.4 287.5 L573.4 287.5 L575.4 287.5 L577.4 287.6 L579.4 287.8 L581.4 288.3 L583.4 288.8 L585.4 289.4 L587.4 290 L589.4 290.6 L591.4 291 L593.4 291.4 L595.4 291.8 L597.4 292.2 L599.4 292.5 L601.4 292.8 L603.4 292.9 L605.4 292.8 L607.4 292.4 L609.4 291.6 L611.4 290.7 L613.4 289.6 L615.4 288.5 L617.4 287.3 L619.4 286.2 L621.4 285.2 L623.4 284.3 L625.4 283.7 L627.4 283.4 L629.4 283.5 L631.4 283.9 L633.4 284.5 L635.4 285.2 L637.4 286 L639.4 286.8 L641.4 287.5 L643.4 288 L645.4 288.2 L647.4 288.2 L649.4 288.1 L651.4 288.1 L653.4 288 L655.4 287.9 L657.4 287.9 L659.4 287.8 L661.4 287.8 L663.4 287.8 L665.4 287.7 L667.4 287.6 L669.4 287.4 L671.4 287 L673.4 286.7 L675.4 286.3 L677.4 285.8 L679.4 285.4 L681.4 285.1 L683.4 284.8 L685.4 284.6 L687.4 284.6 L689.4 284.6 L691.4 284.8 L693.4 285 L695.4 285.2 L697.4 285.4 L699.4 285.6 L701.4 285.7 L703.4 285.9 L705.4 286 L707.4 286.2 L709.4 286.1" stroke="#b8185e" stroke-width="1.05"/>
</g>
<rect x="90.5" y="252" width="645.3" height="134" fill="none" stroke="#000" stroke-width="1.6"/>
<line x1="82.5" y1="281.9" x2="90.5" y2="281.9" stroke="#000" stroke-width="1.2"/>
<text x="73.2" y="281.9" font-size="12.4" font-weight="normal" fill="#000" text-anchor="middle" textLength="12" lengthAdjust="spacingAndGlyphs" transform="rotate(-90 73.2 281.9)" stroke="#000" stroke-width="0.3">0.8</text>
<line x1="82.5" y1="319.1" x2="90.5" y2="319.1" stroke="#000" stroke-width="1.2"/>
<text x="73.2" y="319.1" font-size="12.4" font-weight="normal" fill="#000" text-anchor="middle" textLength="12" lengthAdjust="spacingAndGlyphs" transform="rotate(-90 73.2 319.1)" stroke="#000" stroke-width="0.3">0.5</text>
<line x1="82.5" y1="356.3" x2="90.5" y2="356.3" stroke="#000" stroke-width="1.2"/>
<text x="73.2" y="356.3" font-size="12.4" font-weight="normal" fill="#000" text-anchor="middle" textLength="12" lengthAdjust="spacingAndGlyphs" transform="rotate(-90 73.2 356.3)" stroke="#000" stroke-width="0.3">0.2</text>
<text x="42.4" y="314.6" font-size="11.6" font-weight="normal" fill="#000" text-anchor="middle" textLength="60.4" lengthAdjust="spacingAndGlyphs" transform="rotate(-90 42.4 314.6)" stroke="#000" stroke-width="0.45">Methylation</text>
<text x="189.6" y="249.9" font-size="11.6" font-weight="normal" fill="#000" text-anchor="start" textLength="406.9" lengthAdjust="spacingAndGlyphs" stroke="#000" stroke-width="0.45">chr10: 10,333,729&#8211; 10,546,387 (width = 212,659, extended = 200,000)</text>
<text x="36.3" y="403" font-size="11.6" font-weight="normal" fill="#000" text-anchor="start" textLength="41.2" lengthAdjust="spacingAndGlyphs" stroke="#000" stroke-width="0.45">Cancer</text>
<rect x="90" y="396.2" width="645.8" height="6" fill="#9b9b9b"/>
<text x="46.3" y="423.8" font-size="11.6" font-weight="normal" fill="#000" text-anchor="start" textLength="29.2" lengthAdjust="spacingAndGlyphs" stroke="#000" stroke-width="0.45">LADs</text>
<rect x="90" y="417" width="645.8" height="6" fill="#9b9b9b"/>
<text x="37" y="444.2" font-size="11.6" font-weight="normal" fill="#000" text-anchor="start" textLength="37.3" lengthAdjust="spacingAndGlyphs" stroke="#000" stroke-width="0.45">LOCKs</text>
<rect x="90" y="437.4" width="51.8" height="6" fill="#9b9b9b"/>
<rect x="165" y="437.4" width="570.8" height="6" fill="#9b9b9b"/>
<rect x="110.8" y="485" width="7.1" height="123.8" fill="#fdebe8"/>
<rect x="120.7" y="485" width="53.1" height="123.8" fill="#fdebe8"/>
<rect x="175" y="485" width="26" height="123.8" fill="#fdebe8"/>
<rect x="218" y="485" width="19.7" height="123.8" fill="#fdebe8"/>
<rect x="238.9" y="485" width="12.2" height="123.8" fill="#fdebe8"/>
<rect x="282.2" y="485" width="255.8" height="123.8" fill="#fdebe8"/>
<rect x="557.2" y="485" width="40.5" height="123.8" fill="#fdebe8"/>
<rect x="605.4" y="485" width="48.2" height="123.8" fill="#fdebe8"/>
<rect x="660" y="485" width="44.2" height="123.8" fill="#fdebe8"/>
<rect x="582.8" y="485" width="0.8" height="123.8" fill="#fff" fill-opacity="0.6"/>
<rect x="618.2" y="485" width="0.8" height="123.8" fill="#fff" fill-opacity="0.6"/>
<rect x="674.1" y="485" width="0.8" height="123.8" fill="#fff" fill-opacity="0.6"/>
<rect x="111" y="609.9" width="102" height="4.1" fill="#000"/>
<rect x="218" y="609.9" width="491" height="4.1" fill="#000"/>
<rect x="118.3" y="610.2" width="0.9" height="3.2" fill="#fff"/>
<rect x="174.1" y="610.2" width="0.9" height="3.2" fill="#fff"/>
<rect x="238.1" y="610.2" width="0.9" height="3.2" fill="#fff"/>
<rect x="251.6" y="610.2" width="0.9" height="3.2" fill="#fff"/>
<rect x="253.2" y="610.2" width="0.9" height="3.2" fill="#fff"/>
<rect x="264.6" y="610.2" width="0.9" height="3.2" fill="#fff"/>
<rect x="546.5" y="610.2" width="0.9" height="3.2" fill="#fff"/>
<rect x="655" y="610.2" width="0.9" height="3.2" fill="#fff"/>
<rect x="657" y="610.2" width="0.9" height="3.2" fill="#fff"/>
<g fill="none" stroke-linejoin="round" stroke-linecap="round">
<path d="M112.4 529 L114.4 528.9 L116.4 528.5 L118.4 528 L120.4 527.4 L122.4 526.7 L124.4 525.5 L126.4 523.4 L128.4 521 L130.4 518.6 L132.4 516.5 L134.4 515.3 L136.4 515.2 L138.4 516.2 L140.4 517.9 L142.4 519.7 L144.4 522.3 L146.4 525.9 L148.4 529.7 L150.4 533 L152.4 534.9 L154.4 535.1 L156.4 535.1 L158.4 535 L160.4 534.9 L162.4 534.8 L164.4 534.7 L166.4 534.6 L168.4 534.4 L170.4 534.2 L172.4 533.8 L174.4 533.3 L176.4 532.8 L178.4 532.1 L180.4 531.5 L182.4 530.9 L184.4 530.4 L186.4 530 L188.4 529.5 L190.4 529.1 L192.4 528.5 L194.4 527.7 L196.4 526.1 L198.4 523.9 L200.4 521.6 L202.4 519.5 L204.4 517.7 L206.4 516.8 L208.4 516.8 L210.4 517.3 L212.4 518.1 L214.4 519.3 L216.4 520.7 L218.4 522.2 L220.4 523.9 L222.4 525.5 L224.4 527.1 L226.4 528.6 L228.4 530 L230.4 531.5 L232.4 533.1 L234.4 534.7 L236.4 536.2 L238.4 537.6 L240.4 538.8 L242.4 539.8 L244.4 540.6 L246.4 541.4 L248.4 541.9 L250.4 542.1 L252.4 542 L254.4 541.6 L256.4 541.2 L258.4 540.6 L260.4 539.9 L262.4 539.2 L264.4 538.6 L266.4 537.9 L268.4 537 L270.4 536 L272.4 534.8 L274.4 533.5 L276.4 532.3 L278.4 531 L280.4 529.9 L282.4 528.9 L284.4 528.1 L286.4 527.6 L288.4 527.4 L290.4 527.7 L292.4 528.7 L294.4 530.1 L296.4 531.7 L298.4 533.3 L300.4 534.7 L302.4 535.6 L304.4 535.9 L306.4 535.7 L308.4 535.1 L310.4 534.5 L312.4 533.7 L314.4 533 L316.4 532.5 L318.4 532.1 L320.4 532.1 L322.4 532.1 L324.4 532.1 L326.4 532.1 L328.4 532.1 L330.4 532.1 L332.4 532.1 L334.4 532.1 L336.4 532 L338.4 531.8 L340.4 531.3 L342.4 530.7 L344.4 530 L346.4 529.2 L348.4 528.1 L350.4 526.2 L352.4 523.8 L354.4 521.6 L356.4 520.1 L358.4 519.8 L360.4 520.7 L362.4 522.5 L364.4 524.9 L366.4 527.4 L368.4 529.8 L370.4 531.7 L372.4 532.7 L374.4 532.6 L376.4 531.8 L378.4 530.5 L380.4 529 L382.4 527.7 L384.4 526.8 L386.4 526.8 L388.4 527.8 L390.4 529.6 L392.4 531.9 L394.4 534.3 L396.4 536.5 L398.4 538.1 L400.4 539 L402.4 538.8 L404.4 538 L406.4 536.8 L408.4 535.3 L410.4 533.8 L412.4 532.5 L414.4 531.6 L416.4 531.3 L418.4 531.5 L420.4 531.8 L422.4 532.4 L424.4 533 L426.4 533.6 L428.4 534 L430.4 534.3 L432.4 534.4 L434.4 534.2 L436.4 533.7 L438.4 533.2 L440.4 532.6 L442.4 532 L444.4 531.6 L446.4 531.3 L448.4 531.3 L450.4 531.6 L452.4 531.9 L454.4 532.4 L456.4 533 L458.4 533.6 L460.4 534.1 L462.4 534.6 L464.4 534.9 L466.4 535.1 L468.4 535 L470.4 534.6 L472.4 534 L474.4 533.2 L476.4 532.3 L478.4 531.5 L480.4 530.7 L482.4 530.1 L484.4 529.8 L486.4 529.7 L488.4 529.8 L490.4 529.9 L492.4 530 L494.4 530.2 L496.4 530.5 L498.4 530.8 L500.4 531.1 L502.4 531.5 L504.4 531.9 L506.4 532.4 L508.4 533.6 L510.4 535.5 L512.4 537.7 L514.4 540.2 L516.4 542.7 L518.4 544.9 L520.4 546.7 L522.4 547.9 L524.4 548.1 L526.4 546.1 L528.4 542 L530.4 536.7 L532.4 531.1 L534.4 526.1 L536.4 522.8 L538.4 522 L540.4 522.3 L542.4 522.8 L544.4 523.5 L546.4 524.3 L548.4 525 L550.4 525.5 L552.4 525.9 L554.4 525.9 L556.4 525.9 L558.4 525.9 L560.4 525.9 L562.4 525.9 L564.4 525.9 L566.4 525.9 L568.4 526 L570.4 526.3 L572.4 526.9 L574.4 527.7 L576.4 528.6 L578.4 529.6 L580.4 530.6 L582.4 531.5 L584.4 532.3 L586.4 532.9 L588.4 533.3 L590.4 533.7 L592.4 534 L594.4 534.4 L596.4 534.7 L598.4 535 L600.4 535.3 L602.4 535.6 L604.4 535.8 L606.4 535.9 L608.4 536 L610.4 536.1 L612.4 536.1 L614.4 535.9 L616.4 535.7 L618.4 535.3 L620.4 534.9 L622.4 534.4 L624.4 533.9 L626.4 533.3 L628.4 532.7 L630.4 532 L632.4 531.4 L634.4 530.7 L636.4 530 L638.4 529.1 L640.4 528 L642.4 526.8 L644.4 525.6 L646.4 524.4 L648.4 523.3 L650.4 522.5 L652.4 521.9 L654.4 521.7 L656.4 522 L658.4 522.9 L660.4 524.3 L662.4 526 L664.4 528 L666.4 530 L668.4 532.1 L670.4 534.1 L672.4 535.8 L674.4 537.2 L676.4 538.1 L678.4 538.5 L680.4 538.4 L682.4 538.1 L684.4 537.6 L686.4 536.9 L688.4 536 L690.4 534.9 L692.4 533.6 L694.4 532.1 L696.4 530.3 L698.4 528.3 L700.4 526.2 L702.4 523.8 L704.4 521.1 L706.4 518.3" stroke="#1aa63c" stroke-width="1.3"/>
<path d="M112.4 515.9 L114.4 516.6 L116.4 517.1 L118.4 517.3 L120.4 517.4 L122.4 517.4 L124.4 516.9 L126.4 515.7 L128.4 514 L130.4 512.3 L132.4 510.8 L134.4 509.9 L136.4 509.8 L138.4 510.7 L140.4 512.1 L142.4 514 L144.4 515.9 L146.4 517.5 L148.4 518.7 L150.4 519 L152.4 519 L154.4 519 L156.4 519 L158.4 519 L160.4 519 L162.4 519 L164.4 519 L166.4 519 L168.4 519 L170.4 519.1 L172.4 519.2 L174.4 519.5 L176.4 519.8 L178.4 520 L180.4 520.3 L182.4 520.5 L184.4 520.5 L186.4 520.4 L188.4 520.2 L190.4 519.9 L192.4 519.5 L194.4 519 L196.4 518.5 L198.4 518 L200.4 517.4 L202.4 516.2 L204.4 514.7 L206.4 513.7 L208.4 513.6 L210.4 513.6 L212.4 513.7 L214.4 513.8 L216.4 513.9 L218.4 514.1 L220.4 514.3 L222.4 514.5 L224.4 514.8 L226.4 515 L228.4 515.4 L230.4 516.3 L232.4 517.5 L234.4 519 L236.4 520.6 L238.4 522.2 L240.4 523.7 L242.4 525 L244.4 526.2 L246.4 527.6 L248.4 528.9 L250.4 530.2 L252.4 531.4 L254.4 532.3 L256.4 532.8 L258.4 533 L260.4 533 L262.4 533 L264.4 533 L266.4 533 L268.4 533 L270.4 533 L272.4 533 L274.4 532.7 L276.4 531.3 L278.4 528.9 L280.4 526 L282.4 522.9 L284.4 520.2 L286.4 518.3 L288.4 517.4 L290.4 517.5 L292.4 518 L294.4 518.6 L296.4 519.4 L298.4 520.1 L300.4 520.8 L302.4 521.2 L304.4 521.3 L306.4 520.9 L308.4 520.2 L310.4 519.3 L312.4 518.2 L314.4 517.2 L316.4 516.4 L318.4 516 L320.4 515.9 L322.4 516.1 L324.4 516.5 L326.4 517 L328.4 517.6 L330.4 518.3 L332.4 518.9 L334.4 519.6 L336.4 520.2 L338.4 521 L340.4 521.8 L342.4 522.6 L344.4 523.3 L346.4 523.6 L348.4 523.2 L350.4 521.6 L352.4 519.4 L354.4 517.1 L356.4 515.5 L358.4 515.1 L360.4 515.9 L362.4 517.2 L364.4 519 L366.4 520.9 L368.4 522.7 L370.4 524.1 L372.4 524.9 L374.4 525 L376.4 524.8 L378.4 524.5 L380.4 524.1 L382.4 523.8 L384.4 523.6 L386.4 523.6 L388.4 523.7 L390.4 523.9 L392.4 524.1 L394.4 524.3 L396.4 524.4 L398.4 524.4 L400.4 523.7 L402.4 522.5 L404.4 520.8 L406.4 518.9 L408.4 517 L410.4 515.4 L412.4 514.2 L414.4 513.6 L416.4 514 L418.4 515.6 L420.4 518 L422.4 520.8 L424.4 523.5 L426.4 526 L428.4 527.6 L430.4 528.2 L432.4 527.8 L434.4 526.8 L436.4 525.5 L438.4 524 L440.4 522.5 L442.4 521.4 L444.4 520.6 L446.4 520.7 L448.4 522.2 L450.4 524.9 L452.4 528.1 L454.4 531 L456.4 533.1 L458.4 533.6 L460.4 532.8 L462.4 531.5 L464.4 529.9 L466.4 528.5 L468.4 527.5 L470.4 526.4 L472.4 525.3 L474.4 524.2 L476.4 523.1 L478.4 522.2 L480.4 521.4 L482.4 520.9 L484.4 520.5 L486.4 520.7 L488.4 522 L490.4 524.3 L492.4 526.9 L494.4 529.3 L496.4 530.9 L498.4 531.2 L500.4 529.3 L502.4 525.9 L504.4 522.1 L506.4 518.9 L508.4 517.4 L510.4 518.2 L512.4 520.6 L514.4 524 L516.4 528 L518.4 531.9 L520.4 535.3 L522.4 537.6 L524.4 538.2 L526.4 536.9 L528.4 534.4 L530.4 531 L532.4 527.3 L534.4 523.8 L536.4 520.9 L538.4 519.2 L540.4 519.1 L542.4 520 L544.4 521.5 L546.4 523.2 L548.4 525 L550.4 526.5 L552.4 527.3 L554.4 527.3 L556.4 526.3 L558.4 524.8 L560.4 523.1 L562.4 521.3 L564.4 519.9 L566.4 519.1 L568.4 519.1 L570.4 519.5 L572.4 520.3 L574.4 521.3 L576.4 522.4 L578.4 523.5 L580.4 524.6 L582.4 525.5 L584.4 526.1 L586.4 526.5 L588.4 526.5 L590.4 526.3 L592.4 526 L594.4 525.6 L596.4 525.1 L598.4 524.7 L600.4 524.2 L602.4 523.7 L604.4 523.3 L606.4 522.9 L608.4 522.6 L610.4 522.5 L612.4 522.5 L614.4 522.6 L616.4 522.7 L618.4 522.8 L620.4 523 L622.4 523.2 L624.4 523.3 L626.4 523.5 L628.4 523.7 L630.4 523.9 L632.4 524 L634.4 524.1 L636.4 524.1 L638.4 524 L640.4 523.6 L642.4 523.1 L644.4 522.4 L646.4 521.8 L648.4 521.1 L650.4 520.5 L652.4 520.1 L654.4 520 L656.4 520.1 L658.4 520.5 L660.4 521.1 L662.4 521.9 L664.4 522.7 L666.4 523.5 L668.4 524.2 L670.4 524.9 L672.4 525.4 L674.4 525.7 L676.4 525.7 L678.4 525.6 L680.4 525.5 L682.4 525.3 L684.4 525 L686.4 524.6 L688.4 524.2 L690.4 523.7 L692.4 523.1 L694.4 522.5 L696.4 521.7 L698.4 520.9 L700.4 519.9 L702.4 518.9 L704.4 517.8 L706.4 516.6" stroke="#1aa63c" stroke-width="1.3"/>
<path d="M112.4 512 L114.4 510.1 L116.4 508.5 L118.4 507.2 L120.4 506.1 L122.4 505.3 L124.4 504.7 L126.4 504.2 L128.4 503.9 L130.4 503.7 L132.4 503.6 L134.4 503.6 L136.4 503.7 L138.4 504.7 L140.4 506.4 L142.4 508.5 L144.4 510.7 L146.4 512.6 L148.4 513.9 L150.4 514.3 L152.4 514.1 L154.4 513.8 L156.4 513.3 L158.4 512.7 L160.4 512.1 L162.4 511.5 L164.4 511 L166.4 510.6 L168.4 510.5 L170.4 510.7 L172.4 511.2 L174.4 512 L176.4 512.8 L178.4 513.7 L180.4 514.5 L182.4 515 L184.4 515.1 L186.4 514.9 L188.4 514.5 L190.4 514 L192.4 513.3 L194.4 512.5 L196.4 511.7 L198.4 511 L200.4 510.3 L202.4 509.7 L204.4 509.2 L206.4 509 L208.4 509 L210.4 509.2 L212.4 509.5 L214.4 509.8 L216.4 510.3 L218.4 510.8 L220.4 511.4 L222.4 512.1 L224.4 512.7 L226.4 513.4 L228.4 514.1 L230.4 515 L232.4 516.1 L234.4 517.2 L236.4 518.5 L238.4 519.7 L240.4 520.9 L242.4 522 L244.4 523.2 L246.4 524.4 L248.4 525.8 L250.4 527.1 L252.4 528.4 L254.4 529.5 L256.4 530.3 L258.4 530.9 L260.4 531 L262.4 531 L264.4 530.9 L266.4 530.7 L268.4 530.6 L270.4 530.4 L272.4 530.1 L274.4 529.5 L276.4 527.7 L278.4 524.9 L280.4 521.6 L282.4 518.2 L284.4 515.2 L286.4 513 L288.4 512 L290.4 512.2 L292.4 512.9 L294.4 514 L296.4 515.2 L298.4 516.3 L300.4 517.3 L302.4 518 L304.4 518.2 L306.4 518 L308.4 517.6 L310.4 517 L312.4 516.4 L314.4 515.9 L316.4 515.4 L318.4 515.1 L320.4 515.1 L322.4 515.2 L324.4 515.4 L326.4 515.6 L328.4 515.9 L330.4 516.2 L332.4 516.5 L334.4 516.9 L336.4 517.2 L338.4 517.5 L340.4 517.8 L342.4 518 L344.4 518.1 L346.4 518.2 L348.4 517.8 L350.4 516.4 L352.4 514.4 L354.4 512.3 L356.4 510.9 L358.4 510.6 L360.4 511.4 L362.4 513.1 L364.4 515.3 L366.4 517.7 L368.4 520 L370.4 521.7 L372.4 522.7 L374.4 522.8 L376.4 522.7 L378.4 522.4 L380.4 522.1 L382.4 521.7 L384.4 521.3 L386.4 520.8 L388.4 520.2 L390.4 519.6 L392.4 519 L394.4 518.4 L396.4 517.8 L398.4 517.2 L400.4 516.7 L402.4 516.1 L404.4 515.6 L406.4 515.2 L408.4 514.8 L410.4 514.6 L412.4 514.4 L414.4 514.3 L416.4 514.4 L418.4 514.7 L420.4 515.2 L422.4 515.8 L424.4 516.4 L426.4 516.9 L428.4 517.3 L430.4 517.4 L432.4 517.3 L434.4 517.1 L436.4 516.9 L438.4 516.6 L440.4 516.3 L442.4 516.1 L444.4 515.9 L446.4 515.9 L448.4 516.4 L450.4 517.2 L452.4 518.3 L454.4 519.6 L456.4 521 L458.4 522.4 L460.4 523.7 L462.4 524.8 L464.4 525.6 L466.4 526 L468.4 525.9 L470.4 525.5 L472.4 524.7 L474.4 523.8 L476.4 522.8 L478.4 521.7 L480.4 520.7 L482.4 519.9 L484.4 519.2 L486.4 518.9 L488.4 518.5 L490.4 518.2 L492.4 518 L494.4 517.7 L496.4 517.5 L498.4 517.2 L500.4 517.1 L502.4 516.9 L504.4 516.8 L506.4 516.7 L508.4 516.7 L510.4 517.4 L512.4 519.5 L514.4 522.5 L516.4 526 L518.4 529.5 L520.4 532.5 L522.4 534.4 L524.4 535 L526.4 533.9 L528.4 531.7 L530.4 528.7 L532.4 525.5 L534.4 522.4 L536.4 519.9 L538.4 518.4 L540.4 518.3 L542.4 518.8 L544.4 519.6 L546.4 520.5 L548.4 521.5 L550.4 522.3 L552.4 522.7 L554.4 522.8 L556.4 522.8 L558.4 522.7 L560.4 522.7 L562.4 522.6 L564.4 522.5 L566.4 522.4 L568.4 522.2 L570.4 522.1 L572.4 521.9 L574.4 521.7 L576.4 521.6 L578.4 521.4 L580.4 521.2 L582.4 521 L584.4 520.8 L586.4 520.6 L588.4 520.3 L590.4 520 L592.4 519.5 L594.4 519 L596.4 518.4 L598.4 517.8 L600.4 517.1 L602.4 516.5 L604.4 515.8 L606.4 515.2 L608.4 514.6 L610.4 514.1 L612.4 513.6 L614.4 513.3 L616.4 513 L618.4 512.9 L620.4 513.1 L622.4 513.9 L624.4 515.2 L626.4 516.8 L628.4 518.5 L630.4 520.3 L632.4 521.7 L634.4 522.8 L636.4 523.3 L638.4 523.2 L640.4 522.7 L642.4 521.9 L644.4 521 L646.4 520.1 L648.4 519.2 L650.4 518.4 L652.4 517.9 L654.4 517.7 L656.4 517.9 L658.4 518.3 L660.4 519 L662.4 519.8 L664.4 520.7 L666.4 521.6 L668.4 522.5 L670.4 523.2 L672.4 523.8 L674.4 524.1 L676.4 524.1 L678.4 524 L680.4 523.9 L682.4 523.8 L684.4 523.5 L686.4 523.2 L688.4 522.9 L690.4 522.4 L692.4 521.9 L694.4 521.3 L696.4 520.6 L698.4 519.9 L700.4 519 L702.4 518.1 L704.4 517 L706.4 515.9" stroke="#1aa63c" stroke-width="1.3"/>
<path d="M112 512.4 L114 512.8 L116 512.9 L118 512.9 L120 512.7 L122 512.5 L124 512 L126 511.1 L128 509.9 L130 508.7 L132 507.6 L134 506.9 L136 506.7 L138 507.1 L140 507.9 L142 509.1 L144 510.5 L146 511.9 L148 513.2 L150 514.4 L152 515.1 L154 515.4 L156 515.3 L158 514.8 L160 514.2 L162 513.5 L164 512.9 L166 512.4 L168 512.1 L170 512.2 L172 512.5 L174 512.8 L176 513.3 L178 513.7 L180 514.1 L182 514.4 L184 514.7 L186 514.9 L188 515.2 L190 515.4 L192 515.4 L194 515.2 L196 514.5 L198 513.3 L200 511.9 L202 510.5 L204 509.3 L206 508.6 L208 508.5 L210 508.7 L212 509.1 L214 509.8 L216 510.7 L218 511.6 L220 512.7 L222 513.9 L224 515.1 L226 516.3 L228 517.5 L230 518.8 L232 520.3 L234 521.9 L236 523.5 L238 525 L240 526.6 L242 528 L244 529.3 L246 530.7 L248 532.1 L250 533.5 L252 534.8 L254 535.9 L256 536.9 L258 537.6 L260 538 L262 538.2 L264 538.3 L266 538.3 L268 538.3 L270 538.2 L272 538 L274 537.5 L276 535.1 L278 531 L280 525.9 L282 520.5 L284 515.6 L286 511.8 L288 509.9 L290 510.1 L292 511 L294 512.5 L296 514.1 L298 515.9 L300 517.5 L302 518.8 L304 519.5 L306 519.8 L308 519.9 L310 520 L312 519.9 L314 519.6 L316 519.2 L318 519 L320 518.9 L322 519 L324 519.2 L326 519.5 L328 519.8 L330 520.1 L332 520.4 L334 520.5 L336 520.5 L338 520.3 L340 519.9 L342 519.3 L344 518.4 L346 517.3 L348 516.2 L350 514.5 L352 512.4 L354 510.5 L356 509 L358 508.3 L360 508.8 L362 510.3 L364 512.6 L366 515.2 L368 517.7 L370 519.8 L372 521.1 L374 521.4 L376 521.2 L378 520.9 L380 520.4 L382 519.8 L384 519.2 L386 518.7 L388 518.2 L390 517.8 L392 517.6 L394 517.3 L396 516.9 L398 516.6 L400 516.2 L402 515.8 L404 515.4 L406 515 L408 514.6 L410 514.3 L412 513.9 L414 513.7 L416 513.4 L418 513.2 L420 513.1 L422 512.9 L424 512.8 L426 512.8 L428 512.8 L430 512.9 L432 513 L434 513.2 L436 513.5 L438 513.8 L440 514.2 L442 515.1 L444 516.3 L446 517.9 L448 519.6 L450 521.3 L452 522.9 L454 524.2 L456 525.3 L458 526.3 L460 527.3 L462 528.2 L464 528.9 L466 529.6 L468 529.6 L470 528.9 L472 527.6 L474 526 L476 524.2 L478 522.3 L480 520.6 L482 519.3 L484 518.4 L486 518.2 L488 518.3 L490 518.4 L492 518.6 L494 518.7 L496 518.9 L498 518.9 L500 518.3 L502 517.3 L504 516.2 L506 515.2 L508 514.5 L510 514.6 L512 516.6 L514 519.9 L516 523.9 L518 528 L520 531.7 L522 534.3 L524 535.4 L526 534.6 L528 532.4 L530 529.4 L532 526 L534 522.7 L536 520 L538 518.4 L540 518.3 L542 518.9 L544 519.8 L546 520.9 L548 521.9 L550 522.9 L552 523.5 L554 523.7 L556 523.3 L558 522.3 L560 521.1 L562 519.7 L564 518.5 L566 517.7 L568 517.4 L570 517.5 L572 517.8 L574 518.3 L576 518.9 L578 519.6 L580 520.2 L582 520.7 L584 521.1 L586 521.3 L588 521.2 L590 521 L592 520.8 L594 520.7 L596 520.6 L598 520.7 L600 521 L602 521.3 L604 521.8 L606 522.2 L608 522.6 L610 522.9 L612 522.7 L614 522.2 L616 521.4 L618 520.6 L620 519.9 L622 519.4 L624 519.4 L626 520 L628 521.2 L630 522.6 L632 524.1 L634 525.2 L636 525.8 L638 525.7 L640 525.2 L642 524.4 L644 523.4 L646 522.3 L648 521.1 L650 520.1 L652 519.2 L654 518.6 L656 518.3 L658 518.4 L660 518.6 L662 519.1 L664 519.8 L666 520.5 L668 521.3 L670 522.2 L672 523 L674 523.7 L676 524.3 L678 524.6 L680 524.5 L682 523.3 L684 521.3 L686 519 L688 516.7 L690 514.6 L692 513.2 L694 512.7 L696 513.2 L698 513.8 L700 514.5 L702 515.3 L704 516.2 L706 517.4" stroke="#b8185e" stroke-width="1.05"/>
<path d="M112 510.6 L114 510.9 L116 511 L118 510.9 L120 510.7 L122 510.3 L124 509.7 L126 508.6 L128 507.3 L130 506 L132 504.8 L134 503.9 L136 503.5 L138 503.7 L140 504.3 L142 505.3 L144 506.6 L146 507.8 L148 509.1 L150 510.1 L152 510.8 L154 511.1 L156 511.1 L158 510.9 L160 510.6 L162 510.2 L164 510 L166 509.9 L168 510.1 L170 510.6 L172 511.3 L174 512.1 L176 513 L178 513.9 L180 514.8 L182 515.6 L184 516.4 L186 517 L188 517.5 L190 517.9 L192 518.1 L194 518.2 L196 517.6 L198 516.6 L200 515.3 L202 514 L204 512.8 L206 512.1 L208 512 L210 512.2 L212 512.6 L214 513 L216 513.3 L218 513.7 L220 514.1 L222 514.5 L224 515 L226 515.4 L228 515.9 L230 516.5 L232 517.2 L234 518.1 L236 519 L238 520 L240 521 L242 522 L244 523 L246 524.2 L248 525.5 L250 526.8 L252 528.2 L254 529.5 L256 530.7 L258 531.7 L260 532.5 L262 533 L264 533.5 L266 534 L268 534.4 L270 534.8 L272 535.2 L274 535.2 L276 533.4 L278 530 L280 525.6 L282 520.9 L284 516.6 L286 513.3 L288 511.8 L290 512.2 L292 513.2 L294 514.6 L296 516.1 L298 517.6 L300 518.9 L302 519.8 L304 520.2 L306 520.2 L308 520 L310 519.6 L312 519.2 L314 518.7 L316 518.2 L318 517.8 L320 517.6 L322 517.4 L324 517.4 L326 517.3 L328 517.3 L330 517.3 L332 517.2 L334 517 L336 516.6 L338 516.1 L340 515.4 L342 514.6 L344 513.7 L346 512.8 L348 511.8 L350 510.4 L352 508.6 L354 507 L356 505.8 L358 505.4 L360 506.2 L362 508.1 L364 510.7 L366 513.7 L368 516.5 L370 518.9 L372 520.5 L374 520.9 L376 520.8 L378 520.5 L380 520.1 L382 519.5 L384 518.9 L386 518.3 L388 517.8 L390 517.4 L392 517.2 L394 516.9 L396 516.6 L398 516.3 L400 516 L402 515.6 L404 515.3 L406 515 L408 514.7 L410 514.5 L412 514.3 L414 514.1 L416 514 L418 513.9 L420 513.8 L422 513.8 L424 513.8 L426 513.8 L428 513.8 L430 513.9 L432 513.9 L434 514 L436 514.2 L438 514.3 L440 514.5 L442 515 L444 515.9 L446 517 L448 518.2 L450 519.5 L452 520.6 L454 521.5 L456 522.1 L458 522.7 L460 523.3 L462 523.9 L464 524.4 L466 524.7 L468 524.8 L470 524.3 L472 523.3 L474 522 L476 520.4 L478 518.9 L480 517.5 L482 516.4 L484 515.8 L486 515.9 L488 516.3 L490 516.7 L492 517.2 L494 517.7 L496 518 L498 518.2 L500 518.1 L502 517.5 L504 516.8 L506 516.1 L508 515.8 L510 516.2 L512 518.3 L514 521.5 L516 525.4 L518 529.3 L520 532.7 L522 535.1 L524 535.8 L526 534.8 L528 532.3 L530 529 L532 525.3 L534 521.7 L536 518.6 L538 516.5 L540 515.8 L542 515.9 L544 516.3 L546 516.8 L548 517.4 L550 517.9 L552 518.2 L554 518.1 L556 517.5 L558 516.4 L560 515.1 L562 513.8 L564 512.7 L566 512.1 L568 512.1 L570 512.6 L572 513.4 L574 514.4 L576 515.6 L578 516.9 L580 518.2 L582 519.3 L584 520.3 L586 521 L588 521.4 L590 521.6 L592 521.7 L594 521.7 L596 521.9 L598 522.1 L600 522.5 L602 522.9 L604 523.3 L606 523.6 L608 523.9 L610 524 L612 523.6 L614 522.9 L616 521.9 L618 520.9 L620 520 L622 519.3 L624 518.9 L626 519.3 L628 520.3 L630 521.6 L632 523 L634 524 L636 524.5 L638 524.3 L640 523.6 L642 522.7 L644 521.6 L646 520.5 L648 519.3 L650 518.3 L652 517.5 L654 517 L656 516.9 L658 517.1 L660 517.5 L662 518.2 L664 518.9 L666 519.8 L668 520.7 L670 521.6 L672 522.4 L674 523 L676 523.5 L678 523.7 L680 523.4 L682 522 L684 519.9 L686 517.4 L688 514.8 L690 512.5 L692 510.8 L694 510 L696 510.1 L698 510.4 L700 510.8 L702 511.4 L704 512.3 L706 513.6" stroke="#6c12ad" stroke-width="1.05"/>
<path d="M112 505.9 L114 506.6 L116 507.1 L118 507.4 L120 507.6 L122 507.7 L124 507.6 L126 507 L128 506.2 L130 505.3 L132 504.5 L134 504.1 L136 504.1 L138 504.6 L140 505.5 L142 506.8 L144 508.1 L146 509.5 L148 510.8 L150 511.8 L152 512.5 L154 512.7 L156 512.5 L158 512.2 L160 511.7 L162 511.1 L164 510.6 L166 510.2 L168 510 L170 510.1 L172 510.3 L174 510.6 L176 511 L178 511.4 L180 511.8 L182 512.2 L184 512.5 L186 512.8 L188 513.2 L190 513.5 L192 513.7 L194 513.8 L196 513.3 L198 512.4 L200 511.3 L202 510.2 L204 509.3 L206 508.8 L208 508.8 L210 509.1 L212 509.6 L214 510.3 L216 511 L218 511.9 L220 512.9 L222 513.9 L224 514.9 L226 515.9 L228 516.9 L230 518.1 L232 519.3 L234 520.6 L236 522 L238 523.4 L240 524.7 L242 526 L244 527.2 L246 528.6 L248 530 L250 531.4 L252 532.7 L254 533.9 L256 534.9 L258 535.7 L260 536.1 L262 536.2 L264 536.2 L266 536.1 L268 535.9 L270 535.7 L272 535.3 L274 534.7 L276 532.3 L278 528.4 L280 523.5 L282 518.4 L284 513.6 L286 510 L288 508.1 L290 508 L292 508.5 L294 509.4 L296 510.5 L298 511.7 L300 512.7 L302 513.5 L304 513.8 L306 513.9 L308 513.7 L310 513.6 L312 513.4 L314 513.2 L316 513.1 L318 513 L320 513.2 L322 513.5 L324 513.8 L326 514.2 L328 514.6 L330 515 L332 515.4 L334 515.6 L336 515.7 L338 515.5 L340 515.2 L342 514.6 L344 514 L346 513.4 L348 512.6 L350 511.3 L352 509.7 L354 508.2 L356 507 L358 506.6 L360 507.3 L362 509.1 L364 511.7 L366 514.5 L368 517.2 L370 519.4 L372 520.7 L374 520.8 L376 520.4 L378 519.8 L380 518.9 L382 518 L384 517 L386 516.1 L388 515.3 L390 514.7 L392 514.3 L394 513.9 L396 513.5 L398 513.1 L400 512.7 L402 512.4 L404 512.2 L406 511.9 L408 511.8 L410 511.7 L412 511.7 L414 511.8 L416 512 L418 512.2 L420 512.4 L422 512.7 L424 513 L426 513.4 L428 513.7 L430 514.1 L432 514.5 L434 514.9 L436 515.3 L438 515.6 L440 516 L442 516.7 L444 517.6 L446 518.8 L448 519.9 L450 521.1 L452 522.1 L454 522.9 L456 523.4 L458 523.8 L460 524.2 L462 524.6 L464 524.8 L466 524.8 L468 524.6 L470 523.8 L472 522.5 L474 520.8 L476 519 L478 517.1 L480 515.4 L482 514.1 L484 513.2 L486 513 L488 513.1 L490 513.4 L492 513.8 L494 514.1 L496 514.4 L498 514.6 L500 514.3 L502 513.7 L504 512.9 L506 512.3 L508 512 L510 512.5 L512 514.6 L514 517.9 L516 521.8 L518 525.8 L520 529.3 L522 531.8 L524 532.7 L526 532 L528 529.9 L530 527 L532 523.7 L534 520.4 L536 517.6 L538 515.8 L540 515.4 L542 515.6 L544 516.2 L546 516.8 L548 517.5 L550 518.1 L552 518.5 L554 518.4 L556 517.8 L558 516.7 L560 515.3 L562 514 L564 512.8 L566 512.1 L568 512 L570 512.3 L572 513 L574 514 L576 515.1 L578 516.3 L580 517.5 L582 518.6 L584 519.5 L586 520.1 L588 520.3 L590 520.3 L592 520.1 L594 519.9 L596 519.9 L598 520 L600 520.2 L602 520.5 L604 520.8 L606 521.1 L608 521.3 L610 521.4 L612 521.1 L614 520.4 L616 519.6 L618 518.7 L620 517.9 L622 517.3 L624 517.1 L626 517.6 L628 518.8 L630 520.3 L632 521.9 L634 523.1 L636 523.7 L638 523.5 L640 522.9 L642 522 L644 520.9 L646 519.7 L648 518.6 L650 517.5 L652 516.7 L654 516.2 L656 516.1 L658 516.3 L660 516.7 L662 517.3 L664 518.1 L666 519 L668 519.9 L670 520.7 L672 521.5 L674 522.2 L676 522.6 L678 522.9 L680 522.5 L682 521.2 L684 519.2 L686 516.7 L688 514.2 L690 512 L692 510.3 L694 509.6 L696 509.7 L698 509.9 L700 510.2 L702 510.8 L704 511.7 L706 512.8" stroke="#b8185e" stroke-width="1.05"/>
<path d="M112 501.2 L114 501.7 L116 502.1 L118 502.3 L120 502.3 L122 502.2 L124 501.9 L126 501.4 L128 500.6 L130 499.7 L132 498.9 L134 498.3 L136 498.2 L138 498.6 L140 499.3 L142 500.3 L144 501.4 L146 502.6 L148 503.7 L150 504.7 L152 505.5 L154 505.9 L156 506.2 L158 506.5 L160 506.8 L162 507.1 L164 507.4 L166 507.7 L168 508.1 L170 508.4 L172 508.9 L174 509.3 L176 509.8 L178 510.3 L180 510.7 L182 511 L184 511.2 L186 511.4 L188 511.5 L190 511.5 L192 511.5 L194 511.5 L196 510.9 L198 510 L200 508.8 L202 507.6 L204 506.4 L206 505.6 L208 505.2 L210 504.9 L212 504.8 L214 504.8 L216 504.9 L218 505.1 L220 505.4 L222 505.7 L224 506 L226 506.4 L228 506.9 L230 507.8 L232 508.8 L234 510 L236 511.2 L238 512.4 L240 513.7 L242 515 L244 516.3 L246 517.8 L248 519.6 L250 521.3 L252 523.1 L254 524.6 L256 525.9 L258 526.9 L260 527.4 L262 527.7 L264 528 L266 528.1 L268 528.2 L270 528.1 L272 528 L274 527.7 L276 526 L278 523.1 L280 519.5 L282 515.7 L284 512.3 L286 509.6 L288 508.4 L290 508.5 L292 508.9 L294 509.4 L296 509.9 L298 510.3 L300 510.7 L302 510.9 L304 510.9 L306 510.6 L308 510.3 L310 509.8 L312 509.4 L314 508.9 L316 508.4 L318 508 L320 507.6 L322 507.3 L324 507.1 L326 506.9 L328 506.7 L330 506.6 L332 506.5 L334 506.3 L336 506.1 L338 505.6 L340 505 L342 504.4 L344 503.6 L346 502.9 L348 502.1 L350 501.1 L352 499.9 L354 498.9 L356 498.2 L358 498.2 L360 499.4 L362 501.9 L364 505.2 L366 508.9 L368 512.5 L370 515.5 L372 517.4 L374 518 L376 517.8 L378 517.2 L380 516.3 L382 515.2 L384 514 L386 512.8 L388 511.8 L390 511 L392 510.3 L394 509.7 L396 509 L398 508.2 L400 507.5 L402 506.8 L404 506 L406 505.3 L408 504.7 L410 504.1 L412 503.6 L414 503.2 L416 502.9 L418 502.7 L420 502.5 L422 502.5 L424 502.5 L426 502.7 L428 503 L430 503.4 L432 503.9 L434 504.4 L436 505 L438 505.5 L440 506.1 L442 506.8 L444 507.6 L446 508.6 L448 509.7 L450 511 L452 512.3 L454 513.5 L456 514.5 L458 515.7 L460 516.8 L462 517.9 L464 518.8 L466 519.4 L468 519.8 L470 519.5 L472 518.8 L474 517.8 L476 516.5 L478 515.2 L480 513.9 L482 512.9 L484 512.3 L486 512.2 L488 512.5 L490 513.1 L492 513.7 L494 514.2 L496 514.5 L498 514.5 L500 513.7 L502 512.3 L504 510.8 L506 509.3 L508 508.2 L510 508.1 L512 509.3 L514 511.2 L516 513.6 L518 516.1 L520 518.3 L522 519.8 L524 520.1 L526 519.2 L528 517.6 L530 515.4 L532 512.9 L534 510.4 L536 508.3 L538 507 L540 506.7 L542 507 L544 507.7 L546 508.5 L548 509.3 L550 510 L552 510.4 L554 510.5 L556 509.9 L558 509.1 L560 508.2 L562 507.3 L564 506.6 L566 506.3 L568 506.7 L570 507.5 L572 508.8 L574 510.4 L576 512.2 L578 514 L580 515.8 L582 517.3 L584 518.5 L586 519.2 L588 519.3 L590 518.7 L592 517.6 L594 516.3 L596 515.4 L598 514.8 L600 514.2 L602 513.8 L604 513.3 L606 512.8 L608 512.3 L610 511.6 L612 510.9 L614 510 L616 509.1 L618 508.2 L620 507.4 L622 506.8 L624 506.3 L626 506.8 L628 508.3 L630 510.3 L632 512.4 L634 514.1 L636 515 L638 514.8 L640 514.1 L642 513 L644 511.7 L646 510.4 L648 509.1 L650 507.9 L652 507.2 L654 506.8 L656 507 L658 507.5 L660 508.2 L662 509.2 L664 510.2 L666 511.4 L668 512.5 L670 513.7 L672 514.7 L674 515.6 L676 516.2 L678 516.6 L680 516.5 L682 515.5 L684 513.9 L686 511.9 L688 509.9 L690 508 L692 506.6 L694 506 L696 506 L698 506.1 L700 506.2 L702 506.5 L704 507 L706 507.8" stroke="#f5890f" stroke-width="1.05"/>
<path d="M112 506.1 L114 507.1 L116 507.9 L118 508.6 L120 509 L122 509.3 L124 509.4 L126 508.9 L128 508.2 L130 507.3 L132 506.6 L134 506 L136 505.9 L138 506.3 L140 507.1 L142 508.2 L144 509.4 L146 510.6 L148 511.7 L150 512.6 L152 513.1 L154 513.1 L156 512.9 L158 512.5 L160 512 L162 511.4 L164 511 L166 510.6 L168 510.5 L170 510.6 L172 510.8 L174 511.1 L176 511.6 L178 512 L180 512.5 L182 512.9 L184 513.2 L186 513.5 L188 513.8 L190 514.1 L192 514.3 L194 514.3 L196 513.7 L198 512.8 L200 511.5 L202 510.3 L204 509.2 L206 508.4 L208 508.2 L210 508.2 L212 508.4 L214 508.7 L216 509.1 L218 509.6 L220 510.2 L222 510.9 L224 511.6 L226 512.3 L228 513 L230 513.9 L232 515 L234 516.2 L236 517.5 L238 518.8 L240 520.2 L242 521.5 L244 522.9 L246 524.4 L248 526.1 L250 527.8 L252 529.5 L254 531.1 L256 532.5 L258 533.7 L260 534.5 L262 535 L264 535.3 L266 535.6 L268 535.8 L270 535.8 L272 535.8 L274 535.4 L276 533.3 L278 529.6 L280 525 L282 520.2 L284 515.7 L286 512.1 L288 510.2 L290 510.1 L292 510.4 L294 511 L296 511.8 L298 512.6 L300 513.3 L302 513.7 L304 513.7 L306 513.4 L308 512.9 L310 512.4 L312 511.9 L314 511.5 L316 511.1 L318 510.8 L320 510.8 L322 510.8 L324 511 L326 511.3 L328 511.7 L330 512 L332 512.3 L334 512.6 L336 512.8 L338 512.8 L340 512.5 L342 512.2 L344 511.8 L346 511.3 L348 510.7 L350 509.7 L352 508.4 L354 507.2 L356 506.2 L358 506 L360 507 L362 509 L364 511.7 L366 514.7 L368 517.6 L370 519.9 L372 521.3 L374 521.5 L376 521 L378 520.3 L380 519.4 L382 518.3 L384 517.1 L386 516.1 L388 515.1 L390 514.3 L392 513.7 L394 513.1 L396 512.6 L398 512 L400 511.5 L402 511.1 L404 510.7 L406 510.4 L408 510.1 L410 509.9 L412 509.9 L414 509.9 L416 510 L418 510.2 L420 510.4 L422 510.7 L424 511 L426 511.4 L428 511.7 L430 512.1 L432 512.5 L434 512.9 L436 513.3 L438 513.7 L440 514.2 L442 514.8 L444 515.8 L446 516.9 L448 518 L450 519.2 L452 520.2 L454 521 L456 521.5 L458 522 L460 522.5 L462 523 L464 523.3 L466 523.5 L468 523.4 L470 522.7 L472 521.6 L474 520.1 L476 518.5 L478 516.8 L480 515.4 L482 514.2 L484 513.6 L486 513.5 L488 513.9 L490 514.4 L492 515 L494 515.5 L496 516 L498 516.3 L500 516.1 L502 515.4 L504 514.6 L506 513.9 L508 513.5 L510 513.9 L512 515.8 L514 518.8 L516 522.4 L518 525.9 L520 529.1 L522 531.2 L524 531.8 L526 530.8 L528 528.5 L530 525.3 L532 521.8 L534 518.3 L536 515.3 L538 513.3 L540 512.6 L542 512.6 L544 512.9 L546 513.4 L548 514 L550 514.4 L552 514.7 L554 514.6 L556 514 L558 512.9 L560 511.6 L562 510.4 L564 509.4 L566 508.8 L568 508.9 L570 509.5 L572 510.4 L574 511.7 L576 513.1 L578 514.6 L580 516 L582 517.4 L584 518.5 L586 519.3 L588 519.7 L590 519.7 L592 519.5 L594 519.2 L596 519.1 L598 519.1 L600 519.3 L602 519.5 L604 519.7 L606 519.9 L608 519.9 L610 519.9 L612 519.5 L614 518.8 L616 517.9 L618 517.1 L620 516.3 L622 515.7 L624 515.5 L626 516.1 L628 517.4 L630 519.1 L632 520.9 L634 522.3 L636 523.2 L638 523.2 L640 522.8 L642 522 L644 521.1 L646 520.1 L648 519.2 L650 518.3 L652 517.7 L654 517.4 L656 517.5 L658 517.9 L660 518.5 L662 519.2 L664 520 L666 520.9 L668 521.8 L670 522.6 L672 523.3 L674 523.7 L676 524 L678 524 L680 523.4 L682 521.7 L684 519.4 L686 516.6 L688 513.8 L690 511.1 L692 509.1 L694 507.9 L696 507.6 L698 507.4 L700 507.4 L702 507.6 L704 508.1 L706 508.9" stroke="#6c12ad" stroke-width="1.05"/>
<path d="M112 508.2 L114 509 L116 509.6 L118 509.9 L120 510.2 L122 510.2 L124 510 L126 509.3 L128 508.3 L130 507.2 L132 506.2 L134 505.5 L136 505.3 L138 505.5 L140 506.1 L142 507.1 L144 508.1 L146 509.2 L148 510.2 L150 511 L152 511.5 L154 511.5 L156 511.3 L158 510.9 L160 510.5 L162 510 L164 509.6 L166 509.3 L168 509.2 L170 509.3 L172 509.4 L174 509.7 L176 510 L178 510.4 L180 510.8 L182 511.1 L184 511.3 L186 511.5 L188 511.7 L190 511.8 L192 511.9 L194 511.8 L196 511.2 L198 510.2 L200 509 L202 507.7 L204 506.6 L206 505.9 L208 505.6 L210 505.7 L212 505.8 L214 506.2 L216 506.7 L218 507.2 L220 507.9 L222 508.6 L224 509.4 L226 510.2 L228 511 L230 512 L232 513.2 L234 514.5 L236 515.8 L238 517.3 L240 518.7 L242 520.2 L244 521.7 L246 523.3 L248 525.1 L250 527 L252 528.8 L254 530.5 L256 531.9 L258 533.1 L260 534 L262 534.4 L264 534.7 L266 535 L268 535 L270 535 L272 534.9 L274 534.5 L276 532.4 L278 528.8 L280 524.3 L282 519.6 L284 515.2 L286 511.8 L288 510 L290 509.8 L292 510.1 L294 510.7 L296 511.4 L298 512.2 L300 512.8 L302 513.2 L304 513.2 L306 512.9 L308 512.6 L310 512.2 L312 511.8 L314 511.4 L316 511.1 L318 510.9 L320 510.9 L322 511 L324 511.3 L326 511.6 L328 512 L330 512.4 L332 512.7 L334 513 L336 513.2 L338 513.2 L340 513 L342 512.6 L344 512.2 L346 511.7 L348 511.1 L350 510.1 L352 508.7 L354 507.5 L356 506.5 L358 506.2 L360 507.1 L362 509 L364 511.7 L366 514.6 L368 517.4 L370 519.6 L372 520.8 L374 520.7 L376 520 L378 519 L380 517.7 L382 516.3 L384 514.9 L386 513.5 L388 512.2 L390 511.1 L392 510.3 L394 509.4 L396 508.6 L398 507.9 L400 507.2 L402 506.6 L404 506.1 L406 505.7 L408 505.4 L410 505.3 L412 505.3 L414 505.4 L416 505.7 L418 506.1 L420 506.6 L422 507.1 L424 507.8 L426 508.5 L428 509.3 L430 510.1 L432 511 L434 511.8 L436 512.7 L438 513.6 L440 514.4 L442 515.5 L444 516.8 L446 518.2 L448 519.6 L450 520.9 L452 522.1 L454 523.1 L456 523.7 L458 524.3 L460 524.8 L462 525.1 L464 525.3 L466 525.3 L468 524.9 L470 523.9 L472 522.4 L474 520.5 L476 518.4 L478 516.4 L480 514.4 L482 512.8 L484 511.7 L486 511.1 L488 511.1 L490 511.2 L492 511.5 L494 511.8 L496 512 L498 512.1 L500 511.7 L502 511 L504 510.1 L506 509.4 L508 509.1 L510 509.8 L512 512 L514 515.2 L516 519.1 L518 523 L520 526.5 L522 529.1 L524 530.3 L526 529.9 L528 528.3 L530 525.8 L532 523 L534 520.2 L536 517.8 L538 516.3 L540 516 L542 516.3 L544 516.9 L546 517.6 L548 518.2 L550 518.7 L552 518.8 L554 518.6 L556 517.7 L558 516.3 L560 514.6 L562 512.9 L564 511.3 L566 510.2 L568 509.7 L570 509.7 L572 510.1 L574 510.7 L576 511.6 L578 512.5 L580 513.5 L582 514.4 L584 515.1 L586 515.5 L588 515.5 L590 515.2 L592 514.6 L594 514.1 L596 513.8 L598 513.9 L600 514.1 L602 514.4 L604 514.7 L606 515.1 L608 515.4 L610 515.7 L612 515.7 L614 515.4 L616 515 L618 514.6 L620 514.2 L622 514.1 L624 514.2 L626 515.1 L628 516.8 L630 518.8 L632 520.8 L634 522.5 L636 523.4 L638 523.4 L640 522.9 L642 522 L644 520.9 L646 519.6 L648 518.3 L650 517.2 L652 516.3 L654 515.7 L656 515.5 L658 515.6 L660 515.9 L662 516.4 L664 517 L666 517.7 L668 518.5 L670 519.2 L672 519.8 L674 520.3 L676 520.7 L678 520.8 L680 520.4 L682 519 L684 517 L686 514.7 L688 512.3 L690 510.1 L692 508.5 L694 507.8 L696 507.9 L698 508.1 L700 508.5 L702 509 L704 509.8 L706 511" stroke="#b8185e" stroke-width="1.05"/>
<path d="M112 505.6 L114 506.4 L116 507.1 L118 507.5 L120 507.8 L122 508 L124 507.8 L126 507.3 L128 506.4 L130 505.5 L132 504.7 L134 504.1 L136 503.9 L138 504.2 L140 504.9 L142 505.8 L144 506.9 L146 507.9 L148 508.9 L150 509.6 L152 510 L154 509.9 L156 509.7 L158 509.3 L160 509 L162 508.6 L164 508.2 L166 507.9 L168 507.6 L170 507.4 L172 507.4 L174 507.4 L176 507.4 L178 507.4 L180 507.5 L182 507.5 L184 507.5 L186 507.4 L188 507.4 L190 507.4 L192 507.3 L194 507.2 L196 506.7 L198 505.8 L200 504.8 L202 503.7 L204 502.8 L206 502.3 L208 502.2 L210 502.4 L212 502.8 L214 503.3 L216 504 L218 504.8 L220 505.6 L222 506.5 L224 507.5 L226 508.4 L228 509.4 L230 510.5 L232 511.8 L234 513.1 L236 514.6 L238 516.1 L240 517.5 L242 519 L244 520.5 L246 522.2 L248 524 L250 525.9 L252 527.7 L254 529.3 L256 530.7 L258 531.8 L260 532.5 L262 532.7 L264 532.7 L266 532.6 L268 532.4 L270 532.1 L272 531.7 L274 531 L276 528.9 L278 525.4 L280 521.2 L282 516.8 L284 512.8 L286 509.7 L288 508 L290 507.9 L292 508.1 L294 508.5 L296 509 L298 509.5 L300 510 L302 510.3 L304 510.3 L306 510.1 L308 509.8 L310 509.5 L312 509.1 L314 508.8 L316 508.5 L318 508.3 L320 508.2 L322 508.2 L324 508.2 L326 508.4 L328 508.5 L330 508.7 L332 508.8 L334 508.9 L336 508.9 L338 508.6 L340 508.2 L342 507.6 L344 507 L346 506.3 L348 505.6 L350 504.6 L352 503.3 L354 502.2 L356 501.4 L358 501.2 L360 502.2 L362 504.5 L364 507.6 L366 510.9 L368 514.2 L370 516.9 L372 518.6 L374 518.9 L376 518.6 L378 517.9 L380 516.9 L382 515.8 L384 514.6 L386 513.4 L388 512.4 L390 511.6 L392 511 L394 510.4 L396 509.8 L398 509.1 L400 508.5 L402 507.9 L404 507.3 L406 506.8 L408 506.4 L410 506 L412 505.6 L414 505.4 L416 505.3 L418 505.2 L420 505.2 L422 505.3 L424 505.5 L426 505.7 L428 505.9 L430 506.2 L432 506.6 L434 506.9 L436 507.3 L438 507.8 L440 508.2 L442 508.9 L444 509.8 L446 510.8 L448 511.9 L450 513.1 L452 514.1 L454 515.1 L456 515.8 L458 516.7 L460 517.5 L462 518.2 L464 518.8 L466 519.3 L468 519.4 L470 518.9 L472 518 L474 516.7 L476 515.3 L478 513.9 L480 512.6 L482 511.6 L484 511 L486 511 L488 511.4 L490 512 L492 512.8 L494 513.5 L496 514 L498 514.3 L500 513.9 L502 513 L504 511.9 L506 510.9 L508 510.3 L510 510.7 L512 512.3 L514 514.9 L516 517.9 L518 521 L520 523.7 L522 525.6 L524 526.3 L526 525.5 L528 523.6 L530 521 L532 518.1 L534 515.2 L536 512.7 L538 511.1 L540 510.6 L542 510.8 L544 511.2 L546 511.9 L548 512.5 L550 513.1 L552 513.4 L554 513.3 L556 512.6 L558 511.5 L560 510.2 L562 508.8 L564 507.7 L566 506.9 L568 506.8 L570 507.3 L572 508.2 L574 509.3 L576 510.7 L578 512.2 L580 513.6 L582 514.9 L584 515.9 L586 516.6 L588 516.7 L590 516.2 L592 515.4 L594 514.6 L596 513.9 L598 513.7 L600 513.5 L602 513.4 L604 513.4 L606 513.4 L608 513.3 L610 513.1 L612 512.7 L614 512.2 L616 511.6 L618 510.9 L620 510.4 L622 510 L624 509.9 L626 510.6 L628 512.2 L630 514.2 L632 516.3 L634 518 L636 519 L638 518.8 L640 518.1 L642 517.1 L644 515.8 L646 514.4 L648 513 L650 511.8 L652 510.8 L654 510.3 L656 510.2 L658 510.4 L660 510.9 L662 511.5 L664 512.2 L666 513.1 L668 513.9 L670 514.8 L672 515.5 L674 516.1 L676 516.6 L678 516.7 L680 516.4 L682 515.2 L684 513.4 L686 511.2 L688 509 L690 507.1 L692 505.6 L694 505 L696 505.1 L698 505.3 L700 505.7 L702 506.2 L704 507 L706 508.1" stroke="#f5890f" stroke-width="1.05"/>
<path d="M112 506.7 L114 507.5 L116 508 L118 508.4 L120 508.6 L122 508.6 L124 508.4 L126 507.7 L128 506.7 L130 505.7 L132 504.7 L134 504 L136 503.7 L138 503.9 L140 504.5 L142 505.4 L144 506.5 L146 507.5 L148 508.5 L150 509.2 L152 509.6 L154 509.6 L156 509.3 L158 509 L160 508.6 L162 508.2 L164 507.8 L166 507.5 L168 507.4 L170 507.4 L172 507.5 L174 507.7 L176 508 L178 508.3 L180 508.6 L182 508.8 L184 509 L186 509.2 L188 509.5 L190 509.6 L192 509.8 L194 509.8 L196 509.4 L198 508.6 L200 507.6 L202 506.5 L204 505.7 L206 505.1 L208 505.1 L210 505.3 L212 505.7 L214 506.2 L216 506.8 L218 507.6 L220 508.4 L222 509.2 L224 510.1 L226 511 L228 511.8 L230 512.9 L232 514 L234 515.3 L236 516.7 L238 518 L240 519.4 L242 520.7 L244 522.1 L246 523.7 L248 525.4 L250 527.1 L252 528.7 L254 530.3 L256 531.6 L258 532.6 L260 533.3 L262 533.5 L264 533.6 L266 533.6 L268 533.4 L270 533.2 L272 532.9 L274 532.3 L276 530.2 L278 526.6 L280 522.3 L282 517.7 L284 513.5 L286 510.3 L288 508.6 L290 508.5 L292 508.8 L294 509.4 L296 510.1 L298 510.8 L300 511.4 L302 511.7 L304 511.8 L306 511.6 L308 511.3 L310 511 L312 510.6 L314 510.3 L316 510 L318 509.8 L320 509.6 L322 509.7 L324 509.8 L326 509.9 L328 510.1 L330 510.3 L332 510.4 L334 510.5 L336 510.5 L338 510.3 L340 509.8 L342 509.2 L344 508.6 L346 507.9 L348 507.2 L350 506.1 L352 504.7 L354 503.5 L356 502.5 L358 502.3 L360 503.2 L362 505.3 L364 508.2 L366 511.4 L368 514.5 L370 517 L372 518.6 L374 518.9 L376 518.5 L378 517.8 L380 516.8 L382 515.7 L384 514.6 L386 513.5 L388 512.6 L390 511.9 L392 511.3 L394 510.8 L396 510.2 L398 509.7 L400 509.3 L402 508.8 L404 508.4 L406 508.1 L408 507.9 L410 507.7 L412 507.6 L414 507.6 L416 507.7 L418 507.9 L420 508.2 L422 508.5 L424 508.9 L426 509.3 L428 509.7 L430 510.2 L432 510.7 L434 511.3 L436 511.8 L438 512.3 L440 512.8 L442 513.6 L444 514.5 L446 515.6 L448 516.7 L450 517.8 L452 518.8 L454 519.6 L456 520.2 L458 520.7 L460 521.2 L462 521.6 L464 521.9 L466 522 L468 521.7 L470 520.8 L472 519.5 L474 517.8 L476 516 L478 514.1 L480 512.4 L482 511 L484 510 L486 509.7 L488 509.8 L490 510.1 L492 510.5 L494 511 L496 511.3 L498 511.4 L500 511 L502 510.2 L504 509.2 L506 508.3 L508 507.9 L510 508.4 L512 510.4 L514 513.3 L516 516.8 L518 520.4 L520 523.6 L522 526 L524 527 L526 526.5 L528 524.8 L530 522.4 L532 519.7 L534 517 L536 514.7 L538 513.3 L540 513 L542 513.5 L544 514.1 L546 514.9 L548 515.8 L550 516.4 L552 516.8 L554 516.8 L556 516.2 L558 515.1 L560 513.7 L562 512.3 L564 511.1 L566 510.3 L568 510.1 L570 510.4 L572 511 L574 512 L576 513.2 L578 514.4 L580 515.6 L582 516.7 L584 517.5 L586 518 L588 518.1 L590 517.6 L592 516.9 L594 516.2 L596 515.6 L598 515.4 L600 515.4 L602 515.4 L604 515.5 L606 515.5 L608 515.5 L610 515.5 L612 515.1 L614 514.6 L616 514 L618 513.3 L620 512.8 L622 512.4 L624 512.2 L626 512.9 L628 514.4 L630 516.3 L632 518.2 L634 519.8 L636 520.5 L638 520.3 L640 519.6 L642 518.5 L644 517.2 L646 515.8 L648 514.4 L650 513.1 L652 512.1 L654 511.5 L656 511.2 L658 511.3 L660 511.7 L662 512.2 L664 512.9 L666 513.7 L668 514.5 L670 515.3 L672 516.1 L674 516.7 L676 517.2 L678 517.5 L680 517.2 L682 516.1 L684 514.3 L686 512.2 L688 510.1 L690 508.2 L692 506.8 L694 506.4 L696 506.7 L698 507.1 L700 507.6 L702 508.4 L704 509.3 L706 510.6" stroke="#b8185e" stroke-width="1.05"/>
<path d="M112 509.7 L114 510.7 L116 511.5 L118 512.2 L120 512.7 L122 513.1 L124 513.2 L126 512.9 L128 512.2 L130 511.4 L132 510.7 L134 510.3 L136 510.3 L138 510.8 L140 511.7 L142 512.9 L144 514.1 L146 515.4 L148 516.6 L150 517.5 L152 518 L154 517.9 L156 517.5 L158 516.8 L160 515.9 L162 515 L164 514.1 L166 513.4 L168 513 L170 512.9 L172 513 L174 513.2 L176 513.5 L178 513.8 L180 514.2 L182 514.5 L184 514.7 L186 514.9 L188 515.2 L190 515.4 L192 515.4 L194 515.2 L196 514.4 L198 513.2 L200 511.7 L202 510.2 L204 508.9 L206 507.9 L208 507.6 L210 507.6 L212 507.7 L214 508.1 L216 508.6 L218 509.3 L220 510.1 L222 511 L224 511.9 L226 512.9 L228 513.9 L230 515.1 L232 516.5 L234 518.1 L236 519.7 L238 521.4 L240 523.1 L242 524.8 L244 526.4 L246 528.2 L248 530.1 L250 532 L252 533.8 L254 535.5 L256 537 L258 538.3 L260 539.3 L262 539.9 L264 540.3 L266 540.7 L268 540.9 L270 541.2 L272 541.3 L274 541.1 L276 538.9 L278 534.9 L280 529.8 L282 524.3 L284 519.2 L286 515.2 L288 512.9 L290 512.7 L292 513.1 L294 513.9 L296 515 L298 516.1 L300 517.1 L302 517.7 L304 517.9 L306 517.7 L308 517.4 L310 517 L312 516.6 L314 516.2 L316 515.9 L318 515.8 L320 515.9 L322 516.2 L324 516.5 L326 517 L328 517.4 L330 517.8 L332 518.2 L334 518.4 L336 518.5 L338 518.3 L340 517.9 L342 517.3 L344 516.6 L346 515.8 L348 514.9 L350 513.3 L352 511.5 L354 509.7 L356 508.2 L358 507.6 L360 508 L362 509.6 L364 511.7 L366 514.2 L368 516.7 L370 518.6 L372 519.8 L374 519.9 L376 519.6 L378 519.1 L380 518.5 L382 517.9 L384 517.3 L386 516.7 L388 516.3 L390 516.1 L392 516.1 L394 516 L396 516 L398 516 L400 516 L402 516 L404 516.1 L406 516.2 L408 516.3 L410 516.4 L412 516.6 L414 516.6 L416 516.6 L418 516.6 L420 516.7 L422 516.8 L424 517 L426 517.1 L428 517.3 L430 517.5 L432 517.8 L434 518.1 L436 518.1 L438 518.1 L440 518.2 L442 518.6 L444 519.3 L446 520.3 L448 521.3 L450 522.4 L452 523.3 L454 524 L456 524.4 L458 524.8 L460 525.1 L462 525.5 L464 525.7 L466 525.8 L468 525.7 L470 525 L472 523.7 L474 522.1 L476 520.3 L478 518.5 L480 516.9 L482 515.6 L484 514.8 L486 514.6 L488 514.7 L490 515 L492 515.2 L494 515.4 L496 515.6 L498 515.7 L500 515.4 L502 514.8 L504 514.2 L506 513.6 L508 513.2 L510 513.8 L512 516.1 L514 519.6 L516 523.8 L518 528.2 L520 532 L522 534.8 L524 536 L526 535.3 L528 533.2 L530 530.3 L532 526.9 L534 523.7 L536 520.9 L538 519.2 L540 519 L542 519.4 L544 520.2 L546 521.1 L548 522 L550 522.7 L552 523.2 L554 523.2 L556 522.6 L558 521.5 L560 520.1 L562 518.7 L564 517.5 L566 516.6 L568 516.3 L570 516.5 L572 516.9 L574 517.5 L576 518.3 L578 519.1 L580 519.9 L582 520.7 L584 521.3 L586 521.6 L588 521.7 L590 521.7 L592 521.6 L594 521.6 L596 521.6 L598 521.8 L600 522.1 L602 522.5 L604 523 L606 523.4 L608 523.7 L610 523.8 L612 523.5 L614 522.8 L616 521.8 L618 520.8 L620 519.9 L622 519.1 L624 518.9 L626 519.2 L628 520.1 L630 521.3 L632 522.5 L634 523.5 L636 523.9 L638 523.6 L640 522.9 L642 522 L644 521 L646 519.8 L648 518.7 L650 517.8 L652 517.1 L654 516.7 L656 516.7 L658 517 L660 517.6 L662 518.5 L664 519.5 L666 520.7 L668 521.9 L670 523.1 L672 524.2 L674 525.3 L676 526.1 L678 526.7 L680 526.7 L682 525.7 L684 523.8 L686 521.5 L688 519.1 L690 516.9 L692 515.3 L694 514.4 L696 514.4 L698 514.5 L700 514.8 L702 515.3 L704 516.2 L706 517.4" stroke="#6c12ad" stroke-width="1.05"/>
<path d="M112 507.9 L114 508.5 L116 508.7 L118 508.8 L120 508.7 L122 508.4 L124 507.8 L126 506.8 L128 505.5 L130 504.1 L132 502.8 L134 501.8 L136 501.3 L138 501.3 L140 501.8 L142 502.6 L144 503.6 L146 504.7 L148 505.7 L150 506.6 L152 507.2 L154 507.4 L156 507.4 L158 507.4 L160 507.3 L162 507.3 L164 507.3 L166 507.4 L168 507.6 L170 508 L172 508.5 L174 509.1 L176 509.7 L178 510.3 L180 510.9 L182 511.4 L184 511.8 L186 512.1 L188 512.4 L190 512.7 L192 512.8 L194 512.8 L196 512.3 L198 511.4 L200 510.2 L202 509 L204 508 L206 507.2 L208 507 L210 507.1 L212 507.3 L214 507.6 L216 508.1 L218 508.7 L220 509.4 L222 510.2 L224 511 L226 511.8 L228 512.7 L230 513.7 L232 514.8 L234 516.1 L236 517.4 L238 518.8 L240 520.2 L242 521.5 L244 522.8 L246 524.3 L248 525.9 L250 527.5 L252 529.1 L254 530.5 L256 531.7 L258 532.5 L260 533 L262 533.1 L264 533 L266 532.8 L268 532.5 L270 532.1 L272 531.7 L274 531 L276 528.7 L278 525 L280 520.5 L282 515.9 L284 511.6 L286 508.3 L288 506.6 L290 506.6 L292 507.1 L294 507.9 L296 508.8 L298 509.8 L300 510.7 L302 511.3 L304 511.7 L306 511.8 L308 511.8 L310 511.7 L312 511.6 L314 511.4 L316 511.3 L318 511.3 L320 511.3 L322 511.4 L324 511.6 L326 511.8 L328 511.9 L330 512.1 L332 512.1 L334 512.1 L336 511.9 L338 511.5 L340 510.8 L342 510.1 L344 509.2 L346 508.3 L348 507.4 L350 506.1 L352 504.6 L354 503.1 L356 502.1 L358 501.8 L360 502.7 L362 504.8 L364 507.7 L366 511 L368 514.2 L370 516.9 L372 518.7 L374 519.2 L376 519.2 L378 518.8 L380 518.2 L382 517.4 L384 516.6 L386 515.9 L388 515.2 L390 514.8 L392 514.5 L394 514.1 L396 513.7 L398 513.3 L400 512.8 L402 512.4 L404 511.9 L406 511.4 L408 510.9 L410 510.5 L412 510.1 L414 509.7 L416 509.4 L418 509.2 L420 509 L422 508.8 L424 508.7 L426 508.7 L428 508.7 L430 508.7 L432 508.8 L434 508.9 L436 509.1 L438 509.3 L440 509.6 L442 510.2 L444 511 L446 512 L448 513.2 L450 514.3 L452 515.5 L454 516.4 L456 517.2 L458 518 L460 518.8 L462 519.5 L464 520.2 L466 520.6 L468 520.7 L470 520.3 L472 519.3 L474 518 L476 516.6 L478 515 L480 513.7 L482 512.5 L484 511.9 L486 511.8 L488 512.1 L490 512.5 L492 513.1 L494 513.6 L496 514 L498 514.1 L500 513.7 L502 512.8 L504 511.8 L506 510.8 L508 510.3 L510 510.7 L512 512.5 L514 515.3 L516 518.7 L518 522.2 L520 525.2 L522 527.4 L524 528.2 L526 527.5 L528 525.7 L530 523.1 L532 520.1 L534 517.3 L536 514.8 L538 513.3 L540 513 L542 513.3 L544 514 L546 514.8 L548 515.6 L550 516.3 L552 516.7 L554 516.8 L556 516.2 L558 515.2 L560 513.9 L562 512.6 L564 511.5 L566 510.8 L568 510.7 L570 511.2 L572 512 L574 513 L576 514.3 L578 515.6 L580 516.8 L582 518 L584 518.8 L586 519.4 L588 519.4 L590 519 L592 518.3 L594 517.5 L596 516.9 L598 516.6 L600 516.4 L602 516.3 L604 516.1 L606 516 L608 515.8 L610 515.5 L612 514.9 L614 514.1 L616 513.1 L618 512.2 L620 511.3 L622 510.7 L624 510.3 L626 510.7 L628 512 L630 513.8 L632 515.5 L634 517 L636 517.8 L638 517.6 L640 517 L642 516.1 L644 515 L646 513.8 L648 512.7 L650 511.8 L652 511.1 L654 510.9 L656 511.1 L658 511.6 L660 512.4 L662 513.4 L664 514.5 L666 515.7 L668 516.9 L670 518.1 L672 519.2 L674 520.2 L676 521 L678 521.4 L680 521.4 L682 520.3 L684 518.6 L686 516.5 L688 514.3 L690 512.3 L692 510.7 L694 510 L696 510.1 L698 510.2 L700 510.4 L702 510.8 L704 511.4 L706 512.3" stroke="#f5890f" stroke-width="1.05"/>
<path d="M112 502.6 L114 503.4 L116 504.1 L118 504.6 L120 504.9 L122 505.2 L124 505.1 L126 504.7 L128 504 L130 503.3 L132 502.6 L134 502.2 L136 502.2 L138 502.7 L140 503.6 L142 504.7 L144 505.9 L146 507.1 L148 508.2 L150 509.1 L152 509.5 L154 509.5 L156 509.3 L158 509.1 L160 508.8 L162 508.4 L164 508.1 L166 507.7 L168 507.4 L170 507.2 L172 507 L174 506.9 L176 506.9 L178 506.8 L180 506.8 L182 506.8 L184 506.7 L186 506.6 L188 506.6 L190 506.6 L192 506.7 L194 506.7 L196 506.3 L198 505.6 L200 504.8 L202 503.9 L204 503.3 L206 502.9 L208 503.1 L210 503.5 L212 504.1 L214 504.8 L216 505.6 L218 506.5 L220 507.5 L222 508.4 L224 509.4 L226 510.4 L228 511.3 L230 512.3 L232 513.5 L234 514.7 L236 515.9 L238 517.2 L240 518.4 L242 519.5 L244 520.7 L246 522.1 L248 523.6 L250 525.2 L252 526.7 L254 528 L256 529.1 L258 529.9 L260 530.3 L262 530.3 L264 530.1 L266 529.8 L268 529.4 L270 529 L272 528.5 L274 527.8 L276 525.7 L278 522.4 L280 518.4 L282 514.2 L284 510.4 L286 507.6 L288 506.1 L290 506.2 L292 506.6 L294 507.1 L296 507.8 L298 508.4 L300 508.9 L302 509.3 L304 509.4 L306 509.3 L308 509.1 L310 508.8 L312 508.5 L314 508.2 L316 507.9 L318 507.6 L320 507.4 L322 507.4 L324 507.3 L326 507.4 L328 507.4 L330 507.5 L332 507.5 L334 507.6 L336 507.5 L338 507.3 L340 506.8 L342 506.3 L344 505.7 L346 505.1 L348 504.6 L350 503.7 L352 502.6 L354 501.7 L356 501.1 L358 501.1 L360 502.4 L362 504.9 L364 508.2 L366 511.8 L368 515.3 L370 518.1 L372 520 L374 520.4 L376 520 L378 519.3 L380 518.2 L382 517 L384 515.6 L386 514.2 L388 512.9 L390 511.9 L392 511 L394 510 L396 509.1 L398 508.1 L400 507.1 L402 506.2 L404 505.3 L406 504.5 L408 503.7 L410 503.1 L412 502.6 L414 502.2 L416 501.9 L418 501.8 L420 501.8 L422 502 L424 502.2 L426 502.6 L428 503.1 L430 503.6 L432 504.3 L434 505 L436 505.8 L438 506.6 L440 507.5 L442 508.6 L444 509.9 L446 511.3 L448 512.8 L450 514.3 L452 515.6 L454 516.9 L456 517.9 L458 518.9 L460 519.9 L462 520.7 L464 521.4 L466 521.8 L468 521.8 L470 521.2 L472 520.1 L474 518.7 L476 517 L478 515.2 L480 513.6 L482 512.2 L484 511.2 L486 510.8 L488 510.9 L490 511.1 L492 511.5 L494 511.9 L496 512.1 L498 512 L500 511.4 L502 510.2 L504 508.8 L506 507.6 L508 506.9 L510 507.1 L512 508.7 L514 511.2 L516 514.1 L518 517.2 L520 519.9 L522 521.9 L524 522.6 L526 522 L528 520.4 L530 518.1 L532 515.5 L534 512.9 L536 510.8 L538 509.4 L540 509.2 L542 509.6 L544 510.3 L546 511.1 L548 512 L550 512.7 L552 513.2 L554 513.3 L556 512.8 L558 511.8 L560 510.6 L562 509.4 L564 508.3 L566 507.7 L568 507.7 L570 508.2 L572 509.2 L574 510.5 L576 511.9 L578 513.5 L580 514.9 L582 516.2 L584 517.2 L586 517.9 L588 517.9 L590 517.3 L592 516.3 L594 515.2 L596 514.3 L598 513.9 L600 513.5 L602 513.2 L604 512.9 L606 512.5 L608 512.2 L610 511.7 L612 511.1 L614 510.3 L616 509.5 L618 508.7 L620 507.9 L622 507.4 L624 507.1 L626 507.7 L628 509.2 L630 511.2 L632 513.4 L634 515.2 L636 516.2 L638 516.1 L640 515.6 L642 514.6 L644 513.5 L646 512.4 L648 511.2 L650 510.3 L652 509.7 L654 509.5 L656 509.7 L658 510.3 L660 511.1 L662 512.1 L664 513.2 L666 514.4 L668 515.5 L670 516.6 L672 517.6 L674 518.3 L676 518.8 L678 519.1 L680 518.7 L682 517.5 L684 515.6 L686 513.3 L688 510.9 L690 508.7 L692 507 L694 506 L696 505.7 L698 505.5 L700 505.4 L702 505.5 L704 505.9 L706 506.5" stroke="#b8185e" stroke-width="1.05"/>
<path d="M112 506.3 L114 507 L116 507.4 L118 507.6 L120 507.7 L122 507.5 L124 507.1 L126 506.3 L128 505.1 L130 503.9 L132 502.8 L134 502 L136 501.6 L138 501.7 L140 502.2 L142 503.1 L144 504.1 L146 505.2 L148 506.2 L150 507 L152 507.5 L154 507.6 L156 507.6 L158 507.5 L160 507.4 L162 507.3 L164 507.3 L166 507.4 L168 507.6 L170 507.9 L172 508.4 L174 508.9 L176 509.5 L178 510.1 L180 510.6 L182 511.1 L184 511.6 L186 511.9 L188 512.3 L190 512.6 L192 512.8 L194 512.8 L196 512.4 L198 511.5 L200 510.4 L202 509.2 L204 508.1 L206 507.3 L208 506.9 L210 506.8 L212 506.8 L214 506.9 L216 507.1 L218 507.4 L220 507.7 L222 508.1 L224 508.5 L226 508.9 L228 509.4 L230 510 L232 510.8 L234 511.8 L236 512.8 L238 513.9 L240 515.1 L242 516.3 L244 517.6 L246 519.2 L248 520.9 L250 522.8 L252 524.6 L254 526.3 L256 527.9 L258 529.2 L260 530.1 L262 530.7 L264 531.1 L266 531.4 L268 531.7 L270 531.8 L272 531.9 L274 531.7 L276 529.9 L278 526.8 L280 522.9 L282 518.8 L284 514.9 L286 512 L288 510.6 L290 510.6 L292 511.1 L294 511.7 L296 512.3 L298 513 L300 513.5 L302 513.8 L304 513.7 L306 513.4 L308 512.9 L310 512.3 L312 511.7 L314 511.1 L316 510.6 L318 510.1 L320 509.7 L322 509.4 L324 509.2 L326 509 L328 508.9 L330 508.8 L332 508.7 L334 508.6 L336 508.4 L338 508 L340 507.4 L342 506.7 L344 506 L346 505.3 L348 504.5 L350 503.5 L352 502.2 L354 501 L356 500.2 L358 500.1 L360 501.2 L362 503.5 L364 506.6 L366 510.1 L368 513.4 L370 516.2 L372 518 L374 518.5 L376 518.4 L378 517.9 L380 517.1 L382 516.2 L384 515.2 L386 514.2 L388 513.4 L390 512.8 L392 512.4 L394 511.9 L396 511.5 L398 511 L400 510.6 L402 510.1 L404 509.7 L406 509.3 L408 509 L410 508.8 L412 508.5 L414 508.4 L416 508.4 L418 508.4 L420 508.5 L422 508.6 L424 508.7 L426 508.9 L428 509.1 L430 509.4 L432 509.6 L434 509.9 L436 510.2 L438 510.4 L440 510.7 L442 511.2 L444 511.9 L446 512.8 L448 513.7 L450 514.6 L452 515.4 L454 516.1 L456 516.6 L458 517.1 L460 517.6 L462 518 L464 518.4 L466 518.5 L468 518.4 L470 517.7 L472 516.5 L474 515.1 L476 513.5 L478 511.9 L480 510.6 L482 509.5 L484 508.9 L486 508.9 L488 509.4 L490 510.1 L492 510.9 L494 511.8 L496 512.5 L498 513 L500 512.9 L502 512.3 L504 511.5 L506 510.9 L508 510.7 L510 511.3 L512 513.3 L514 516.3 L516 519.7 L518 523.2 L520 526.3 L522 528.4 L524 529.3 L526 528.6 L528 526.8 L530 524.1 L532 521.2 L534 518.2 L536 515.6 L538 513.9 L540 513.3 L542 513.3 L544 513.6 L546 514.1 L548 514.5 L550 514.9 L552 515 L554 514.6 L556 513.8 L558 512.4 L560 510.9 L562 509.3 L564 508 L566 507.1 L568 506.8 L570 507.1 L572 507.9 L574 509 L576 510.3 L578 511.7 L580 513.1 L582 514.3 L584 515.4 L586 516.1 L588 516.3 L590 516.1 L592 515.5 L594 514.9 L596 514.5 L598 514.4 L600 514.4 L602 514.6 L604 514.7 L606 514.8 L608 514.8 L610 514.8 L612 514.5 L614 513.9 L616 513.3 L618 512.6 L620 512 L622 511.6 L624 511.4 L626 511.9 L628 513.4 L630 515.2 L632 517.1 L634 518.7 L636 519.5 L638 519.2 L640 518.5 L642 517.4 L644 516.1 L646 514.7 L648 513.3 L650 512.2 L652 511.3 L654 510.8 L656 510.8 L658 511.1 L660 511.7 L662 512.5 L664 513.5 L666 514.5 L668 515.6 L670 516.7 L672 517.6 L674 518.5 L676 519.1 L678 519.5 L680 519.4 L682 518.4 L684 516.7 L686 514.6 L688 512.4 L690 510.5 L692 509 L694 508.3 L696 508.4 L698 508.5 L700 508.7 L702 509 L704 509.6 L706 510.4" stroke="#6c12ad" stroke-width="1.05"/>
<path d="M112 509.2 L114 509.8 L116 510.2 L118 510.4 L120 510.6 L122 510.6 L124 510.5 L126 509.9 L128 509 L130 508.1 L132 507.3 L134 506.9 L136 506.9 L138 507.4 L140 508.4 L142 509.7 L144 511.1 L146 512.5 L148 513.8 L150 514.8 L152 515.4 L154 515.5 L156 515.3 L158 514.7 L160 514 L162 513.2 L164 512.4 L166 511.8 L168 511.3 L170 511.1 L172 511 L174 511 L176 511.1 L178 511.3 L180 511.4 L182 511.6 L184 511.7 L186 511.8 L188 511.9 L190 512.1 L192 512.2 L194 512.2 L196 511.6 L198 510.7 L200 509.6 L202 508.5 L204 507.6 L206 507.2 L208 507.3 L210 507.8 L212 508.5 L214 509.3 L216 510.3 L218 511.4 L220 512.6 L222 513.8 L224 514.9 L226 516.1 L228 517.2 L230 518.4 L232 519.8 L234 521.1 L236 522.5 L238 523.9 L240 525.2 L242 526.4 L244 527.6 L246 528.8 L248 530.2 L250 531.5 L252 532.7 L254 533.8 L256 534.7 L258 535.5 L260 535.9 L262 536 L264 536 L266 536 L268 536 L270 535.9 L272 535.7 L274 535.3 L276 533.1 L278 529.2 L280 524.5 L282 519.4 L284 514.8 L286 511.2 L288 509.5 L290 509.5 L292 510.3 L294 511.3 L296 512.6 L298 513.9 L300 515 L302 515.8 L304 516.1 L306 516.1 L308 515.9 L310 515.6 L312 515.2 L314 514.8 L316 514.6 L318 514.4 L320 514.3 L322 514.5 L324 514.7 L326 515 L328 515.3 L330 515.6 L332 515.9 L334 516.1 L336 516.2 L338 516.1 L340 515.8 L342 515.4 L344 514.9 L346 514.4 L348 513.8 L350 512.7 L352 511.2 L354 509.9 L356 508.8 L358 508.5 L360 509.4 L362 511.3 L364 513.8 L366 516.6 L368 519.3 L370 521.5 L372 522.7 L374 522.7 L376 522.2 L378 521.4 L380 520.4 L382 519.3 L384 518.1 L386 516.9 L388 515.9 L390 515 L392 514.3 L394 513.6 L396 513 L398 512.4 L400 511.8 L402 511.4 L404 511 L406 510.7 L408 510.5 L410 510.4 L412 510.5 L414 510.6 L416 510.9 L418 511.3 L420 511.7 L422 512.2 L424 512.7 L426 513.3 L428 513.8 L430 514.4 L432 515 L434 515.6 L436 516.2 L438 516.7 L440 517.2 L442 518 L444 519 L446 520.1 L448 521.3 L450 522.5 L452 523.4 L454 524.1 L456 524.4 L458 524.7 L460 524.9 L462 525.1 L464 525.1 L466 525 L468 524.6 L470 523.6 L472 522.2 L474 520.4 L476 518.5 L478 516.6 L480 514.9 L482 513.6 L484 512.8 L486 512.7 L488 513 L490 513.4 L492 514 L494 514.5 L496 515.1 L498 515.4 L500 515.5 L502 515.1 L504 514.7 L506 514.3 L508 514.1 L510 514.8 L512 517.2 L514 520.6 L516 524.7 L518 528.8 L520 532.3 L522 534.8 L524 535.7 L526 534.8 L528 532.5 L530 529.3 L532 525.7 L534 522.1 L536 519.1 L538 517 L540 516.3 L542 516.3 L544 516.6 L546 517.1 L548 517.7 L550 518.2 L552 518.4 L554 518.3 L556 517.7 L558 516.6 L560 515.3 L562 514.1 L564 513 L566 512.4 L568 512.5 L570 513 L572 513.8 L574 514.9 L576 516.2 L578 517.5 L580 518.8 L582 520 L584 520.9 L586 521.6 L588 521.9 L590 521.9 L592 521.8 L594 521.6 L596 521.5 L598 521.5 L600 521.7 L602 521.9 L604 522 L606 522.2 L608 522.2 L610 522.1 L612 521.6 L614 520.7 L616 519.7 L618 518.6 L620 517.6 L622 516.9 L624 516.5 L626 516.9 L628 518 L630 519.5 L632 520.9 L634 522.2 L636 522.8 L638 522.7 L640 522.2 L642 521.4 L644 520.4 L646 519.4 L648 518.4 L650 517.5 L652 516.8 L654 516.4 L656 516.3 L658 516.6 L660 517.1 L662 517.7 L664 518.5 L666 519.4 L668 520.3 L670 521.1 L672 521.9 L674 522.6 L676 523 L678 523.3 L680 523 L682 521.7 L684 519.7 L686 517.3 L688 514.8 L690 512.7 L692 511.1 L694 510.5 L696 510.8 L698 511.2 L700 511.8 L702 512.7 L704 513.8 L706 515.2" stroke="#b8185e" stroke-width="1.05"/>
</g>
<rect x="87.5" y="480" width="645.3" height="134" fill="none" stroke="#000" stroke-width="1.6"/>
<line x1="79.5" y1="509.9" x2="87.5" y2="509.9" stroke="#000" stroke-width="1.2"/>
<text x="70.2" y="509.9" font-size="12.4" font-weight="normal" fill="#000" text-anchor="middle" textLength="12" lengthAdjust="spacingAndGlyphs" transform="rotate(-90 70.2 509.9)" stroke="#000" stroke-width="0.3">0.8</text>
<line x1="79.5" y1="547.1" x2="87.5" y2="547.1" stroke="#000" stroke-width="1.2"/>
<text x="70.2" y="547.1" font-size="12.4" font-weight="normal" fill="#000" text-anchor="middle" textLength="12" lengthAdjust="spacingAndGlyphs" transform="rotate(-90 70.2 547.1)" stroke="#000" stroke-width="0.3">0.5</text>
<line x1="79.5" y1="584.3" x2="87.5" y2="584.3" stroke="#000" stroke-width="1.2"/>
<text x="70.2" y="584.3" font-size="12.4" font-weight="normal" fill="#000" text-anchor="middle" textLength="12" lengthAdjust="spacingAndGlyphs" transform="rotate(-90 70.2 584.3)" stroke="#000" stroke-width="0.3">0.2</text>
<text x="39.4" y="542.6" font-size="11.6" font-weight="normal" fill="#000" text-anchor="middle" textLength="60.4" lengthAdjust="spacingAndGlyphs" transform="rotate(-90 39.4 542.6)" stroke="#000" stroke-width="0.45">Methylation</text>
<text x="179.6" y="477.9" font-size="11.6" font-weight="normal" fill="#000" text-anchor="start" textLength="420.8" lengthAdjust="spacingAndGlyphs" stroke="#000" stroke-width="0.45">chr12: 127,659,453&#8211; 127,959,536 (width = 300,084, extended = 200,000)</text>
<text x="33.3" y="630.6" font-size="11.6" font-weight="normal" fill="#000" text-anchor="start" textLength="41.2" lengthAdjust="spacingAndGlyphs" stroke="#000" stroke-width="0.45">Cancer</text>
<rect x="87" y="623.8" width="66.8" height="6" fill="#9b9b9b"/>
<rect x="169.5" y="623.8" width="26.2" height="6" fill="#9b9b9b"/>
<rect x="227.8" y="623.8" width="12.2" height="6" fill="#9b9b9b"/>
<rect x="276.5" y="623.8" width="456.3" height="6" fill="#9b9b9b"/>
<text x="43.4" y="651.4" font-size="11.6" font-weight="normal" fill="#000" text-anchor="start" textLength="29.8" lengthAdjust="spacingAndGlyphs" stroke="#000" stroke-width="0.45">LADs</text>
<text x="33.4" y="671.8" font-size="11.6" font-weight="normal" fill="#000" text-anchor="start" textLength="38.1" lengthAdjust="spacingAndGlyphs" stroke="#000" stroke-width="0.45">LOCKs</text>
<rect x="159.8" y="665" width="256.4" height="6" fill="#9b9b9b"/>
<rect x="437.3" y="665" width="105.8" height="6" fill="#9b9b9b"/>
</svg>
</body></html>
